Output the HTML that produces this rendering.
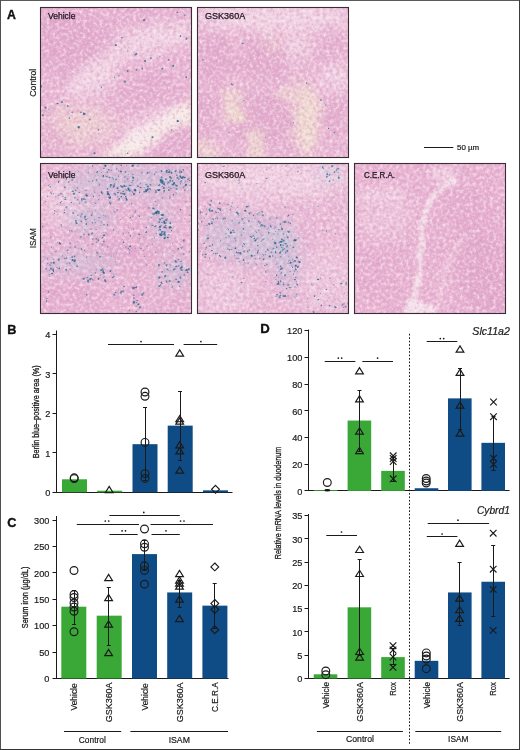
<!DOCTYPE html>
<html><head><meta charset="utf-8"><style>
html,body{margin:0;padding:0;background:#fff;}
svg{display:block;}
text{font-family:"Liberation Sans", sans-serif;stroke:#1a1a1a;stroke-width:0.2px;}
</style></head><body>
<svg width="520" height="750" viewBox="0 0 520 750" font-family="Liberation Sans">
<rect x="0.00" y="0.00" width="520.00" height="750.00" fill="#ffffff" />
<defs>
<clipPath id="cp0"><rect x="40" y="7" width="152" height="151"/></clipPath>
<filter id="t0" x="0" y="0" width="1" height="1" color-interpolation-filters="sRGB">
  <feTurbulence type="fractalNoise" baseFrequency="0.3" numOctaves="3" seed="5" result="n"/>
  <feColorMatrix in="n" type="matrix" values="0 0 0 0 0.84  0 0 0 0 0.60  0 0 0 0 0.74  -1.8 0 0 0 0.86" result="dk"/>
  <feColorMatrix in="n" type="matrix" values="0 0 0 0 1  0 0 0 0 0.94  0 0 0 0 0.96  1.8 0 0 0 -0.86" result="lt"/>
  <feMerge><feMergeNode in="dk"/><feMergeNode in="lt"/></feMerge>
  <feGaussianBlur stdDeviation="0.55"/>
</filter>
<filter id="m0" x="0" y="0" width="1" height="1" color-interpolation-filters="sRGB">
  <feTurbulence type="fractalNoise" baseFrequency="0.07" numOctaves="2" seed="31"/>
  <feColorMatrix type="matrix" values="0 0 0 0 0.86  0 0 0 0 0.64  0 0 0 0 0.80  3 0 0 0 -1.35"/>
</filter>
<clipPath id="cp1"><rect x="197" y="7" width="152" height="151"/></clipPath>
<filter id="t1" x="0" y="0" width="1" height="1" color-interpolation-filters="sRGB">
  <feTurbulence type="fractalNoise" baseFrequency="0.3" numOctaves="3" seed="22" result="n"/>
  <feColorMatrix in="n" type="matrix" values="0 0 0 0 0.84  0 0 0 0 0.60  0 0 0 0 0.74  -1.8 0 0 0 0.86" result="dk"/>
  <feColorMatrix in="n" type="matrix" values="0 0 0 0 1  0 0 0 0 0.94  0 0 0 0 0.96  1.8 0 0 0 -0.86" result="lt"/>
  <feMerge><feMergeNode in="dk"/><feMergeNode in="lt"/></feMerge>
  <feGaussianBlur stdDeviation="0.55"/>
</filter>
<filter id="m1" x="0" y="0" width="1" height="1" color-interpolation-filters="sRGB">
  <feTurbulence type="fractalNoise" baseFrequency="0.07" numOctaves="2" seed="38"/>
  <feColorMatrix type="matrix" values="0 0 0 0 0.86  0 0 0 0 0.64  0 0 0 0 0.80  3 0 0 0 -1.35"/>
</filter>
<clipPath id="cp2"><rect x="40" y="163" width="152" height="151"/></clipPath>
<filter id="t2" x="0" y="0" width="1" height="1" color-interpolation-filters="sRGB">
  <feTurbulence type="fractalNoise" baseFrequency="0.3" numOctaves="3" seed="39" result="n"/>
  <feColorMatrix in="n" type="matrix" values="0 0 0 0 0.84  0 0 0 0 0.60  0 0 0 0 0.74  -1.8 0 0 0 0.86" result="dk"/>
  <feColorMatrix in="n" type="matrix" values="0 0 0 0 1  0 0 0 0 0.94  0 0 0 0 0.96  1.8 0 0 0 -0.86" result="lt"/>
  <feMerge><feMergeNode in="dk"/><feMergeNode in="lt"/></feMerge>
  <feGaussianBlur stdDeviation="0.55"/>
</filter>
<filter id="m2" x="0" y="0" width="1" height="1" color-interpolation-filters="sRGB">
  <feTurbulence type="fractalNoise" baseFrequency="0.07" numOctaves="2" seed="45"/>
  <feColorMatrix type="matrix" values="0 0 0 0 0.86  0 0 0 0 0.64  0 0 0 0 0.80  3 0 0 0 -1.35"/>
</filter>
<clipPath id="cp3"><rect x="197" y="163" width="152" height="151"/></clipPath>
<filter id="t3" x="0" y="0" width="1" height="1" color-interpolation-filters="sRGB">
  <feTurbulence type="fractalNoise" baseFrequency="0.3" numOctaves="3" seed="56" result="n"/>
  <feColorMatrix in="n" type="matrix" values="0 0 0 0 0.84  0 0 0 0 0.60  0 0 0 0 0.74  -1.8 0 0 0 0.86" result="dk"/>
  <feColorMatrix in="n" type="matrix" values="0 0 0 0 1  0 0 0 0 0.94  0 0 0 0 0.96  1.8 0 0 0 -0.86" result="lt"/>
  <feMerge><feMergeNode in="dk"/><feMergeNode in="lt"/></feMerge>
  <feGaussianBlur stdDeviation="0.55"/>
</filter>
<filter id="m3" x="0" y="0" width="1" height="1" color-interpolation-filters="sRGB">
  <feTurbulence type="fractalNoise" baseFrequency="0.07" numOctaves="2" seed="52"/>
  <feColorMatrix type="matrix" values="0 0 0 0 0.86  0 0 0 0 0.64  0 0 0 0 0.80  3 0 0 0 -1.35"/>
</filter>
<clipPath id="cp4"><rect x="354" y="163" width="152" height="151"/></clipPath>
<filter id="t4" x="0" y="0" width="1" height="1" color-interpolation-filters="sRGB">
  <feTurbulence type="fractalNoise" baseFrequency="0.3" numOctaves="3" seed="73" result="n"/>
  <feColorMatrix in="n" type="matrix" values="0 0 0 0 0.84  0 0 0 0 0.60  0 0 0 0 0.74  -1.8 0 0 0 0.86" result="dk"/>
  <feColorMatrix in="n" type="matrix" values="0 0 0 0 1  0 0 0 0 0.94  0 0 0 0 0.96  1.8 0 0 0 -0.86" result="lt"/>
  <feMerge><feMergeNode in="dk"/><feMergeNode in="lt"/></feMerge>
  <feGaussianBlur stdDeviation="0.55"/>
</filter>
<filter id="m4" x="0" y="0" width="1" height="1" color-interpolation-filters="sRGB">
  <feTurbulence type="fractalNoise" baseFrequency="0.07" numOctaves="2" seed="59"/>
  <feColorMatrix type="matrix" values="0 0 0 0 0.86  0 0 0 0 0.64  0 0 0 0 0.80  3 0 0 0 -1.35"/>
</filter>
<filter id="b1" x="-50%" y="-50%" width="200%" height="200%"><feGaussianBlur stdDeviation="1"/></filter>
<filter id="b2" x="-50%" y="-50%" width="200%" height="200%"><feGaussianBlur stdDeviation="2"/></filter>
<filter id="b3" x="-50%" y="-50%" width="200%" height="200%"><feGaussianBlur stdDeviation="3"/></filter>
<filter id="b4" x="-50%" y="-50%" width="200%" height="200%"><feGaussianBlur stdDeviation="4"/></filter>
<filter id="b5" x="-50%" y="-50%" width="200%" height="200%"><feGaussianBlur stdDeviation="5"/></filter>
<filter id="b6" x="-50%" y="-50%" width="200%" height="200%"><feGaussianBlur stdDeviation="6"/></filter>
<filter id="b8" x="-50%" y="-50%" width="200%" height="200%"><feGaussianBlur stdDeviation="8"/></filter>
<filter id="org0" x="-10%" y="-10%" width="120%" height="120%"><feTurbulence type="fractalNoise" baseFrequency="0.08" numOctaves="2" seed="50" result="t"/><feDisplacementMap in="SourceGraphic" in2="t" scale="16" xChannelSelector="R" yChannelSelector="G"/><feGaussianBlur stdDeviation="2.5"/></filter>
<filter id="org1" x="-10%" y="-10%" width="120%" height="120%"><feTurbulence type="fractalNoise" baseFrequency="0.08" numOctaves="2" seed="51" result="t"/><feDisplacementMap in="SourceGraphic" in2="t" scale="22" xChannelSelector="R" yChannelSelector="G"/><feGaussianBlur stdDeviation="2.5"/></filter>
<filter id="org2" x="-10%" y="-10%" width="120%" height="120%"><feTurbulence type="fractalNoise" baseFrequency="0.08" numOctaves="2" seed="52" result="t"/><feDisplacementMap in="SourceGraphic" in2="t" scale="16" xChannelSelector="R" yChannelSelector="G"/><feGaussianBlur stdDeviation="2.5"/></filter>
<filter id="org3" x="-10%" y="-10%" width="120%" height="120%"><feTurbulence type="fractalNoise" baseFrequency="0.08" numOctaves="2" seed="53" result="t"/><feDisplacementMap in="SourceGraphic" in2="t" scale="16" xChannelSelector="R" yChannelSelector="G"/><feGaussianBlur stdDeviation="2.5"/></filter>
<filter id="org4" x="-10%" y="-10%" width="120%" height="120%"><feTurbulence type="fractalNoise" baseFrequency="0.08" numOctaves="2" seed="54" result="t"/><feDisplacementMap in="SourceGraphic" in2="t" scale="5" xChannelSelector="R" yChannelSelector="G"/><feGaussianBlur stdDeviation="0.8"/></filter>
<filter id="bd" x="-100%" y="-100%" width="300%" height="300%"><feGaussianBlur stdDeviation="0.45"/></filter>
</defs>
<g clip-path="url(#cp0)">
<rect x="40" y="7" width="152" height="151" fill="#e9b8d5"/>
<rect x="40" y="7" width="152" height="151" filter="url(#m0)" opacity="0.35"/>
<g filter="url(#org0)">
<ellipse cx="70" cy="42" rx="40" ry="32" transform="rotate(20 70 42)" fill="#dc9fc6" opacity="0.45" filter="url(#b8)"/>
<ellipse cx="145" cy="19" rx="45" ry="12" transform="rotate(-10 145 19)" fill="#dc9fc6" opacity="0.25" filter="url(#b8)"/>
<ellipse cx="152" cy="39" rx="45" ry="14" transform="rotate(-15 152 39)" fill="#f6e6ee" opacity="0.6" filter="url(#b6)"/>
<ellipse cx="95" cy="75" rx="32" ry="15" transform="rotate(-35 95 75)" fill="#f6e6ee" opacity="0.65" filter="url(#b6)"/>
<ellipse cx="150" cy="92" rx="28" ry="18" transform="rotate(0 150 92)" fill="#dc9fc6" opacity="0.3" filter="url(#b8)"/>
<ellipse cx="80" cy="125" rx="35" ry="20" transform="rotate(0 80 125)" fill="#f0e0d0" opacity="0.55" filter="url(#b8)"/>
<ellipse cx="50" cy="139" rx="15" ry="20" transform="rotate(0 50 139)" fill="#dc9fc6" opacity="0.25" filter="url(#b6)"/>
<polygon points="98.0,158.0 140.0,129.0 192.0,97.0 192.0,123.0 150.0,143.0 132.0,158.0" fill="#f6ece4" opacity="1.0" filter="url(#b2)"/>
<ellipse cx="150" cy="127" rx="35" ry="12" transform="rotate(-32 150 127)" fill="#f6e6ee" opacity="0.6" filter="url(#b5)"/>
<ellipse cx="172" cy="147" rx="28" ry="14" transform="rotate(-30 172 147)" fill="#dc9fc6" opacity="0.3" filter="url(#b6)"/>
</g>
<rect x="40" y="7" width="152" height="151" filter="url(#t0)"/>
<g filter="url(#bd)"><ellipse cx="143.8" cy="20.2" rx="0.96" ry="1.00" fill="#4a82a8" opacity="0.85"/><ellipse cx="144.6" cy="19.7" rx="0.83" ry="0.80" fill="#2b557c" opacity="0.64"/><ellipse cx="177.4" cy="12.3" rx="0.91" ry="0.71" fill="#3a6890" opacity="0.89"/><ellipse cx="184.7" cy="15.2" rx="0.87" ry="0.96" fill="#5a8fb0" opacity="0.73"/><ellipse cx="127.7" cy="50.9" rx="0.72" ry="0.67" fill="#4a82a8" opacity="0.66"/><ellipse cx="136.5" cy="53.8" rx="0.78" ry="1.07" fill="#3a6890" opacity="0.81"/><ellipse cx="135.6" cy="54.6" rx="1.02" ry="0.98" fill="#2f6288" opacity="0.65"/><ellipse cx="145.3" cy="61.1" rx="0.68" ry="0.94" fill="#2f6288" opacity="0.81"/><ellipse cx="144.8" cy="61.1" rx="0.95" ry="1.00" fill="#3a7098" opacity="0.63"/><ellipse cx="151.1" cy="58.2" rx="0.73" ry="0.99" fill="#5a8fb0" opacity="0.78"/><ellipse cx="150.7" cy="58.1" rx="1.04" ry="0.69" fill="#2f6288" opacity="0.66"/><ellipse cx="159.9" cy="56.7" rx="0.70" ry="0.73" fill="#5a8fb0" opacity="0.67"/><ellipse cx="168.7" cy="59.6" rx="0.78" ry="0.65" fill="#3a6890" opacity="0.71"/><ellipse cx="168.5" cy="60.2" rx="0.71" ry="0.64" fill="#3a6890" opacity="0.68"/><ellipse cx="173.0" cy="65.5" rx="0.97" ry="0.85" fill="#3a7098" opacity="0.55"/><ellipse cx="173.0" cy="66.0" rx="1.06" ry="1.05" fill="#5a8fb0" opacity="0.62"/><ellipse cx="173.5" cy="65.8" rx="0.88" ry="0.67" fill="#2f6288" opacity="0.86"/><ellipse cx="162.8" cy="68.4" rx="0.73" ry="0.70" fill="#4a82a8" opacity="0.60"/><ellipse cx="162.1" cy="68.8" rx="0.70" ry="0.93" fill="#2f6288" opacity="0.84"/><ellipse cx="142.3" cy="68.4" rx="0.75" ry="0.97" fill="#3a7098" opacity="0.83"/><ellipse cx="136.5" cy="69.9" rx="0.82" ry="0.74" fill="#2f6288" opacity="0.56"/><ellipse cx="136.2" cy="69.7" rx="0.71" ry="0.94" fill="#5a8fb0" opacity="0.86"/><ellipse cx="127.7" cy="71.3" rx="0.86" ry="0.82" fill="#3a7098" opacity="0.57"/><ellipse cx="127.6" cy="70.8" rx="0.91" ry="0.72" fill="#2f6288" opacity="0.74"/><ellipse cx="118.9" cy="75.7" rx="0.78" ry="0.76" fill="#5a8fb0" opacity="0.73"/><ellipse cx="114.6" cy="77.2" rx="0.75" ry="0.82" fill="#4a82a8" opacity="0.83"/><ellipse cx="124.8" cy="81.6" rx="0.89" ry="0.91" fill="#3a7098" opacity="0.60"/><ellipse cx="125.5" cy="81.8" rx="0.75" ry="0.83" fill="#4a82a8" opacity="0.69"/><ellipse cx="124.7" cy="81.1" rx="0.96" ry="0.85" fill="#4a82a8" opacity="0.71"/><ellipse cx="186.2" cy="77.2" rx="0.79" ry="1.04" fill="#3a6890" opacity="0.89"/><ellipse cx="180.4" cy="36.2" rx="0.64" ry="0.90" fill="#2f6288" opacity="0.85"/><ellipse cx="186.2" cy="39.2" rx="0.71" ry="0.79" fill="#4a82a8" opacity="0.80"/><ellipse cx="186.8" cy="38.4" rx="0.77" ry="0.98" fill="#3a7098" opacity="0.70"/><ellipse cx="101.4" cy="87.4" rx="0.67" ry="1.00" fill="#2f6288" opacity="0.67"/><ellipse cx="110.2" cy="94.7" rx="0.64" ry="0.68" fill="#5a8fb0" opacity="0.56"/><ellipse cx="45.8" cy="107.9" rx="0.81" ry="1.02" fill="#2f6288" opacity="0.58"/><ellipse cx="45.2" cy="107.3" rx="0.89" ry="0.79" fill="#3a6890" opacity="0.65"/><ellipse cx="48.8" cy="109.3" rx="0.67" ry="0.72" fill="#5a8fb0" opacity="0.78"/><ellipse cx="57.5" cy="103.5" rx="1.07" ry="0.64" fill="#5a8fb0" opacity="0.60"/><ellipse cx="57.6" cy="103.6" rx="0.98" ry="0.70" fill="#2b557c" opacity="0.70"/><ellipse cx="61.9" cy="102.0" rx="0.93" ry="1.02" fill="#4a82a8" opacity="0.79"/><ellipse cx="62.0" cy="102.2" rx="0.77" ry="0.83" fill="#4a82a8" opacity="0.66"/><ellipse cx="67.8" cy="106.4" rx="0.69" ry="0.88" fill="#3a7098" opacity="0.75"/><ellipse cx="67.8" cy="105.7" rx="0.91" ry="0.64" fill="#3a7098" opacity="0.66"/><ellipse cx="72.2" cy="112.3" rx="0.87" ry="0.84" fill="#2b557c" opacity="0.57"/><ellipse cx="80.9" cy="112.3" rx="1.04" ry="0.78" fill="#2f6288" opacity="0.68"/><ellipse cx="83.9" cy="113.7" rx="0.74" ry="1.08" fill="#2b557c" opacity="0.87"/><ellipse cx="84.6" cy="113.8" rx="1.05" ry="0.92" fill="#2f6288" opacity="0.79"/><ellipse cx="83.8" cy="114.2" rx="0.92" ry="0.66" fill="#3a7098" opacity="0.75"/><ellipse cx="69.2" cy="118.1" rx="0.67" ry="0.89" fill="#2f6288" opacity="0.89"/><ellipse cx="42.9" cy="115.2" rx="0.85" ry="0.96" fill="#2b557c" opacity="0.78"/><ellipse cx="79.5" cy="126.9" rx="0.74" ry="0.83" fill="#5a8fb0" opacity="0.59"/><ellipse cx="78.6" cy="127.6" rx="1.04" ry="0.80" fill="#2b557c" opacity="0.72"/><ellipse cx="78.7" cy="126.8" rx="0.78" ry="0.83" fill="#2b557c" opacity="0.75"/><ellipse cx="98.5" cy="129.8" rx="0.73" ry="0.91" fill="#2b557c" opacity="0.64"/><ellipse cx="89.7" cy="119.6" rx="0.91" ry="0.86" fill="#3a6890" opacity="0.65"/><ellipse cx="152.6" cy="137.1" rx="1.03" ry="0.94" fill="#2f6288" opacity="0.83"/><ellipse cx="152.2" cy="137.5" rx="0.80" ry="1.05" fill="#4a82a8" opacity="0.63"/><ellipse cx="171.6" cy="129.8" rx="0.74" ry="0.88" fill="#3a7098" opacity="0.60"/><ellipse cx="177.4" cy="121.0" rx="0.99" ry="0.98" fill="#4a82a8" opacity="0.62"/><ellipse cx="178.0" cy="121.3" rx="0.86" ry="0.64" fill="#2b557c" opacity="0.69"/><ellipse cx="177.8" cy="120.9" rx="0.92" ry="0.96" fill="#2b557c" opacity="0.75"/><ellipse cx="94.1" cy="153.2" rx="0.86" ry="0.87" fill="#3a6890" opacity="0.72"/><ellipse cx="94.7" cy="153.2" rx="0.92" ry="1.03" fill="#3a7098" opacity="0.80"/><ellipse cx="127.7" cy="153.2" rx="0.75" ry="0.77" fill="#2b557c" opacity="0.81"/><ellipse cx="41.5" cy="85.9" rx="0.67" ry="0.81" fill="#3a6890" opacity="0.59"/><ellipse cx="41.3" cy="86.8" rx="0.63" ry="0.84" fill="#3a6890" opacity="0.56"/><ellipse cx="121.9" cy="37.7" rx="1.01" ry="0.75" fill="#2f6288" opacity="0.69"/><ellipse cx="116.0" cy="45.0" rx="0.78" ry="0.90" fill="#2b557c" opacity="0.56"/><ellipse cx="115.6" cy="45.2" rx="0.84" ry="0.79" fill="#2b557c" opacity="0.72"/></g>
</g>
<g clip-path="url(#cp1)">
<rect x="197" y="7" width="152" height="151" fill="#eabbd6"/>
<rect x="197" y="7" width="152" height="151" filter="url(#m1)" opacity="0.35"/>
<g filter="url(#org1)">
<ellipse cx="273" cy="17" rx="80" ry="14" transform="rotate(0 273 17)" fill="#f6e6ee" opacity="0.6" filter="url(#b6)"/>
<ellipse cx="217" cy="57" rx="17" ry="26" transform="rotate(0 217 57)" fill="#dc9fc6" opacity="0.45" filter="url(#b5)"/>
<ellipse cx="263" cy="59" rx="22" ry="22" transform="rotate(0 263 59)" fill="#dc9fc6" opacity="0.45" filter="url(#b5)"/>
<ellipse cx="336" cy="51" rx="13" ry="14" transform="rotate(0 336 51)" fill="#dc9fc6" opacity="0.35" filter="url(#b5)"/>
<ellipse cx="297" cy="47" rx="14" ry="12" transform="rotate(0 297 47)" fill="#f6e6ee" opacity="0.5" filter="url(#b5)"/>
<ellipse cx="272" cy="43" rx="8" ry="10" transform="rotate(0 272 43)" fill="#f0e0d0" opacity="0.5" filter="url(#b4)"/>
<ellipse cx="206" cy="111" rx="9" ry="28" transform="rotate(0 206 111)" fill="#dc9fc6" opacity="0.4" filter="url(#b4)"/>
<ellipse cx="263" cy="121" rx="30" ry="30" transform="rotate(0 263 121)" fill="#dc9fc6" opacity="0.45" filter="url(#b5)"/>
<ellipse cx="334" cy="115" rx="14" ry="24" transform="rotate(0 334 115)" fill="#dc9fc6" opacity="0.35" filter="url(#b4)"/>
<ellipse cx="233" cy="107" rx="8" ry="18" transform="rotate(-15 233 107)" fill="#f0e0d0" opacity="0.9" filter="url(#b3)"/>
<ellipse cx="307" cy="119" rx="12" ry="34" transform="rotate(0 307 119)" fill="#f0e0d0" opacity="0.9" filter="url(#b4)"/>
<ellipse cx="255" cy="145" rx="9" ry="14" transform="rotate(0 255 145)" fill="#f0e0d0" opacity="0.8" filter="url(#b3)"/>
<ellipse cx="205" cy="149" rx="10" ry="10" transform="rotate(0 205 149)" fill="#f0e0d0" opacity="0.8" filter="url(#b3)"/>
<ellipse cx="289" cy="93" rx="10" ry="8" transform="rotate(0 289 93)" fill="#f0e0d0" opacity="0.6" filter="url(#b3)"/>
<ellipse cx="335" cy="77" rx="14" ry="12" transform="rotate(0 335 77)" fill="#f6e6ee" opacity="0.6" filter="url(#b4)"/>
</g>
<rect x="197" y="7" width="152" height="151" filter="url(#t1)"/>
<g filter="url(#bd)"><ellipse cx="242.3" cy="43.5" rx="0.76" ry="0.62" fill="#3a6890" opacity="0.84"/><ellipse cx="242.9" cy="43.2" rx="0.68" ry="0.66" fill="#3a6890" opacity="0.55"/><ellipse cx="242.8" cy="43.1" rx="0.83" ry="0.57" fill="#5a8fb0" opacity="0.67"/><ellipse cx="232.1" cy="84.5" rx="0.78" ry="0.70" fill="#2b557c" opacity="0.66"/><ellipse cx="231.4" cy="83.9" rx="0.51" ry="0.74" fill="#3a6890" opacity="0.88"/><ellipse cx="243.8" cy="100.6" rx="0.76" ry="0.53" fill="#3a7098" opacity="0.62"/><ellipse cx="278.9" cy="100.6" rx="0.49" ry="0.61" fill="#5a8fb0" opacity="0.64"/><ellipse cx="321.3" cy="100.6" rx="0.71" ry="0.82" fill="#5a8fb0" opacity="0.66"/><ellipse cx="320.9" cy="99.7" rx="0.53" ry="0.64" fill="#3a6890" opacity="0.66"/><ellipse cx="320.8" cy="100.0" rx="0.59" ry="0.51" fill="#2f6288" opacity="0.60"/><ellipse cx="325.7" cy="105.0" rx="0.74" ry="0.56" fill="#4a82a8" opacity="0.87"/><ellipse cx="306.6" cy="83.0" rx="0.52" ry="0.74" fill="#2f6288" opacity="0.83"/><ellipse cx="229.2" cy="132.7" rx="0.74" ry="0.51" fill="#2f6288" opacity="0.56"/><ellipse cx="265.7" cy="137.1" rx="0.62" ry="0.69" fill="#3a7098" opacity="0.61"/><ellipse cx="328.6" cy="128.3" rx="0.73" ry="0.67" fill="#2b557c" opacity="0.84"/><ellipse cx="334.4" cy="132.7" rx="0.75" ry="0.75" fill="#3a7098" opacity="0.58"/><ellipse cx="335.1" cy="132.1" rx="0.62" ry="0.83" fill="#4a82a8" opacity="0.62"/><ellipse cx="202.8" cy="59.6" rx="0.63" ry="0.61" fill="#4a82a8" opacity="0.72"/><ellipse cx="202.9" cy="59.7" rx="0.54" ry="0.50" fill="#2f6288" opacity="0.86"/><ellipse cx="293.5" cy="122.5" rx="0.54" ry="0.73" fill="#5a8fb0" opacity="0.81"/><ellipse cx="293.0" cy="122.8" rx="0.59" ry="0.49" fill="#5a8fb0" opacity="0.68"/></g>
</g>
<g clip-path="url(#cp2)">
<rect x="40" y="163" width="152" height="151" fill="#e9b8d5"/>
<rect x="40" y="163" width="152" height="151" filter="url(#m2)" opacity="0.35"/>
<g filter="url(#org2)">
<ellipse cx="60" cy="201" rx="22" ry="22" transform="rotate(0 60 201)" fill="#f6e6ee" opacity="0.4" filter="url(#b8)"/>
<ellipse cx="125" cy="251" rx="35" ry="18" transform="rotate(0 125 251)" fill="#dc9fc6" opacity="0.3" filter="url(#b8)"/>
<ellipse cx="70" cy="298" rx="35" ry="18" transform="rotate(0 70 298)" fill="#dc9fc6" opacity="0.3" filter="url(#b8)"/>
<ellipse cx="170" cy="303" rx="25" ry="14" transform="rotate(0 170 303)" fill="#dc9fc6" opacity="0.2" filter="url(#b8)"/>
</g>
<rect x="40" y="163" width="152" height="151" filter="url(#t2)"/>
<ellipse cx="130" cy="181" rx="70" ry="16" transform="rotate(0 130 181)" fill="#a8cadc" opacity="0.28" filter="url(#b8)"/>
<ellipse cx="162" cy="223" rx="10" ry="20" transform="rotate(0 162 223)" fill="#a8cadc" opacity="0.28" filter="url(#b8)"/>
<ellipse cx="80" cy="263" rx="40" ry="10" transform="rotate(0 80 263)" fill="#a8cadc" opacity="0.28" filter="url(#b8)"/>
<ellipse cx="174" cy="273" rx="18" ry="14" transform="rotate(0 174 273)" fill="#a8cadc" opacity="0.28" filter="url(#b8)"/>
<ellipse cx="90" cy="218" rx="25" ry="14" transform="rotate(0 90 218)" fill="#a8cadc" opacity="0.28" filter="url(#b8)"/>
<g filter="url(#bd)"><ellipse cx="180.5" cy="181.3" rx="0.83" ry="0.57" fill="#5a8fb0" opacity="0.81"/><ellipse cx="110.9" cy="184.8" rx="0.72" ry="0.60" fill="#3a6890" opacity="0.81"/><ellipse cx="111.7" cy="185.5" rx="0.65" ry="0.48" fill="#5a8fb0" opacity="0.75"/><ellipse cx="125.8" cy="193.1" rx="0.56" ry="0.69" fill="#5a8fb0" opacity="0.66"/><ellipse cx="134.6" cy="190.0" rx="0.79" ry="1.06" fill="#3a7098" opacity="0.72"/><ellipse cx="135.0" cy="189.8" rx="1.17" ry="0.92" fill="#3a6890" opacity="0.59"/><ellipse cx="135.3" cy="190.6" rx="0.96" ry="0.98" fill="#2f6288" opacity="0.78"/><ellipse cx="145.6" cy="189.7" rx="0.67" ry="0.78" fill="#2f6288" opacity="0.58"/><ellipse cx="149.9" cy="188.8" rx="0.75" ry="0.72" fill="#2b557c" opacity="0.88"/><ellipse cx="150.7" cy="189.7" rx="0.57" ry="0.48" fill="#2f6288" opacity="0.81"/><ellipse cx="120.7" cy="185.8" rx="0.83" ry="0.73" fill="#3a6890" opacity="0.63"/><ellipse cx="120.8" cy="185.7" rx="0.73" ry="0.84" fill="#5a8fb0" opacity="0.74"/><ellipse cx="180.6" cy="183.7" rx="0.46" ry="0.68" fill="#4a82a8" opacity="0.77"/><ellipse cx="177.3" cy="178.2" rx="0.93" ry="0.63" fill="#5a8fb0" opacity="0.85"/><ellipse cx="177.5" cy="177.6" rx="0.94" ry="0.88" fill="#3a6890" opacity="0.59"/><ellipse cx="128.5" cy="189.5" rx="0.83" ry="0.75" fill="#4a82a8" opacity="0.87"/><ellipse cx="129.3" cy="189.1" rx="0.68" ry="0.67" fill="#3a6890" opacity="0.66"/><ellipse cx="128.8" cy="189.7" rx="0.59" ry="0.96" fill="#2f6288" opacity="0.74"/><ellipse cx="121.9" cy="186.8" rx="0.99" ry="1.03" fill="#3a7098" opacity="0.82"/><ellipse cx="122.8" cy="186.7" rx="0.73" ry="0.75" fill="#2f6288" opacity="0.77"/><ellipse cx="129.5" cy="191.0" rx="0.84" ry="0.76" fill="#3a7098" opacity="0.70"/><ellipse cx="157.6" cy="189.8" rx="0.91" ry="0.79" fill="#2f6288" opacity="0.57"/><ellipse cx="133.8" cy="193.6" rx="1.07" ry="0.77" fill="#4a82a8" opacity="0.61"/><ellipse cx="133.9" cy="194.2" rx="0.95" ry="0.84" fill="#2b557c" opacity="0.68"/><ellipse cx="118.7" cy="190.3" rx="0.93" ry="0.67" fill="#4a82a8" opacity="0.61"/><ellipse cx="183.5" cy="187.1" rx="0.67" ry="0.71" fill="#2f6288" opacity="0.71"/><ellipse cx="139.6" cy="192.5" rx="0.59" ry="0.76" fill="#3a6890" opacity="0.88"/><ellipse cx="138.3" cy="186.3" rx="0.74" ry="0.52" fill="#2f6288" opacity="0.68"/><ellipse cx="137.7" cy="185.9" rx="0.47" ry="0.72" fill="#2b557c" opacity="0.86"/><ellipse cx="110.2" cy="186.6" rx="0.65" ry="0.78" fill="#4a82a8" opacity="0.72"/><ellipse cx="110.7" cy="186.9" rx="0.57" ry="0.58" fill="#3a7098" opacity="0.58"/><ellipse cx="135.2" cy="189.5" rx="0.75" ry="0.70" fill="#4a82a8" opacity="0.59"/><ellipse cx="135.4" cy="190.3" rx="1.00" ry="0.72" fill="#2f6288" opacity="0.84"/><ellipse cx="111.6" cy="185.0" rx="0.97" ry="0.71" fill="#4a82a8" opacity="0.60"/><ellipse cx="110.7" cy="184.7" rx="1.03" ry="0.74" fill="#2b557c" opacity="0.65"/><ellipse cx="111.0" cy="185.4" rx="0.92" ry="0.85" fill="#5a8fb0" opacity="0.89"/><ellipse cx="162.9" cy="183.3" rx="0.66" ry="0.77" fill="#3a6890" opacity="0.60"/><ellipse cx="162.7" cy="182.9" rx="0.72" ry="0.72" fill="#2f6288" opacity="0.67"/><ellipse cx="162.0" cy="183.2" rx="0.69" ry="0.65" fill="#3a6890" opacity="0.72"/><ellipse cx="170.3" cy="180.2" rx="0.68" ry="0.80" fill="#3a7098" opacity="0.68"/><ellipse cx="170.4" cy="180.9" rx="0.64" ry="0.71" fill="#2b557c" opacity="0.60"/><ellipse cx="169.9" cy="180.9" rx="0.76" ry="0.84" fill="#3a7098" opacity="0.65"/><ellipse cx="189.7" cy="180.5" rx="0.73" ry="0.58" fill="#2b557c" opacity="0.72"/><ellipse cx="113.8" cy="186.2" rx="0.94" ry="0.79" fill="#4a82a8" opacity="0.89"/><ellipse cx="114.3" cy="185.6" rx="0.68" ry="0.91" fill="#3a7098" opacity="0.82"/><ellipse cx="113.4" cy="186.9" rx="0.89" ry="0.67" fill="#2b557c" opacity="0.73"/><ellipse cx="185.4" cy="181.8" rx="0.74" ry="1.04" fill="#5a8fb0" opacity="0.57"/><ellipse cx="175.3" cy="185.1" rx="0.81" ry="0.76" fill="#2f6288" opacity="0.69"/><ellipse cx="147.7" cy="186.4" rx="0.90" ry="0.82" fill="#3a6890" opacity="0.72"/><ellipse cx="148.4" cy="187.1" rx="0.61" ry="0.86" fill="#3a7098" opacity="0.56"/><ellipse cx="146.3" cy="190.6" rx="0.72" ry="0.95" fill="#3a7098" opacity="0.76"/><ellipse cx="145.8" cy="191.4" rx="1.12" ry="0.91" fill="#2f6288" opacity="0.80"/><ellipse cx="125.7" cy="189.2" rx="0.71" ry="0.78" fill="#5a8fb0" opacity="0.72"/><ellipse cx="118.3" cy="192.5" rx="0.81" ry="0.67" fill="#3a7098" opacity="0.69"/><ellipse cx="117.6" cy="192.7" rx="0.59" ry="0.66" fill="#2f6288" opacity="0.68"/><ellipse cx="128.2" cy="188.5" rx="0.68" ry="0.88" fill="#2b557c" opacity="0.72"/><ellipse cx="128.3" cy="188.4" rx="0.78" ry="0.79" fill="#3a6890" opacity="0.82"/><ellipse cx="181.3" cy="180.9" rx="0.58" ry="0.67" fill="#5a8fb0" opacity="0.85"/><ellipse cx="181.8" cy="181.0" rx="0.57" ry="0.67" fill="#3a7098" opacity="0.67"/><ellipse cx="173.5" cy="184.2" rx="0.52" ry="0.74" fill="#3a7098" opacity="0.70"/><ellipse cx="173.7" cy="183.9" rx="0.71" ry="0.59" fill="#2f6288" opacity="0.90"/><ellipse cx="147.6" cy="189.5" rx="0.99" ry="0.84" fill="#2f6288" opacity="0.56"/><ellipse cx="147.9" cy="189.1" rx="1.05" ry="0.73" fill="#2f6288" opacity="0.86"/><ellipse cx="129.6" cy="190.2" rx="0.83" ry="0.75" fill="#3a7098" opacity="0.75"/><ellipse cx="130.1" cy="190.5" rx="0.85" ry="1.02" fill="#4a82a8" opacity="0.63"/><ellipse cx="129.2" cy="190.5" rx="0.68" ry="0.87" fill="#5a8fb0" opacity="0.75"/><ellipse cx="162.6" cy="186.3" rx="0.97" ry="0.62" fill="#3a7098" opacity="0.62"/><ellipse cx="173.0" cy="184.9" rx="0.79" ry="0.68" fill="#3a7098" opacity="0.82"/><ellipse cx="172.2" cy="184.5" rx="0.84" ry="0.88" fill="#4a82a8" opacity="0.90"/><ellipse cx="150.2" cy="184.5" rx="0.83" ry="0.75" fill="#5a8fb0" opacity="0.73"/><ellipse cx="150.7" cy="185.0" rx="0.95" ry="0.87" fill="#4a82a8" opacity="0.72"/><ellipse cx="146.1" cy="184.7" rx="0.60" ry="0.63" fill="#3a7098" opacity="0.89"/><ellipse cx="147.0" cy="184.8" rx="0.51" ry="0.54" fill="#4a82a8" opacity="0.74"/><ellipse cx="114.5" cy="184.0" rx="0.89" ry="0.86" fill="#5a8fb0" opacity="0.83"/><ellipse cx="114.1" cy="184.5" rx="0.70" ry="0.68" fill="#5a8fb0" opacity="0.57"/><ellipse cx="167.7" cy="183.8" rx="0.84" ry="0.82" fill="#4a82a8" opacity="0.71"/><ellipse cx="168.8" cy="190.1" rx="0.84" ry="0.83" fill="#2f6288" opacity="0.63"/><ellipse cx="168.9" cy="190.1" rx="0.82" ry="0.65" fill="#3a6890" opacity="0.88"/><ellipse cx="144.1" cy="191.8" rx="0.63" ry="0.83" fill="#2f6288" opacity="0.89"/><ellipse cx="177.2" cy="185.7" rx="0.89" ry="0.75" fill="#2f6288" opacity="0.82"/><ellipse cx="176.3" cy="185.6" rx="0.89" ry="1.07" fill="#4a82a8" opacity="0.87"/><ellipse cx="174.1" cy="183.1" rx="0.72" ry="1.15" fill="#3a6890" opacity="0.77"/><ellipse cx="173.9" cy="183.6" rx="0.77" ry="1.08" fill="#2f6288" opacity="0.77"/><ellipse cx="123.4" cy="191.3" rx="0.62" ry="0.53" fill="#2f6288" opacity="0.85"/><ellipse cx="122.8" cy="190.9" rx="0.60" ry="0.50" fill="#2b557c" opacity="0.58"/><ellipse cx="163.8" cy="183.9" rx="1.16" ry="1.15" fill="#3a7098" opacity="0.83"/><ellipse cx="164.3" cy="183.1" rx="1.06" ry="1.16" fill="#5a8fb0" opacity="0.55"/><ellipse cx="159.5" cy="189.8" rx="0.94" ry="0.88" fill="#2b557c" opacity="0.63"/><ellipse cx="158.8" cy="190.2" rx="0.97" ry="0.97" fill="#2b557c" opacity="0.86"/><ellipse cx="188.8" cy="178.7" rx="0.75" ry="0.68" fill="#3a6890" opacity="0.60"/><ellipse cx="188.0" cy="179.3" rx="0.73" ry="0.84" fill="#4a82a8" opacity="0.76"/><ellipse cx="182.6" cy="177.9" rx="0.70" ry="0.67" fill="#2f6288" opacity="0.66"/><ellipse cx="181.9" cy="178.3" rx="1.01" ry="0.71" fill="#3a6890" opacity="0.80"/><ellipse cx="183.0" cy="177.0" rx="1.06" ry="0.71" fill="#2b557c" opacity="0.78"/><ellipse cx="132.6" cy="192.2" rx="0.74" ry="0.47" fill="#3a7098" opacity="0.79"/><ellipse cx="184.7" cy="185.9" rx="0.53" ry="0.64" fill="#3a6890" opacity="0.61"/><ellipse cx="185.4" cy="185.6" rx="0.61" ry="0.58" fill="#4a82a8" opacity="0.62"/><ellipse cx="144.4" cy="187.7" rx="0.75" ry="0.74" fill="#5a8fb0" opacity="0.57"/><ellipse cx="176.2" cy="189.0" rx="0.71" ry="1.10" fill="#5a8fb0" opacity="0.73"/><ellipse cx="176.9" cy="188.8" rx="0.86" ry="1.14" fill="#4a82a8" opacity="0.66"/><ellipse cx="191.1" cy="185.8" rx="0.69" ry="0.64" fill="#4a82a8" opacity="0.79"/><ellipse cx="190.2" cy="185.2" rx="0.47" ry="0.69" fill="#5a8fb0" opacity="0.89"/><ellipse cx="191.4" cy="185.2" rx="0.48" ry="0.62" fill="#3a7098" opacity="0.69"/><ellipse cx="168.8" cy="187.1" rx="0.66" ry="0.55" fill="#2f6288" opacity="0.75"/><ellipse cx="161.2" cy="181.4" rx="0.90" ry="1.12" fill="#4a82a8" opacity="0.72"/><ellipse cx="160.6" cy="181.5" rx="0.91" ry="1.16" fill="#3a7098" opacity="0.75"/><ellipse cx="156.3" cy="192.2" rx="0.95" ry="0.79" fill="#4a82a8" opacity="0.78"/><ellipse cx="156.1" cy="192.2" rx="0.92" ry="0.73" fill="#4a82a8" opacity="0.60"/><ellipse cx="159.6" cy="184.7" rx="0.51" ry="0.77" fill="#3a7098" opacity="0.65"/><ellipse cx="158.7" cy="185.4" rx="0.50" ry="0.56" fill="#2f6288" opacity="0.75"/><ellipse cx="159.5" cy="185.2" rx="0.79" ry="0.68" fill="#3a6890" opacity="0.57"/><ellipse cx="162.4" cy="181.7" rx="0.97" ry="1.09" fill="#2b557c" opacity="0.72"/><ellipse cx="162.6" cy="181.3" rx="1.02" ry="0.95" fill="#3a6890" opacity="0.73"/><ellipse cx="161.9" cy="182.2" rx="0.89" ry="0.73" fill="#2b557c" opacity="0.61"/><ellipse cx="122.5" cy="193.8" rx="0.60" ry="0.53" fill="#4a82a8" opacity="0.83"/><ellipse cx="186.0" cy="184.8" rx="1.14" ry="1.15" fill="#2b557c" opacity="0.78"/><ellipse cx="123.3" cy="193.5" rx="0.40" ry="0.47" fill="#3a6890" opacity="0.58"/><ellipse cx="124.1" cy="193.8" rx="0.59" ry="0.66" fill="#5a8fb0" opacity="0.89"/><ellipse cx="163.9" cy="191.1" rx="0.67" ry="0.79" fill="#5a8fb0" opacity="0.62"/><ellipse cx="163.7" cy="191.9" rx="0.94" ry="0.76" fill="#3a7098" opacity="0.59"/><ellipse cx="164.2" cy="190.7" rx="0.59" ry="0.79" fill="#3a7098" opacity="0.64"/><ellipse cx="164.4" cy="190.7" rx="0.65" ry="0.67" fill="#2b557c" opacity="0.73"/><ellipse cx="146.5" cy="190.5" rx="0.78" ry="1.01" fill="#2f6288" opacity="0.68"/><ellipse cx="147.4" cy="190.0" rx="0.77" ry="0.89" fill="#2f6288" opacity="0.61"/><ellipse cx="139.8" cy="190.9" rx="0.43" ry="0.64" fill="#2b557c" opacity="0.59"/><ellipse cx="117.6" cy="188.7" rx="1.04" ry="0.63" fill="#3a7098" opacity="0.72"/><ellipse cx="117.5" cy="188.0" rx="0.83" ry="1.02" fill="#3a6890" opacity="0.77"/><ellipse cx="123.8" cy="185.1" rx="0.48" ry="0.57" fill="#4a82a8" opacity="0.83"/><ellipse cx="124.0" cy="185.7" rx="0.52" ry="0.50" fill="#2f6288" opacity="0.58"/><ellipse cx="163.8" cy="188.2" rx="0.89" ry="0.78" fill="#2b557c" opacity="0.70"/><ellipse cx="164.1" cy="187.7" rx="0.74" ry="0.70" fill="#4a82a8" opacity="0.79"/><ellipse cx="163.8" cy="188.0" rx="0.82" ry="0.92" fill="#5a8fb0" opacity="0.82"/><ellipse cx="125.8" cy="186.2" rx="0.61" ry="0.46" fill="#4a82a8" opacity="0.80"/><ellipse cx="126.1" cy="186.6" rx="0.66" ry="0.54" fill="#5a8fb0" opacity="0.87"/><ellipse cx="125.2" cy="186.6" rx="0.45" ry="0.45" fill="#2b557c" opacity="0.65"/><ellipse cx="155.9" cy="190.7" rx="0.70" ry="0.75" fill="#2b557c" opacity="0.67"/><ellipse cx="127.2" cy="190.4" rx="0.75" ry="0.69" fill="#5a8fb0" opacity="0.74"/><ellipse cx="126.7" cy="189.9" rx="0.58" ry="0.65" fill="#5a8fb0" opacity="0.88"/><ellipse cx="125.0" cy="185.7" rx="0.53" ry="0.55" fill="#3a7098" opacity="0.56"/><ellipse cx="124.2" cy="186.1" rx="0.74" ry="0.83" fill="#3a6890" opacity="0.66"/><ellipse cx="124.4" cy="186.0" rx="0.75" ry="0.84" fill="#2b557c" opacity="0.60"/><ellipse cx="109.6" cy="194.9" rx="0.70" ry="0.88" fill="#2f6288" opacity="0.66"/><ellipse cx="108.1" cy="194.5" rx="0.89" ry="0.75" fill="#5a8fb0" opacity="0.75"/><ellipse cx="126.1" cy="198.2" rx="0.79" ry="0.93" fill="#5a8fb0" opacity="0.66"/><ellipse cx="119.3" cy="198.8" rx="0.62" ry="0.72" fill="#2b557c" opacity="0.78"/><ellipse cx="118.8" cy="199.8" rx="1.01" ry="1.04" fill="#5a8fb0" opacity="0.68"/><ellipse cx="122.6" cy="193.3" rx="0.82" ry="0.65" fill="#4a82a8" opacity="0.59"/><ellipse cx="123.3" cy="193.7" rx="0.67" ry="0.67" fill="#3a7098" opacity="0.57"/><ellipse cx="123.0" cy="193.9" rx="0.82" ry="0.85" fill="#3a7098" opacity="0.55"/><ellipse cx="121.6" cy="196.3" rx="0.42" ry="0.61" fill="#2f6288" opacity="0.71"/><ellipse cx="121.5" cy="196.5" rx="0.58" ry="0.69" fill="#2f6288" opacity="0.74"/><ellipse cx="120.9" cy="193.9" rx="0.67" ry="0.70" fill="#2f6288" opacity="0.55"/><ellipse cx="121.0" cy="193.2" rx="0.77" ry="0.83" fill="#2f6288" opacity="0.75"/><ellipse cx="124.7" cy="193.7" rx="0.70" ry="0.69" fill="#5a8fb0" opacity="0.79"/><ellipse cx="124.6" cy="193.4" rx="0.51" ry="0.69" fill="#3a7098" opacity="0.57"/><ellipse cx="115.2" cy="194.2" rx="0.85" ry="0.80" fill="#4a82a8" opacity="0.59"/><ellipse cx="115.4" cy="194.4" rx="0.78" ry="1.06" fill="#4a82a8" opacity="0.77"/><ellipse cx="114.4" cy="193.6" rx="0.71" ry="0.51" fill="#2f6288" opacity="0.72"/><ellipse cx="126.1" cy="198.0" rx="0.53" ry="0.61" fill="#3a6890" opacity="0.75"/><ellipse cx="125.7" cy="197.2" rx="0.38" ry="0.44" fill="#5a8fb0" opacity="0.89"/><ellipse cx="108.7" cy="197.2" rx="0.49" ry="0.65" fill="#4a82a8" opacity="0.90"/><ellipse cx="109.5" cy="197.3" rx="0.53" ry="0.67" fill="#3a6890" opacity="0.66"/><ellipse cx="109.9" cy="197.8" rx="1.14" ry="0.71" fill="#2b557c" opacity="0.69"/><ellipse cx="109.9" cy="198.1" rx="1.09" ry="0.80" fill="#3a7098" opacity="0.68"/><ellipse cx="110.1" cy="197.6" rx="0.88" ry="1.00" fill="#3a6890" opacity="0.89"/><ellipse cx="117.8" cy="196.8" rx="0.80" ry="0.86" fill="#5a8fb0" opacity="0.71"/><ellipse cx="126.3" cy="199.0" rx="0.76" ry="0.73" fill="#2b557c" opacity="0.74"/><ellipse cx="124.4" cy="194.6" rx="0.63" ry="0.55" fill="#4a82a8" opacity="0.77"/><ellipse cx="124.8" cy="194.5" rx="0.54" ry="0.74" fill="#3a6890" opacity="0.86"/><ellipse cx="110.3" cy="197.3" rx="0.72" ry="0.91" fill="#2f6288" opacity="0.56"/><ellipse cx="166.3" cy="227.6" rx="0.77" ry="0.64" fill="#3a7098" opacity="0.56"/><ellipse cx="165.9" cy="227.9" rx="0.50" ry="0.61" fill="#3a6890" opacity="0.81"/><ellipse cx="159.2" cy="213.3" rx="0.84" ry="0.64" fill="#3a6890" opacity="0.66"/><ellipse cx="158.3" cy="213.4" rx="0.91" ry="0.85" fill="#4a82a8" opacity="0.67"/><ellipse cx="164.5" cy="238.0" rx="0.53" ry="0.66" fill="#3a7098" opacity="0.88"/><ellipse cx="164.0" cy="238.4" rx="0.57" ry="0.66" fill="#2f6288" opacity="0.65"/><ellipse cx="164.5" cy="238.7" rx="0.57" ry="0.83" fill="#3a7098" opacity="0.68"/><ellipse cx="159.6" cy="234.2" rx="0.87" ry="0.68" fill="#3a7098" opacity="0.71"/><ellipse cx="163.2" cy="234.4" rx="0.80" ry="0.77" fill="#3a7098" opacity="0.82"/><ellipse cx="161.5" cy="234.8" rx="0.96" ry="0.92" fill="#3a7098" opacity="0.76"/><ellipse cx="161.7" cy="234.4" rx="0.87" ry="1.04" fill="#2f6288" opacity="0.58"/><ellipse cx="161.2" cy="234.0" rx="1.15" ry="0.99" fill="#4a82a8" opacity="0.89"/><ellipse cx="157.5" cy="211.1" rx="0.91" ry="0.79" fill="#2b557c" opacity="0.79"/><ellipse cx="160.3" cy="229.9" rx="0.89" ry="0.59" fill="#4a82a8" opacity="0.86"/><ellipse cx="156.0" cy="215.1" rx="0.58" ry="0.60" fill="#5a8fb0" opacity="0.82"/><ellipse cx="160.4" cy="234.6" rx="0.63" ry="0.69" fill="#5a8fb0" opacity="0.77"/><ellipse cx="169.0" cy="234.8" rx="0.65" ry="0.87" fill="#3a6890" opacity="0.67"/><ellipse cx="156.2" cy="212.7" rx="1.01" ry="0.84" fill="#2b557c" opacity="0.58"/><ellipse cx="156.4" cy="212.5" rx="0.97" ry="0.79" fill="#3a7098" opacity="0.80"/><ellipse cx="156.4" cy="211.9" rx="0.90" ry="1.00" fill="#3a6890" opacity="0.75"/><ellipse cx="153.5" cy="214.1" rx="1.38" ry="1.26" fill="#5a8fb0" opacity="0.88"/><ellipse cx="161.4" cy="225.3" rx="0.85" ry="0.57" fill="#4a82a8" opacity="0.85"/><ellipse cx="158.0" cy="212.1" rx="0.81" ry="1.04" fill="#3a6890" opacity="0.63"/><ellipse cx="158.5" cy="212.0" rx="1.05" ry="0.71" fill="#2f6288" opacity="0.78"/><ellipse cx="162.1" cy="218.2" rx="0.77" ry="0.54" fill="#2b557c" opacity="0.68"/><ellipse cx="162.0" cy="217.7" rx="0.70" ry="0.55" fill="#3a6890" opacity="0.56"/><ellipse cx="161.9" cy="218.4" rx="0.69" ry="0.76" fill="#4a82a8" opacity="0.75"/><ellipse cx="164.5" cy="237.7" rx="1.15" ry="0.73" fill="#5a8fb0" opacity="0.65"/><ellipse cx="165.1" cy="237.2" rx="0.86" ry="1.04" fill="#5a8fb0" opacity="0.88"/><ellipse cx="164.8" cy="238.2" rx="0.80" ry="1.04" fill="#3a6890" opacity="0.83"/><ellipse cx="153.7" cy="208.7" rx="0.97" ry="0.78" fill="#5a8fb0" opacity="0.90"/><ellipse cx="154.2" cy="208.7" rx="0.68" ry="0.92" fill="#5a8fb0" opacity="0.63"/><ellipse cx="153.0" cy="208.2" rx="0.67" ry="0.87" fill="#2f6288" opacity="0.81"/><ellipse cx="164.0" cy="221.9" rx="0.98" ry="0.97" fill="#5a8fb0" opacity="0.86"/><ellipse cx="164.1" cy="222.2" rx="0.86" ry="0.68" fill="#5a8fb0" opacity="0.55"/><ellipse cx="164.3" cy="221.2" rx="0.79" ry="0.66" fill="#2b557c" opacity="0.80"/><ellipse cx="170.2" cy="222.9" rx="0.83" ry="0.94" fill="#3a6890" opacity="0.64"/><ellipse cx="170.4" cy="223.3" rx="0.75" ry="1.03" fill="#4a82a8" opacity="0.84"/><ellipse cx="164.6" cy="232.4" rx="0.79" ry="0.81" fill="#3a7098" opacity="0.85"/><ellipse cx="164.4" cy="231.9" rx="0.98" ry="0.75" fill="#5a8fb0" opacity="0.81"/><ellipse cx="166.1" cy="223.0" rx="0.72" ry="0.78" fill="#4a82a8" opacity="0.79"/><ellipse cx="164.3" cy="222.1" rx="0.84" ry="0.66" fill="#3a6890" opacity="0.67"/><ellipse cx="160.1" cy="226.8" rx="1.13" ry="1.02" fill="#2f6288" opacity="0.83"/><ellipse cx="159.6" cy="227.6" rx="0.93" ry="0.78" fill="#4a82a8" opacity="0.90"/><ellipse cx="169.8" cy="227.7" rx="0.86" ry="0.85" fill="#3a6890" opacity="0.79"/><ellipse cx="161.1" cy="234.9" rx="1.20" ry="1.31" fill="#4a82a8" opacity="0.65"/><ellipse cx="160.5" cy="235.0" rx="1.21" ry="0.86" fill="#2b557c" opacity="0.75"/><ellipse cx="164.9" cy="223.3" rx="0.95" ry="0.73" fill="#3a7098" opacity="0.88"/><ellipse cx="164.3" cy="223.2" rx="0.66" ry="0.84" fill="#3a6890" opacity="0.66"/><ellipse cx="164.7" cy="222.6" rx="0.92" ry="0.72" fill="#2f6288" opacity="0.68"/><ellipse cx="162.3" cy="222.6" rx="0.56" ry="0.68" fill="#5a8fb0" opacity="0.77"/><ellipse cx="161.7" cy="222.5" rx="0.53" ry="0.67" fill="#4a82a8" opacity="0.86"/><ellipse cx="158.4" cy="211.9" rx="1.17" ry="0.79" fill="#4a82a8" opacity="0.67"/><ellipse cx="158.7" cy="211.7" rx="0.86" ry="1.04" fill="#3a7098" opacity="0.80"/><ellipse cx="161.7" cy="231.8" rx="0.85" ry="0.81" fill="#2f6288" opacity="0.57"/><ellipse cx="160.0" cy="219.3" rx="1.10" ry="0.69" fill="#2f6288" opacity="0.77"/><ellipse cx="160.1" cy="220.1" rx="0.79" ry="0.93" fill="#3a7098" opacity="0.73"/><ellipse cx="162.1" cy="215.0" rx="0.91" ry="0.92" fill="#4a82a8" opacity="0.74"/><ellipse cx="161.7" cy="214.9" rx="1.21" ry="0.85" fill="#2f6288" opacity="0.67"/><ellipse cx="162.9" cy="215.1" rx="1.24" ry="1.05" fill="#3a7098" opacity="0.84"/><ellipse cx="170.2" cy="227.3" rx="1.34" ry="1.22" fill="#2f6288" opacity="0.75"/><ellipse cx="167.8" cy="237.4" rx="1.02" ry="0.75" fill="#2b557c" opacity="0.89"/><ellipse cx="165.0" cy="235.1" rx="0.93" ry="0.99" fill="#2f6288" opacity="0.83"/><ellipse cx="167.1" cy="218.8" rx="0.58" ry="0.53" fill="#2b557c" opacity="0.87"/><ellipse cx="159.4" cy="221.9" rx="0.70" ry="0.65" fill="#2f6288" opacity="0.86"/><ellipse cx="158.9" cy="222.2" rx="0.73" ry="0.50" fill="#3a7098" opacity="0.81"/><ellipse cx="162.0" cy="232.2" rx="0.90" ry="0.75" fill="#4a82a8" opacity="0.83"/><ellipse cx="162.9" cy="231.5" rx="0.77" ry="0.79" fill="#3a6890" opacity="0.76"/><ellipse cx="165.8" cy="225.5" rx="0.81" ry="0.72" fill="#3a7098" opacity="0.79"/><ellipse cx="164.7" cy="227.3" rx="1.32" ry="0.97" fill="#3a7098" opacity="0.84"/><ellipse cx="154.9" cy="213.3" rx="1.09" ry="1.16" fill="#2f6288" opacity="0.60"/><ellipse cx="159.9" cy="229.4" rx="0.56" ry="0.64" fill="#2f6288" opacity="0.69"/><ellipse cx="160.5" cy="229.4" rx="0.72" ry="0.51" fill="#2f6288" opacity="0.60"/><ellipse cx="164.8" cy="233.0" rx="0.73" ry="0.89" fill="#3a7098" opacity="0.64"/><ellipse cx="164.1" cy="233.6" rx="0.85" ry="0.95" fill="#3a6890" opacity="0.86"/><ellipse cx="156.8" cy="213.5" rx="0.78" ry="0.92" fill="#3a7098" opacity="0.73"/><ellipse cx="156.6" cy="212.9" rx="0.68" ry="0.77" fill="#3a7098" opacity="0.71"/><ellipse cx="156.0" cy="212.6" rx="0.95" ry="1.05" fill="#2b557c" opacity="0.65"/><ellipse cx="166.3" cy="220.0" rx="1.21" ry="1.34" fill="#3a7098" opacity="0.73"/><ellipse cx="162.4" cy="180.6" rx="0.62" ry="0.72" fill="#3a6890" opacity="0.60"/><ellipse cx="175.6" cy="171.2" rx="0.90" ry="0.65" fill="#2b557c" opacity="0.74"/><ellipse cx="175.2" cy="171.6" rx="0.63" ry="0.87" fill="#4a82a8" opacity="0.90"/><ellipse cx="176.0" cy="170.3" rx="0.81" ry="0.69" fill="#4a82a8" opacity="0.68"/><ellipse cx="180.3" cy="176.9" rx="0.75" ry="0.74" fill="#2f6288" opacity="0.90"/><ellipse cx="180.4" cy="176.7" rx="0.64" ry="0.58" fill="#2f6288" opacity="0.64"/><ellipse cx="181.5" cy="177.2" rx="0.73" ry="0.56" fill="#3a6890" opacity="0.79"/><ellipse cx="178.8" cy="179.6" rx="0.67" ry="0.46" fill="#2f6288" opacity="0.66"/><ellipse cx="179.1" cy="178.8" rx="0.59" ry="0.56" fill="#2b557c" opacity="0.76"/><ellipse cx="178.6" cy="178.8" rx="0.40" ry="0.59" fill="#4a82a8" opacity="0.60"/><ellipse cx="168.9" cy="169.4" rx="0.62" ry="0.69" fill="#4a82a8" opacity="0.84"/><ellipse cx="183.3" cy="169.8" rx="0.63" ry="0.76" fill="#2f6288" opacity="0.82"/><ellipse cx="183.6" cy="170.5" rx="0.55" ry="0.74" fill="#4a82a8" opacity="0.57"/><ellipse cx="174.5" cy="182.9" rx="0.68" ry="1.00" fill="#2f6288" opacity="0.57"/><ellipse cx="169.1" cy="171.9" rx="0.59" ry="0.81" fill="#2f6288" opacity="0.66"/><ellipse cx="168.6" cy="172.2" rx="0.93" ry="0.65" fill="#3a6890" opacity="0.86"/><ellipse cx="169.2" cy="172.0" rx="0.68" ry="0.68" fill="#2f6288" opacity="0.88"/><ellipse cx="169.9" cy="171.0" rx="0.41" ry="0.57" fill="#3a7098" opacity="0.75"/><ellipse cx="169.9" cy="170.8" rx="0.53" ry="0.44" fill="#2b557c" opacity="0.83"/><ellipse cx="179.5" cy="172.5" rx="0.49" ry="0.56" fill="#4a82a8" opacity="0.73"/><ellipse cx="179.6" cy="171.6" rx="0.50" ry="0.55" fill="#2f6288" opacity="0.67"/><ellipse cx="180.0" cy="173.3" rx="0.57" ry="0.67" fill="#2f6288" opacity="0.61"/><ellipse cx="161.9" cy="176.9" rx="0.52" ry="0.53" fill="#5a8fb0" opacity="0.73"/><ellipse cx="161.0" cy="177.3" rx="0.53" ry="0.56" fill="#3a7098" opacity="0.64"/><ellipse cx="166.7" cy="170.7" rx="0.83" ry="1.01" fill="#3a6890" opacity="0.69"/><ellipse cx="166.1" cy="171.2" rx="0.84" ry="0.82" fill="#5a8fb0" opacity="0.63"/><ellipse cx="167.0" cy="170.7" rx="0.86" ry="0.66" fill="#3a6890" opacity="0.80"/><ellipse cx="160.4" cy="180.6" rx="0.60" ry="0.62" fill="#3a6890" opacity="0.73"/><ellipse cx="169.8" cy="177.0" rx="0.95" ry="1.09" fill="#2b557c" opacity="0.57"/><ellipse cx="170.5" cy="177.2" rx="0.80" ry="1.10" fill="#3a7098" opacity="0.56"/><ellipse cx="172.5" cy="181.0" rx="1.00" ry="0.94" fill="#3a7098" opacity="0.72"/><ellipse cx="161.8" cy="177.5" rx="0.74" ry="0.91" fill="#3a7098" opacity="0.78"/><ellipse cx="181.6" cy="172.2" rx="0.73" ry="0.86" fill="#3a6890" opacity="0.85"/><ellipse cx="180.9" cy="171.6" rx="0.73" ry="0.81" fill="#3a7098" opacity="0.61"/><ellipse cx="171.3" cy="173.0" rx="0.81" ry="0.65" fill="#3a7098" opacity="0.87"/><ellipse cx="171.3" cy="172.3" rx="0.85" ry="0.90" fill="#3a6890" opacity="0.77"/><ellipse cx="171.9" cy="173.3" rx="0.77" ry="0.77" fill="#4a82a8" opacity="0.59"/><ellipse cx="168.4" cy="182.2" rx="0.72" ry="0.79" fill="#2b557c" opacity="0.56"/><ellipse cx="169.2" cy="182.7" rx="0.48" ry="0.54" fill="#4a82a8" opacity="0.87"/><ellipse cx="167.9" cy="181.9" rx="0.53" ry="0.76" fill="#4a82a8" opacity="0.85"/><ellipse cx="165.9" cy="179.1" rx="0.62" ry="0.58" fill="#2b557c" opacity="0.60"/><ellipse cx="165.7" cy="179.1" rx="0.60" ry="0.49" fill="#3a6890" opacity="0.60"/><ellipse cx="166.2" cy="179.2" rx="0.60" ry="0.66" fill="#2f6288" opacity="0.75"/><ellipse cx="161.1" cy="179.7" rx="0.93" ry="0.97" fill="#3a6890" opacity="0.71"/><ellipse cx="160.4" cy="180.1" rx="0.96" ry="0.99" fill="#3a6890" opacity="0.59"/><ellipse cx="162.1" cy="179.8" rx="0.59" ry="0.59" fill="#3a7098" opacity="0.81"/><ellipse cx="161.7" cy="171.2" rx="0.69" ry="1.00" fill="#2b557c" opacity="0.90"/><ellipse cx="166.9" cy="172.2" rx="0.78" ry="0.94" fill="#2b557c" opacity="0.65"/><ellipse cx="166.6" cy="172.0" rx="0.87" ry="0.87" fill="#5a8fb0" opacity="0.64"/><ellipse cx="166.4" cy="172.0" rx="0.93" ry="0.71" fill="#5a8fb0" opacity="0.68"/><ellipse cx="180.2" cy="175.6" rx="0.82" ry="0.92" fill="#4a82a8" opacity="0.80"/><ellipse cx="161.2" cy="170.7" rx="0.73" ry="0.72" fill="#4a82a8" opacity="0.55"/><ellipse cx="170.9" cy="178.7" rx="0.81" ry="0.65" fill="#5a8fb0" opacity="0.87"/><ellipse cx="171.2" cy="177.8" rx="0.84" ry="0.70" fill="#3a6890" opacity="0.63"/><ellipse cx="176.7" cy="175.2" rx="0.71" ry="0.64" fill="#2f6288" opacity="0.69"/><ellipse cx="181.0" cy="182.2" rx="0.55" ry="0.48" fill="#2b557c" opacity="0.82"/><ellipse cx="180.4" cy="181.9" rx="0.51" ry="0.67" fill="#5a8fb0" opacity="0.73"/><ellipse cx="112.9" cy="164.5" rx="0.70" ry="0.70" fill="#4a82a8" opacity="0.64"/><ellipse cx="121.3" cy="165.4" rx="0.65" ry="0.83" fill="#2b557c" opacity="0.76"/><ellipse cx="116.7" cy="169.0" rx="0.76" ry="0.78" fill="#3a6890" opacity="0.61"/><ellipse cx="126.3" cy="165.8" rx="0.45" ry="0.52" fill="#3a6890" opacity="0.59"/><ellipse cx="138.5" cy="164.3" rx="0.38" ry="0.45" fill="#2b557c" opacity="0.57"/><ellipse cx="138.9" cy="164.7" rx="0.41" ry="0.48" fill="#3a6890" opacity="0.81"/><ellipse cx="98.1" cy="175.1" rx="0.49" ry="0.71" fill="#4a82a8" opacity="0.85"/><ellipse cx="132.1" cy="165.7" rx="0.83" ry="0.55" fill="#3a6890" opacity="0.73"/><ellipse cx="132.0" cy="166.2" rx="0.68" ry="0.73" fill="#3a7098" opacity="0.85"/><ellipse cx="103.9" cy="168.3" rx="0.52" ry="0.63" fill="#4a82a8" opacity="0.69"/><ellipse cx="104.2" cy="168.1" rx="0.53" ry="0.59" fill="#3a7098" opacity="0.84"/><ellipse cx="103.3" cy="168.4" rx="0.52" ry="0.50" fill="#4a82a8" opacity="0.70"/><ellipse cx="105.7" cy="166.1" rx="0.80" ry="0.94" fill="#3a6890" opacity="0.90"/><ellipse cx="105.4" cy="165.6" rx="0.85" ry="0.79" fill="#2b557c" opacity="0.69"/><ellipse cx="104.8" cy="165.6" rx="0.95" ry="0.83" fill="#3a6890" opacity="0.57"/><ellipse cx="108.7" cy="169.8" rx="0.75" ry="0.76" fill="#2b557c" opacity="0.74"/><ellipse cx="109.6" cy="177.5" rx="0.92" ry="0.54" fill="#2b557c" opacity="0.63"/><ellipse cx="109.5" cy="177.6" rx="0.54" ry="0.60" fill="#3a7098" opacity="0.60"/><ellipse cx="132.5" cy="165.4" rx="0.72" ry="0.76" fill="#3a7098" opacity="0.58"/><ellipse cx="133.1" cy="165.8" rx="0.91" ry="0.80" fill="#2b557c" opacity="0.76"/><ellipse cx="118.5" cy="176.1" rx="0.55" ry="0.63" fill="#2b557c" opacity="0.72"/><ellipse cx="96.6" cy="180.0" rx="0.69" ry="0.80" fill="#2b557c" opacity="0.70"/><ellipse cx="120.5" cy="171.1" rx="0.87" ry="0.68" fill="#3a7098" opacity="0.82"/><ellipse cx="121.2" cy="171.5" rx="0.66" ry="0.64" fill="#3a6890" opacity="0.75"/><ellipse cx="113.2" cy="179.2" rx="0.54" ry="0.59" fill="#3a7098" opacity="0.82"/><ellipse cx="113.1" cy="178.5" rx="0.43" ry="0.59" fill="#4a82a8" opacity="0.72"/><ellipse cx="118.8" cy="170.9" rx="0.38" ry="0.53" fill="#3a6890" opacity="0.79"/><ellipse cx="137.9" cy="166.3" rx="0.66" ry="0.73" fill="#3a7098" opacity="0.62"/><ellipse cx="115.9" cy="179.7" rx="0.92" ry="0.65" fill="#4a82a8" opacity="0.80"/><ellipse cx="116.4" cy="179.2" rx="0.80" ry="0.81" fill="#4a82a8" opacity="0.57"/><ellipse cx="132.7" cy="177.0" rx="0.82" ry="0.87" fill="#3a7098" opacity="0.66"/><ellipse cx="133.3" cy="177.8" rx="0.88" ry="0.89" fill="#2b557c" opacity="0.82"/><ellipse cx="133.4" cy="165.7" rx="0.65" ry="0.45" fill="#3a6890" opacity="0.84"/><ellipse cx="133.0" cy="164.8" rx="0.55" ry="0.46" fill="#2f6288" opacity="0.76"/><ellipse cx="125.3" cy="172.1" rx="0.72" ry="0.74" fill="#3a6890" opacity="0.83"/><ellipse cx="125.8" cy="171.9" rx="0.75" ry="0.76" fill="#5a8fb0" opacity="0.71"/><ellipse cx="112.8" cy="177.5" rx="0.61" ry="0.72" fill="#4a82a8" opacity="0.59"/><ellipse cx="112.2" cy="177.7" rx="0.71" ry="0.61" fill="#5a8fb0" opacity="0.71"/><ellipse cx="111.3" cy="170.3" rx="0.73" ry="0.53" fill="#2f6288" opacity="0.57"/><ellipse cx="127.4" cy="178.9" rx="0.97" ry="0.97" fill="#4a82a8" opacity="0.57"/><ellipse cx="81.7" cy="199.1" rx="0.78" ry="0.74" fill="#2b557c" opacity="0.78"/><ellipse cx="82.2" cy="199.9" rx="0.98" ry="0.62" fill="#4a82a8" opacity="0.76"/><ellipse cx="81.8" cy="198.9" rx="0.88" ry="0.68" fill="#4a82a8" opacity="0.86"/><ellipse cx="86.8" cy="196.0" rx="0.93" ry="0.70" fill="#4a82a8" opacity="0.65"/><ellipse cx="87.4" cy="195.8" rx="0.95" ry="0.87" fill="#4a82a8" opacity="0.88"/><ellipse cx="86.2" cy="195.2" rx="0.98" ry="0.86" fill="#3a6890" opacity="0.79"/><ellipse cx="101.4" cy="192.2" rx="0.84" ry="0.89" fill="#2b557c" opacity="0.82"/><ellipse cx="108.8" cy="196.3" rx="0.56" ry="0.55" fill="#4a82a8" opacity="0.69"/><ellipse cx="64.9" cy="199.3" rx="0.58" ry="0.58" fill="#3a6890" opacity="0.83"/><ellipse cx="65.7" cy="199.3" rx="0.67" ry="0.54" fill="#2b557c" opacity="0.80"/><ellipse cx="71.4" cy="202.6" rx="0.73" ry="0.52" fill="#2f6288" opacity="0.89"/><ellipse cx="94.2" cy="191.8" rx="0.42" ry="0.67" fill="#3a6890" opacity="0.71"/><ellipse cx="94.9" cy="192.6" rx="0.52" ry="0.64" fill="#2f6288" opacity="0.82"/><ellipse cx="108.1" cy="193.5" rx="0.67" ry="0.72" fill="#3a7098" opacity="0.77"/><ellipse cx="107.8" cy="192.8" rx="0.96" ry="0.99" fill="#2f6288" opacity="0.57"/><ellipse cx="107.7" cy="189.1" rx="0.68" ry="0.64" fill="#2b557c" opacity="0.59"/><ellipse cx="107.4" cy="188.5" rx="0.58" ry="0.80" fill="#3a6890" opacity="0.72"/><ellipse cx="74.9" cy="197.8" rx="0.76" ry="0.93" fill="#5a8fb0" opacity="0.89"/><ellipse cx="73.9" cy="193.7" rx="1.00" ry="0.88" fill="#3a6890" opacity="0.78"/><ellipse cx="74.3" cy="193.7" rx="0.67" ry="0.88" fill="#3a7098" opacity="0.64"/><ellipse cx="65.2" cy="197.5" rx="0.72" ry="0.76" fill="#2f6288" opacity="0.71"/><ellipse cx="102.3" cy="193.3" rx="0.98" ry="0.85" fill="#3a7098" opacity="0.68"/><ellipse cx="93.6" cy="196.5" rx="0.63" ry="0.81" fill="#2b557c" opacity="0.82"/><ellipse cx="95.0" cy="202.9" rx="0.40" ry="0.50" fill="#4a82a8" opacity="0.79"/><ellipse cx="95.6" cy="203.5" rx="0.50" ry="0.52" fill="#2b557c" opacity="0.68"/><ellipse cx="94.1" cy="202.3" rx="0.53" ry="0.56" fill="#3a7098" opacity="0.56"/><ellipse cx="86.9" cy="194.1" rx="0.60" ry="0.52" fill="#2f6288" opacity="0.87"/><ellipse cx="83.9" cy="199.0" rx="0.80" ry="0.88" fill="#3a7098" opacity="0.85"/><ellipse cx="109.9" cy="202.8" rx="0.69" ry="0.74" fill="#3a6890" opacity="0.75"/><ellipse cx="109.7" cy="202.4" rx="0.65" ry="0.81" fill="#4a82a8" opacity="0.62"/><ellipse cx="75.2" cy="190.3" rx="0.63" ry="0.68" fill="#3a7098" opacity="0.59"/><ellipse cx="75.9" cy="190.5" rx="0.50" ry="0.69" fill="#2b557c" opacity="0.78"/><ellipse cx="107.4" cy="191.9" rx="0.48" ry="0.51" fill="#2b557c" opacity="0.74"/><ellipse cx="107.1" cy="191.4" rx="0.63" ry="0.51" fill="#3a6890" opacity="0.88"/><ellipse cx="108.2" cy="191.5" rx="0.48" ry="0.63" fill="#4a82a8" opacity="0.61"/><ellipse cx="94.1" cy="191.0" rx="0.40" ry="0.51" fill="#3a6890" opacity="0.74"/><ellipse cx="85.1" cy="199.1" rx="0.47" ry="0.60" fill="#2f6288" opacity="0.64"/><ellipse cx="85.7" cy="199.5" rx="0.46" ry="0.59" fill="#3a7098" opacity="0.70"/><ellipse cx="107.6" cy="194.0" rx="0.76" ry="0.65" fill="#2f6288" opacity="0.73"/><ellipse cx="108.4" cy="193.6" rx="0.86" ry="0.65" fill="#2f6288" opacity="0.64"/><ellipse cx="108.4" cy="194.3" rx="0.92" ry="0.88" fill="#3a7098" opacity="0.82"/><ellipse cx="81.2" cy="200.3" rx="0.60" ry="0.44" fill="#4a82a8" opacity="0.75"/><ellipse cx="81.8" cy="201.1" rx="0.53" ry="0.67" fill="#4a82a8" opacity="0.61"/><ellipse cx="85.9" cy="190.5" rx="0.66" ry="0.59" fill="#2f6288" opacity="0.74"/><ellipse cx="76.3" cy="222.8" rx="0.95" ry="0.65" fill="#2b557c" opacity="0.66"/><ellipse cx="76.7" cy="223.3" rx="0.93" ry="0.90" fill="#2f6288" opacity="0.76"/><ellipse cx="98.1" cy="239.9" rx="0.74" ry="0.57" fill="#2b557c" opacity="0.86"/><ellipse cx="98.3" cy="240.8" rx="0.49" ry="0.54" fill="#2b557c" opacity="0.82"/><ellipse cx="102.9" cy="244.1" rx="0.77" ry="0.66" fill="#5a8fb0" opacity="0.69"/><ellipse cx="81.5" cy="221.3" rx="0.66" ry="0.62" fill="#2b557c" opacity="0.69"/><ellipse cx="80.8" cy="221.0" rx="0.54" ry="0.50" fill="#5a8fb0" opacity="0.76"/><ellipse cx="91.8" cy="233.8" rx="0.68" ry="0.55" fill="#2f6288" opacity="0.89"/><ellipse cx="91.6" cy="233.7" rx="0.54" ry="0.68" fill="#5a8fb0" opacity="0.76"/><ellipse cx="92.2" cy="232.9" rx="0.74" ry="0.64" fill="#3a7098" opacity="0.76"/><ellipse cx="81.8" cy="236.7" rx="0.54" ry="0.74" fill="#5a8fb0" opacity="0.75"/><ellipse cx="84.2" cy="234.7" rx="0.58" ry="0.52" fill="#3a6890" opacity="0.66"/><ellipse cx="83.5" cy="234.4" rx="0.54" ry="0.76" fill="#5a8fb0" opacity="0.58"/><ellipse cx="85.0" cy="233.9" rx="0.55" ry="0.48" fill="#2b557c" opacity="0.56"/><ellipse cx="95.3" cy="222.8" rx="0.59" ry="0.46" fill="#2f6288" opacity="0.75"/><ellipse cx="88.7" cy="234.9" rx="0.88" ry="0.65" fill="#2b557c" opacity="0.64"/><ellipse cx="88.8" cy="234.1" rx="0.86" ry="0.60" fill="#3a6890" opacity="0.82"/><ellipse cx="92.6" cy="222.7" rx="0.59" ry="0.76" fill="#3a7098" opacity="0.86"/><ellipse cx="104.1" cy="224.1" rx="0.57" ry="0.39" fill="#2b557c" opacity="0.66"/><ellipse cx="104.0" cy="224.8" rx="0.56" ry="0.58" fill="#2f6288" opacity="0.85"/><ellipse cx="85.5" cy="216.2" rx="0.95" ry="0.66" fill="#2b557c" opacity="0.77"/><ellipse cx="104.4" cy="235.3" rx="0.95" ry="0.93" fill="#2f6288" opacity="0.63"/><ellipse cx="103.7" cy="235.6" rx="0.96" ry="0.95" fill="#3a6890" opacity="0.71"/><ellipse cx="96.0" cy="229.3" rx="0.58" ry="0.55" fill="#2f6288" opacity="0.83"/><ellipse cx="81.7" cy="213.4" rx="0.58" ry="0.75" fill="#3a7098" opacity="0.58"/><ellipse cx="92.8" cy="239.2" rx="0.67" ry="0.95" fill="#3a7098" opacity="0.60"/><ellipse cx="105.7" cy="216.0" rx="0.75" ry="0.54" fill="#4a82a8" opacity="0.72"/><ellipse cx="105.1" cy="215.9" rx="0.58" ry="0.59" fill="#3a7098" opacity="0.75"/><ellipse cx="77.9" cy="215.2" rx="0.82" ry="0.79" fill="#3a7098" opacity="0.68"/><ellipse cx="80.6" cy="237.1" rx="0.94" ry="0.77" fill="#4a82a8" opacity="0.80"/><ellipse cx="96.3" cy="239.0" rx="0.72" ry="0.58" fill="#2f6288" opacity="0.67"/><ellipse cx="96.2" cy="238.8" rx="0.89" ry="0.71" fill="#4a82a8" opacity="0.57"/><ellipse cx="87.6" cy="218.4" rx="0.69" ry="0.44" fill="#4a82a8" opacity="0.76"/><ellipse cx="102.0" cy="244.9" rx="0.69" ry="0.59" fill="#5a8fb0" opacity="0.88"/><ellipse cx="59.2" cy="268.7" rx="0.78" ry="0.84" fill="#3a7098" opacity="0.76"/><ellipse cx="59.3" cy="267.9" rx="0.70" ry="0.68" fill="#2f6288" opacity="0.61"/><ellipse cx="72.4" cy="260.2" rx="0.90" ry="0.87" fill="#5a8fb0" opacity="0.88"/><ellipse cx="72.7" cy="259.9" rx="0.94" ry="0.78" fill="#2b557c" opacity="0.74"/><ellipse cx="46.1" cy="268.8" rx="1.01" ry="0.92" fill="#4a82a8" opacity="0.78"/><ellipse cx="53.2" cy="269.2" rx="0.78" ry="0.97" fill="#2f6288" opacity="0.72"/><ellipse cx="72.2" cy="257.1" rx="0.97" ry="0.87" fill="#2f6288" opacity="0.72"/><ellipse cx="54.0" cy="259.4" rx="0.44" ry="0.39" fill="#4a82a8" opacity="0.61"/><ellipse cx="53.1" cy="259.8" rx="0.62" ry="0.41" fill="#3a6890" opacity="0.77"/><ellipse cx="52.3" cy="273.7" rx="0.70" ry="0.55" fill="#3a7098" opacity="0.70"/><ellipse cx="52.3" cy="273.4" rx="0.51" ry="0.48" fill="#3a7098" opacity="0.73"/><ellipse cx="52.1" cy="273.1" rx="0.49" ry="0.75" fill="#5a8fb0" opacity="0.69"/><ellipse cx="47.7" cy="263.5" rx="0.81" ry="0.82" fill="#4a82a8" opacity="0.64"/><ellipse cx="47.3" cy="258.8" rx="0.47" ry="0.60" fill="#2b557c" opacity="0.85"/><ellipse cx="44.0" cy="256.8" rx="0.44" ry="0.55" fill="#2f6288" opacity="0.72"/><ellipse cx="70.0" cy="269.1" rx="0.64" ry="0.71" fill="#3a7098" opacity="0.76"/><ellipse cx="53.0" cy="270.4" rx="0.98" ry="0.66" fill="#4a82a8" opacity="0.78"/><ellipse cx="53.5" cy="270.9" rx="0.62" ry="0.79" fill="#4a82a8" opacity="0.79"/><ellipse cx="75.1" cy="260.8" rx="0.83" ry="0.80" fill="#2f6288" opacity="0.71"/><ellipse cx="74.2" cy="261.1" rx="0.89" ry="0.93" fill="#4a82a8" opacity="0.56"/><ellipse cx="74.5" cy="261.4" rx="0.82" ry="0.88" fill="#4a82a8" opacity="0.79"/><ellipse cx="64.9" cy="258.4" rx="0.75" ry="0.74" fill="#3a6890" opacity="0.71"/><ellipse cx="51.1" cy="262.9" rx="0.68" ry="0.82" fill="#3a7098" opacity="0.72"/><ellipse cx="51.3" cy="262.4" rx="0.62" ry="0.68" fill="#5a8fb0" opacity="0.75"/><ellipse cx="57.5" cy="268.0" rx="0.59" ry="0.48" fill="#2f6288" opacity="0.83"/><ellipse cx="56.7" cy="267.4" rx="0.38" ry="0.62" fill="#4a82a8" opacity="0.86"/><ellipse cx="54.0" cy="262.9" rx="0.80" ry="0.94" fill="#3a6890" opacity="0.73"/><ellipse cx="53.5" cy="262.4" rx="0.76" ry="0.91" fill="#3a6890" opacity="0.88"/><ellipse cx="69.8" cy="263.0" rx="0.74" ry="0.80" fill="#5a8fb0" opacity="0.70"/><ellipse cx="69.2" cy="263.2" rx="0.69" ry="0.70" fill="#5a8fb0" opacity="0.72"/><ellipse cx="66.3" cy="270.2" rx="0.58" ry="0.69" fill="#3a7098" opacity="0.82"/><ellipse cx="66.0" cy="269.7" rx="0.80" ry="0.66" fill="#2b557c" opacity="0.78"/><ellipse cx="74.3" cy="260.3" rx="0.83" ry="0.80" fill="#4a82a8" opacity="0.75"/><ellipse cx="74.4" cy="260.8" rx="0.64" ry="0.83" fill="#3a7098" opacity="0.77"/><ellipse cx="75.0" cy="260.0" rx="0.67" ry="0.77" fill="#3a7098" opacity="0.89"/><ellipse cx="49.4" cy="270.4" rx="0.43" ry="0.56" fill="#2b557c" opacity="0.56"/><ellipse cx="50.8" cy="265.6" rx="0.70" ry="0.48" fill="#5a8fb0" opacity="0.67"/><ellipse cx="49.9" cy="264.9" rx="0.68" ry="0.63" fill="#3a6890" opacity="0.63"/><ellipse cx="51.9" cy="273.4" rx="0.67" ry="0.75" fill="#3a7098" opacity="0.89"/><ellipse cx="58.9" cy="259.8" rx="0.84" ry="0.99" fill="#3a7098" opacity="0.81"/><ellipse cx="58.6" cy="259.6" rx="0.95" ry="1.02" fill="#4a82a8" opacity="0.82"/><ellipse cx="74.4" cy="256.4" rx="0.64" ry="0.75" fill="#2b557c" opacity="0.67"/><ellipse cx="75.2" cy="256.0" rx="0.76" ry="0.57" fill="#4a82a8" opacity="0.60"/><ellipse cx="50.7" cy="268.4" rx="0.96" ry="0.85" fill="#4a82a8" opacity="0.85"/><ellipse cx="51.4" cy="269.2" rx="0.88" ry="0.65" fill="#3a7098" opacity="0.89"/><ellipse cx="53.4" cy="271.2" rx="0.68" ry="0.93" fill="#2b557c" opacity="0.60"/><ellipse cx="77.3" cy="266.3" rx="0.85" ry="0.82" fill="#5a8fb0" opacity="0.66"/><ellipse cx="77.2" cy="266.3" rx="0.89" ry="0.87" fill="#3a7098" opacity="0.55"/><ellipse cx="91.5" cy="278.1" rx="0.57" ry="0.64" fill="#3a7098" opacity="0.61"/><ellipse cx="90.7" cy="278.8" rx="0.63" ry="0.60" fill="#4a82a8" opacity="0.84"/><ellipse cx="91.2" cy="278.6" rx="0.65" ry="0.70" fill="#4a82a8" opacity="0.89"/><ellipse cx="83.9" cy="278.4" rx="0.61" ry="0.93" fill="#2b557c" opacity="0.59"/><ellipse cx="84.1" cy="279.1" rx="0.72" ry="0.82" fill="#5a8fb0" opacity="0.88"/><ellipse cx="83.3" cy="278.8" rx="0.96" ry="0.84" fill="#3a7098" opacity="0.67"/><ellipse cx="90.7" cy="275.4" rx="0.43" ry="0.60" fill="#3a7098" opacity="0.57"/><ellipse cx="91.4" cy="275.4" rx="0.54" ry="0.64" fill="#3a7098" opacity="0.79"/><ellipse cx="110.2" cy="271.3" rx="0.80" ry="0.64" fill="#2b557c" opacity="0.82"/><ellipse cx="110.9" cy="270.5" rx="0.77" ry="0.54" fill="#3a7098" opacity="0.77"/><ellipse cx="105.1" cy="280.6" rx="1.10" ry="1.00" fill="#4a82a8" opacity="0.82"/><ellipse cx="105.0" cy="280.1" rx="0.72" ry="0.99" fill="#4a82a8" opacity="0.86"/><ellipse cx="105.6" cy="281.4" rx="1.10" ry="0.89" fill="#3a6890" opacity="0.58"/><ellipse cx="103.5" cy="272.5" rx="0.66" ry="0.69" fill="#3a6890" opacity="0.84"/><ellipse cx="104.0" cy="272.9" rx="1.00" ry="0.91" fill="#2b557c" opacity="0.77"/><ellipse cx="102.9" cy="272.1" rx="0.97" ry="0.88" fill="#3a6890" opacity="0.63"/><ellipse cx="88.0" cy="281.0" rx="0.95" ry="0.94" fill="#2f6288" opacity="0.85"/><ellipse cx="88.3" cy="281.8" rx="0.97" ry="1.08" fill="#5a8fb0" opacity="0.74"/><ellipse cx="92.2" cy="279.2" rx="0.43" ry="0.70" fill="#5a8fb0" opacity="0.87"/><ellipse cx="92.8" cy="279.9" rx="0.63" ry="0.71" fill="#2f6288" opacity="0.60"/><ellipse cx="100.8" cy="270.0" rx="0.70" ry="1.00" fill="#5a8fb0" opacity="0.84"/><ellipse cx="101.5" cy="270.2" rx="0.68" ry="0.83" fill="#3a6890" opacity="0.87"/><ellipse cx="95.4" cy="272.9" rx="0.70" ry="0.56" fill="#3a6890" opacity="0.83"/><ellipse cx="102.9" cy="270.9" rx="0.72" ry="0.64" fill="#2b557c" opacity="0.76"/><ellipse cx="103.3" cy="270.9" rx="0.60" ry="0.69" fill="#2b557c" opacity="0.80"/><ellipse cx="100.2" cy="275.2" rx="0.79" ry="0.89" fill="#5a8fb0" opacity="0.57"/><ellipse cx="90.5" cy="278.9" rx="0.96" ry="0.79" fill="#4a82a8" opacity="0.63"/><ellipse cx="90.2" cy="279.5" rx="0.87" ry="1.02" fill="#2f6288" opacity="0.67"/><ellipse cx="98.5" cy="278.8" rx="0.91" ry="1.13" fill="#2b557c" opacity="0.75"/><ellipse cx="112.5" cy="277.4" rx="0.59" ry="0.55" fill="#3a6890" opacity="0.85"/><ellipse cx="104.1" cy="277.0" rx="0.47" ry="0.69" fill="#2b557c" opacity="0.63"/><ellipse cx="103.4" cy="277.7" rx="0.66" ry="0.56" fill="#3a7098" opacity="0.65"/><ellipse cx="87.3" cy="277.5" rx="0.75" ry="0.69" fill="#4a82a8" opacity="0.85"/><ellipse cx="113.7" cy="276.6" rx="0.90" ry="1.00" fill="#4a82a8" opacity="0.81"/><ellipse cx="175.8" cy="261.7" rx="0.81" ry="0.79" fill="#3a6890" opacity="0.86"/><ellipse cx="175.5" cy="260.9" rx="1.04" ry="0.75" fill="#2f6288" opacity="0.81"/><ellipse cx="188.9" cy="269.0" rx="1.01" ry="0.86" fill="#3a6890" opacity="0.61"/><ellipse cx="188.2" cy="269.8" rx="1.02" ry="0.84" fill="#5a8fb0" opacity="0.72"/><ellipse cx="188.9" cy="268.9" rx="0.90" ry="1.06" fill="#4a82a8" opacity="0.68"/><ellipse cx="178.6" cy="266.1" rx="1.15" ry="0.99" fill="#5a8fb0" opacity="0.61"/><ellipse cx="169.7" cy="281.0" rx="0.98" ry="1.04" fill="#3a7098" opacity="0.73"/><ellipse cx="187.7" cy="270.0" rx="0.79" ry="1.10" fill="#5a8fb0" opacity="0.61"/><ellipse cx="186.8" cy="269.7" rx="0.96" ry="1.04" fill="#3a7098" opacity="0.76"/><ellipse cx="164.5" cy="262.9" rx="0.94" ry="0.76" fill="#3a7098" opacity="0.80"/><ellipse cx="173.7" cy="270.0" rx="0.74" ry="0.59" fill="#2f6288" opacity="0.71"/><ellipse cx="173.4" cy="269.2" rx="0.62" ry="0.70" fill="#2f6288" opacity="0.71"/><ellipse cx="158.9" cy="264.8" rx="0.91" ry="1.12" fill="#3a6890" opacity="0.75"/><ellipse cx="159.0" cy="265.6" rx="1.08" ry="1.14" fill="#5a8fb0" opacity="0.68"/><ellipse cx="176.1" cy="279.2" rx="0.87" ry="0.89" fill="#2b557c" opacity="0.57"/><ellipse cx="178.9" cy="281.9" rx="0.74" ry="0.87" fill="#2f6288" opacity="0.90"/><ellipse cx="178.2" cy="281.9" rx="0.87" ry="0.89" fill="#2b557c" opacity="0.68"/><ellipse cx="167.0" cy="264.5" rx="0.93" ry="0.64" fill="#4a82a8" opacity="0.59"/><ellipse cx="180.5" cy="278.0" rx="0.91" ry="0.87" fill="#4a82a8" opacity="0.77"/><ellipse cx="180.1" cy="277.1" rx="0.92" ry="0.89" fill="#5a8fb0" opacity="0.79"/><ellipse cx="180.8" cy="277.7" rx="0.74" ry="0.91" fill="#5a8fb0" opacity="0.89"/><ellipse cx="177.0" cy="262.2" rx="0.61" ry="0.43" fill="#3a7098" opacity="0.72"/><ellipse cx="161.3" cy="282.4" rx="0.78" ry="0.66" fill="#3a6890" opacity="0.77"/><ellipse cx="162.0" cy="272.0" rx="0.72" ry="0.56" fill="#3a6890" opacity="0.71"/><ellipse cx="162.2" cy="271.8" rx="0.83" ry="0.71" fill="#2f6288" opacity="0.55"/><ellipse cx="180.2" cy="277.0" rx="0.44" ry="0.46" fill="#2f6288" opacity="0.76"/><ellipse cx="181.3" cy="261.2" rx="0.50" ry="0.72" fill="#5a8fb0" opacity="0.61"/><ellipse cx="180.4" cy="261.5" rx="0.54" ry="0.58" fill="#4a82a8" opacity="0.89"/><ellipse cx="181.7" cy="261.1" rx="0.57" ry="0.63" fill="#4a82a8" opacity="0.63"/><ellipse cx="175.2" cy="268.7" rx="0.76" ry="0.52" fill="#3a7098" opacity="0.72"/><ellipse cx="174.6" cy="269.2" rx="0.62" ry="0.78" fill="#3a6890" opacity="0.79"/><ellipse cx="179.8" cy="268.2" rx="0.66" ry="0.57" fill="#2f6288" opacity="0.67"/><ellipse cx="180.5" cy="268.3" rx="0.45" ry="0.53" fill="#2b557c" opacity="0.71"/><ellipse cx="180.7" cy="267.5" rx="0.65" ry="0.47" fill="#4a82a8" opacity="0.75"/><ellipse cx="186.5" cy="270.5" rx="0.71" ry="0.69" fill="#4a82a8" opacity="0.61"/><ellipse cx="186.1" cy="270.3" rx="0.77" ry="0.71" fill="#2f6288" opacity="0.85"/><ellipse cx="164.8" cy="276.6" rx="0.87" ry="1.12" fill="#3a7098" opacity="0.74"/><ellipse cx="165.5" cy="275.8" rx="0.85" ry="1.04" fill="#3a6890" opacity="0.76"/><ellipse cx="162.0" cy="283.5" rx="0.68" ry="0.61" fill="#2b557c" opacity="0.87"/><ellipse cx="159.4" cy="277.3" rx="0.74" ry="0.74" fill="#3a7098" opacity="0.64"/><ellipse cx="159.7" cy="277.5" rx="0.83" ry="0.98" fill="#2f6288" opacity="0.71"/><ellipse cx="158.9" cy="277.8" rx="0.93" ry="0.95" fill="#4a82a8" opacity="0.86"/><ellipse cx="181.4" cy="269.9" rx="0.94" ry="0.95" fill="#3a7098" opacity="0.81"/><ellipse cx="182.2" cy="269.9" rx="1.20" ry="0.75" fill="#5a8fb0" opacity="0.62"/><ellipse cx="166.7" cy="281.9" rx="0.56" ry="0.61" fill="#2b557c" opacity="0.82"/><ellipse cx="166.5" cy="281.1" rx="0.63" ry="0.68" fill="#2f6288" opacity="0.84"/><ellipse cx="175.8" cy="266.5" rx="0.94" ry="0.85" fill="#5a8fb0" opacity="0.89"/><ellipse cx="187.3" cy="272.6" rx="0.72" ry="0.52" fill="#2b557c" opacity="0.77"/><ellipse cx="188.2" cy="272.3" rx="0.51" ry="0.64" fill="#3a6890" opacity="0.57"/><ellipse cx="187.6" cy="271.9" rx="0.56" ry="0.54" fill="#2f6288" opacity="0.87"/><ellipse cx="170.9" cy="270.7" rx="0.63" ry="0.53" fill="#3a6890" opacity="0.60"/><ellipse cx="184.4" cy="274.8" rx="0.76" ry="0.60" fill="#3a7098" opacity="0.84"/><ellipse cx="182.2" cy="267.0" rx="0.92" ry="0.86" fill="#5a8fb0" opacity="0.60"/><ellipse cx="181.4" cy="267.8" rx="1.02" ry="1.01" fill="#2b557c" opacity="0.75"/><ellipse cx="181.7" cy="266.2" rx="0.93" ry="0.73" fill="#4a82a8" opacity="0.73"/><ellipse cx="159.2" cy="285.8" rx="1.09" ry="0.84" fill="#3a6890" opacity="0.60"/><ellipse cx="159.2" cy="286.3" rx="0.90" ry="0.79" fill="#4a82a8" opacity="0.74"/><ellipse cx="166.6" cy="265.7" rx="0.68" ry="0.70" fill="#2f6288" opacity="0.74"/><ellipse cx="165.8" cy="264.8" rx="0.51" ry="0.69" fill="#3a7098" opacity="0.62"/><ellipse cx="167.2" cy="269.2" rx="0.72" ry="0.66" fill="#2f6288" opacity="0.86"/><ellipse cx="172.2" cy="286.4" rx="0.43" ry="0.56" fill="#3a6890" opacity="0.58"/><ellipse cx="172.1" cy="287.3" rx="0.57" ry="0.54" fill="#3a6890" opacity="0.62"/><ellipse cx="172.8" cy="286.0" rx="0.52" ry="0.64" fill="#5a8fb0" opacity="0.58"/><ellipse cx="176.7" cy="266.3" rx="0.78" ry="0.70" fill="#3a6890" opacity="0.77"/><ellipse cx="137.4" cy="300.6" rx="1.16" ry="0.74" fill="#2f6288" opacity="0.69"/><ellipse cx="142.2" cy="295.1" rx="0.91" ry="0.93" fill="#3a6890" opacity="0.55"/><ellipse cx="142.7" cy="294.3" rx="0.97" ry="0.95" fill="#4a82a8" opacity="0.78"/><ellipse cx="142.1" cy="294.4" rx="0.83" ry="1.10" fill="#4a82a8" opacity="0.62"/><ellipse cx="134.4" cy="287.4" rx="0.67" ry="0.45" fill="#2f6288" opacity="0.87"/><ellipse cx="135.1" cy="287.5" rx="0.49" ry="0.73" fill="#2b557c" opacity="0.86"/><ellipse cx="136.1" cy="287.8" rx="0.70" ry="0.68" fill="#3a7098" opacity="0.88"/><ellipse cx="133.9" cy="297.8" rx="0.68" ry="0.87" fill="#3a6890" opacity="0.84"/><ellipse cx="138.8" cy="304.0" rx="1.04" ry="0.71" fill="#5a8fb0" opacity="0.79"/><ellipse cx="138.2" cy="304.3" rx="0.87" ry="0.90" fill="#2b557c" opacity="0.72"/><ellipse cx="133.7" cy="288.5" rx="0.90" ry="0.80" fill="#2b557c" opacity="0.88"/><ellipse cx="133.2" cy="287.8" rx="1.00" ry="1.09" fill="#3a6890" opacity="0.86"/><ellipse cx="133.1" cy="288.0" rx="0.78" ry="1.03" fill="#5a8fb0" opacity="0.77"/><ellipse cx="133.8" cy="295.2" rx="0.69" ry="0.82" fill="#2f6288" opacity="0.77"/><ellipse cx="133.9" cy="302.5" rx="1.21" ry="0.94" fill="#2b557c" opacity="0.79"/><ellipse cx="133.9" cy="301.7" rx="1.04" ry="0.80" fill="#2f6288" opacity="0.68"/><ellipse cx="134.0" cy="303.0" rx="0.99" ry="0.77" fill="#5a8fb0" opacity="0.70"/><ellipse cx="140.2" cy="307.0" rx="0.93" ry="0.74" fill="#2b557c" opacity="0.77"/><ellipse cx="139.8" cy="307.8" rx="0.80" ry="1.04" fill="#4a82a8" opacity="0.88"/><ellipse cx="136.0" cy="306.1" rx="0.52" ry="0.63" fill="#3a7098" opacity="0.67"/><ellipse cx="136.7" cy="306.2" rx="0.60" ry="0.65" fill="#5a8fb0" opacity="0.62"/><ellipse cx="136.6" cy="302.6" rx="0.68" ry="0.66" fill="#3a7098" opacity="0.86"/><ellipse cx="143.8" cy="292.9" rx="0.52" ry="0.70" fill="#3a7098" opacity="0.83"/><ellipse cx="143.4" cy="292.7" rx="0.57" ry="0.55" fill="#5a8fb0" opacity="0.77"/><ellipse cx="136.4" cy="287.1" rx="0.59" ry="0.78" fill="#2f6288" opacity="0.86"/><ellipse cx="120.8" cy="292.9" rx="1.01" ry="0.70" fill="#5a8fb0" opacity="0.85"/><ellipse cx="120.9" cy="292.3" rx="0.76" ry="0.99" fill="#4a82a8" opacity="0.81"/><ellipse cx="114.3" cy="295.1" rx="1.07" ry="1.07" fill="#5a8fb0" opacity="0.65"/><ellipse cx="114.3" cy="294.3" rx="1.13" ry="0.79" fill="#4a82a8" opacity="0.67"/><ellipse cx="121.6" cy="291.4" rx="0.99" ry="0.91" fill="#3a7098" opacity="0.61"/><ellipse cx="124.1" cy="286.5" rx="0.86" ry="0.68" fill="#3a6890" opacity="0.85"/><ellipse cx="123.6" cy="291.8" rx="0.87" ry="0.72" fill="#4a82a8" opacity="0.65"/><ellipse cx="122.9" cy="291.0" rx="0.71" ry="0.70" fill="#2f6288" opacity="0.72"/><ellipse cx="115.6" cy="292.3" rx="0.91" ry="0.66" fill="#2b557c" opacity="0.79"/><ellipse cx="121.2" cy="294.1" rx="0.58" ry="0.86" fill="#4a82a8" opacity="0.56"/><ellipse cx="100.2" cy="256.4" rx="0.71" ry="0.52" fill="#3a6890" opacity="0.80"/><ellipse cx="100.6" cy="256.7" rx="0.72" ry="0.78" fill="#5a8fb0" opacity="0.89"/><ellipse cx="99.7" cy="256.7" rx="0.52" ry="0.55" fill="#3a6890" opacity="0.63"/><ellipse cx="147.2" cy="173.4" rx="0.59" ry="0.70" fill="#3a6890" opacity="0.78"/><ellipse cx="147.9" cy="172.6" rx="0.84" ry="0.58" fill="#2f6288" opacity="0.83"/><ellipse cx="124.9" cy="182.0" rx="0.57" ry="0.66" fill="#5a8fb0" opacity="0.86"/><ellipse cx="46.9" cy="242.2" rx="0.64" ry="0.77" fill="#4a82a8" opacity="0.72"/><ellipse cx="190.0" cy="215.0" rx="0.69" ry="0.73" fill="#3a6890" opacity="0.86"/><ellipse cx="137.3" cy="180.2" rx="0.33" ry="0.37" fill="#2f6288" opacity="0.76"/><ellipse cx="53.7" cy="194.0" rx="0.42" ry="0.52" fill="#2f6288" opacity="0.68"/><ellipse cx="53.0" cy="194.0" rx="0.48" ry="0.39" fill="#4a82a8" opacity="0.61"/><ellipse cx="50.6" cy="237.7" rx="0.47" ry="0.64" fill="#3a6890" opacity="0.63"/><ellipse cx="64.4" cy="210.0" rx="0.39" ry="0.63" fill="#3a6890" opacity="0.83"/><ellipse cx="48.2" cy="185.6" rx="0.38" ry="0.48" fill="#4a82a8" opacity="0.69"/><ellipse cx="48.4" cy="185.4" rx="0.56" ry="0.55" fill="#5a8fb0" opacity="0.70"/><ellipse cx="91.9" cy="213.9" rx="0.42" ry="0.40" fill="#2f6288" opacity="0.70"/><ellipse cx="92.3" cy="213.1" rx="0.47" ry="0.56" fill="#2f6288" opacity="0.81"/><ellipse cx="84.8" cy="217.6" rx="0.73" ry="0.64" fill="#3a6890" opacity="0.71"/><ellipse cx="84.9" cy="217.5" rx="0.59" ry="0.63" fill="#5a8fb0" opacity="0.79"/><ellipse cx="84.7" cy="216.7" rx="0.84" ry="0.61" fill="#3a7098" opacity="0.56"/><ellipse cx="131.8" cy="182.5" rx="0.36" ry="0.59" fill="#4a82a8" opacity="0.78"/><ellipse cx="125.0" cy="177.0" rx="0.68" ry="0.75" fill="#2f6288" opacity="0.84"/><ellipse cx="139.7" cy="241.1" rx="0.30" ry="0.34" fill="#2f6288" opacity="0.80"/><ellipse cx="182.4" cy="247.0" rx="0.63" ry="0.44" fill="#2b557c" opacity="0.62"/><ellipse cx="182.9" cy="246.8" rx="0.40" ry="0.46" fill="#3a6890" opacity="0.79"/><ellipse cx="129.6" cy="252.9" rx="0.49" ry="0.73" fill="#2f6288" opacity="0.61"/><ellipse cx="146.2" cy="227.5" rx="0.77" ry="0.55" fill="#3a7098" opacity="0.80"/><ellipse cx="146.3" cy="226.8" rx="0.55" ry="0.54" fill="#5a8fb0" opacity="0.63"/><ellipse cx="146.3" cy="227.6" rx="0.60" ry="0.61" fill="#5a8fb0" opacity="0.70"/><ellipse cx="79.1" cy="248.5" rx="0.30" ry="0.36" fill="#3a6890" opacity="0.85"/><ellipse cx="176.9" cy="242.0" rx="0.34" ry="0.49" fill="#3a7098" opacity="0.59"/><ellipse cx="113.7" cy="185.5" rx="0.48" ry="0.32" fill="#2f6288" opacity="0.71"/><ellipse cx="96.8" cy="252.5" rx="0.62" ry="0.72" fill="#2f6288" opacity="0.66"/><ellipse cx="97.7" cy="253.2" rx="0.68" ry="0.68" fill="#3a7098" opacity="0.68"/><ellipse cx="76.2" cy="247.0" rx="0.35" ry="0.49" fill="#3a6890" opacity="0.75"/><ellipse cx="133.0" cy="216.6" rx="0.45" ry="0.53" fill="#2f6288" opacity="0.64"/><ellipse cx="133.1" cy="215.8" rx="0.65" ry="0.53" fill="#4a82a8" opacity="0.79"/><ellipse cx="79.2" cy="192.5" rx="0.62" ry="0.53" fill="#2f6288" opacity="0.73"/><ellipse cx="78.9" cy="192.6" rx="0.40" ry="0.38" fill="#4a82a8" opacity="0.69"/><ellipse cx="79.3" cy="192.4" rx="0.38" ry="0.43" fill="#3a7098" opacity="0.73"/><ellipse cx="78.0" cy="241.3" rx="0.43" ry="0.35" fill="#2b557c" opacity="0.56"/><ellipse cx="77.9" cy="240.5" rx="0.36" ry="0.34" fill="#3a6890" opacity="0.65"/><ellipse cx="77.5" cy="241.8" rx="0.46" ry="0.39" fill="#4a82a8" opacity="0.74"/><ellipse cx="45.4" cy="201.7" rx="0.58" ry="0.49" fill="#2f6288" opacity="0.79"/><ellipse cx="139.3" cy="192.6" rx="0.43" ry="0.53" fill="#5a8fb0" opacity="0.67"/><ellipse cx="66.6" cy="258.0" rx="0.58" ry="0.68" fill="#2b557c" opacity="0.75"/><ellipse cx="66.8" cy="257.1" rx="0.51" ry="0.53" fill="#4a82a8" opacity="0.63"/><ellipse cx="86.8" cy="256.8" rx="0.61" ry="0.52" fill="#3a7098" opacity="0.72"/><ellipse cx="86.5" cy="257.5" rx="0.45" ry="0.44" fill="#3a7098" opacity="0.59"/><ellipse cx="126.0" cy="232.4" rx="0.34" ry="0.34" fill="#5a8fb0" opacity="0.87"/><ellipse cx="125.5" cy="233.3" rx="0.39" ry="0.34" fill="#3a6890" opacity="0.68"/><ellipse cx="98.8" cy="217.2" rx="0.46" ry="0.52" fill="#5a8fb0" opacity="0.78"/><ellipse cx="99.1" cy="217.5" rx="0.51" ry="0.64" fill="#3a7098" opacity="0.74"/><ellipse cx="103.9" cy="241.5" rx="0.63" ry="0.78" fill="#2b557c" opacity="0.84"/><ellipse cx="57.1" cy="204.0" rx="0.38" ry="0.40" fill="#3a6890" opacity="0.86"/><ellipse cx="56.4" cy="204.2" rx="0.46" ry="0.32" fill="#5a8fb0" opacity="0.87"/><ellipse cx="57.1" cy="204.3" rx="0.37" ry="0.38" fill="#5a8fb0" opacity="0.78"/><ellipse cx="140.5" cy="248.4" rx="0.47" ry="0.69" fill="#5a8fb0" opacity="0.56"/><ellipse cx="140.9" cy="248.2" rx="0.55" ry="0.47" fill="#2f6288" opacity="0.63"/><ellipse cx="141.3" cy="248.7" rx="0.59" ry="0.65" fill="#5a8fb0" opacity="0.67"/><ellipse cx="51.6" cy="253.4" rx="0.36" ry="0.46" fill="#2f6288" opacity="0.81"/><ellipse cx="55.7" cy="196.2" rx="0.85" ry="0.53" fill="#5a8fb0" opacity="0.65"/><ellipse cx="99.2" cy="185.8" rx="0.46" ry="0.57" fill="#3a7098" opacity="0.74"/><ellipse cx="172.3" cy="175.8" rx="0.52" ry="0.45" fill="#3a6890" opacity="0.58"/><ellipse cx="95.5" cy="210.2" rx="0.33" ry="0.46" fill="#2f6288" opacity="0.73"/><ellipse cx="156.0" cy="172.1" rx="0.64" ry="0.71" fill="#2f6288" opacity="0.86"/><ellipse cx="129.6" cy="246.4" rx="0.50" ry="0.51" fill="#3a7098" opacity="0.73"/><ellipse cx="130.1" cy="246.4" rx="0.85" ry="0.74" fill="#3a7098" opacity="0.75"/><ellipse cx="130.4" cy="246.0" rx="0.62" ry="0.74" fill="#2b557c" opacity="0.59"/><ellipse cx="40.5" cy="204.0" rx="0.73" ry="0.60" fill="#4a82a8" opacity="0.77"/><ellipse cx="184.5" cy="177.5" rx="0.53" ry="0.57" fill="#3a6890" opacity="0.89"/><ellipse cx="184.8" cy="177.2" rx="0.60" ry="0.68" fill="#5a8fb0" opacity="0.63"/><ellipse cx="184.9" cy="177.7" rx="0.84" ry="0.61" fill="#2b557c" opacity="0.90"/><ellipse cx="85.8" cy="219.6" rx="0.88" ry="0.78" fill="#3a6890" opacity="0.83"/><ellipse cx="84.9" cy="218.9" rx="0.70" ry="0.65" fill="#5a8fb0" opacity="0.85"/><ellipse cx="151.4" cy="217.7" rx="0.45" ry="0.41" fill="#3a7098" opacity="0.82"/><ellipse cx="150.8" cy="217.1" rx="0.45" ry="0.43" fill="#3a6890" opacity="0.80"/><ellipse cx="151.1" cy="217.9" rx="0.43" ry="0.50" fill="#5a8fb0" opacity="0.73"/><ellipse cx="70.1" cy="243.4" rx="0.62" ry="0.77" fill="#3a6890" opacity="0.71"/><ellipse cx="69.6" cy="242.8" rx="0.69" ry="0.64" fill="#5a8fb0" opacity="0.59"/><ellipse cx="151.8" cy="180.1" rx="0.45" ry="0.51" fill="#3a6890" opacity="0.66"/><ellipse cx="97.4" cy="171.6" rx="0.61" ry="0.82" fill="#2b557c" opacity="0.68"/><ellipse cx="96.9" cy="172.5" rx="0.86" ry="0.85" fill="#5a8fb0" opacity="0.83"/><ellipse cx="183.9" cy="240.4" rx="0.74" ry="0.83" fill="#5a8fb0" opacity="0.85"/><ellipse cx="184.1" cy="239.6" rx="0.82" ry="0.71" fill="#5a8fb0" opacity="0.59"/><ellipse cx="183.6" cy="240.9" rx="0.88" ry="0.70" fill="#2f6288" opacity="0.56"/><ellipse cx="135.1" cy="212.4" rx="0.51" ry="0.66" fill="#4a82a8" opacity="0.69"/><ellipse cx="47.7" cy="196.3" rx="0.71" ry="0.55" fill="#3a6890" opacity="0.77"/><ellipse cx="76.4" cy="220.9" rx="0.69" ry="0.69" fill="#5a8fb0" opacity="0.79"/><ellipse cx="75.6" cy="220.9" rx="0.70" ry="0.74" fill="#3a6890" opacity="0.61"/><ellipse cx="76.0" cy="220.8" rx="0.56" ry="0.55" fill="#2f6288" opacity="0.66"/><ellipse cx="153.4" cy="225.9" rx="0.35" ry="0.45" fill="#2f6288" opacity="0.63"/><ellipse cx="153.3" cy="225.0" rx="0.34" ry="0.41" fill="#5a8fb0" opacity="0.77"/><ellipse cx="153.2" cy="225.3" rx="0.52" ry="0.32" fill="#5a8fb0" opacity="0.90"/><ellipse cx="139.0" cy="215.7" rx="0.75" ry="0.72" fill="#5a8fb0" opacity="0.59"/><ellipse cx="139.3" cy="216.5" rx="0.57" ry="0.63" fill="#2b557c" opacity="0.68"/><ellipse cx="101.6" cy="221.8" rx="0.54" ry="0.39" fill="#4a82a8" opacity="0.85"/><ellipse cx="101.7" cy="222.6" rx="0.45" ry="0.32" fill="#5a8fb0" opacity="0.79"/><ellipse cx="122.8" cy="239.5" rx="0.44" ry="0.60" fill="#4a82a8" opacity="0.69"/><ellipse cx="172.5" cy="243.6" rx="0.45" ry="0.52" fill="#2b557c" opacity="0.63"/><ellipse cx="113.6" cy="229.6" rx="0.55" ry="0.58" fill="#4a82a8" opacity="0.90"/><ellipse cx="113.3" cy="230.1" rx="0.69" ry="0.52" fill="#5a8fb0" opacity="0.58"/><ellipse cx="120.7" cy="219.2" rx="0.51" ry="0.48" fill="#2b557c" opacity="0.68"/><ellipse cx="107.9" cy="193.7" rx="0.42" ry="0.51" fill="#2b557c" opacity="0.65"/><ellipse cx="92.0" cy="244.3" rx="0.65" ry="0.58" fill="#4a82a8" opacity="0.69"/><ellipse cx="92.9" cy="243.7" rx="0.49" ry="0.66" fill="#2b557c" opacity="0.73"/><ellipse cx="139.0" cy="233.2" rx="0.76" ry="0.51" fill="#4a82a8" opacity="0.69"/><ellipse cx="123.7" cy="242.6" rx="0.80" ry="0.55" fill="#3a6890" opacity="0.85"/><ellipse cx="123.5" cy="241.9" rx="0.84" ry="0.79" fill="#4a82a8" opacity="0.58"/><ellipse cx="184.1" cy="254.1" rx="0.81" ry="0.57" fill="#5a8fb0" opacity="0.83"/><ellipse cx="183.5" cy="253.9" rx="0.75" ry="0.54" fill="#2f6288" opacity="0.67"/><ellipse cx="137.8" cy="220.9" rx="0.43" ry="0.54" fill="#4a82a8" opacity="0.57"/><ellipse cx="95.8" cy="175.9" rx="0.33" ry="0.39" fill="#3a7098" opacity="0.87"/><ellipse cx="50.8" cy="236.5" rx="0.41" ry="0.53" fill="#5a8fb0" opacity="0.67"/><ellipse cx="51.3" cy="236.9" rx="0.47" ry="0.32" fill="#3a7098" opacity="0.65"/><ellipse cx="180.7" cy="176.7" rx="0.38" ry="0.46" fill="#3a7098" opacity="0.87"/><ellipse cx="179.9" cy="176.6" rx="0.34" ry="0.41" fill="#3a7098" opacity="0.89"/><ellipse cx="180.4" cy="176.9" rx="0.38" ry="0.33" fill="#3a7098" opacity="0.80"/><ellipse cx="65.2" cy="187.3" rx="0.75" ry="0.66" fill="#2f6288" opacity="0.59"/><ellipse cx="64.3" cy="187.3" rx="0.54" ry="0.77" fill="#3a7098" opacity="0.84"/><ellipse cx="64.6" cy="187.1" rx="0.79" ry="0.52" fill="#5a8fb0" opacity="0.79"/><ellipse cx="176.0" cy="192.6" rx="0.53" ry="0.36" fill="#3a6890" opacity="0.86"/><ellipse cx="176.6" cy="193.5" rx="0.43" ry="0.52" fill="#5a8fb0" opacity="0.70"/><ellipse cx="154.8" cy="174.7" rx="0.79" ry="0.53" fill="#4a82a8" opacity="0.89"/><ellipse cx="154.7" cy="173.8" rx="0.57" ry="0.52" fill="#2f6288" opacity="0.74"/><ellipse cx="191.6" cy="207.0" rx="0.42" ry="0.31" fill="#2b557c" opacity="0.71"/><ellipse cx="191.1" cy="206.1" rx="0.42" ry="0.46" fill="#4a82a8" opacity="0.77"/><ellipse cx="191.7" cy="206.1" rx="0.38" ry="0.50" fill="#2f6288" opacity="0.63"/><ellipse cx="146.5" cy="231.9" rx="0.68" ry="0.69" fill="#2b557c" opacity="0.87"/><ellipse cx="145.9" cy="232.2" rx="0.72" ry="0.55" fill="#2b557c" opacity="0.80"/><ellipse cx="89.2" cy="208.8" rx="0.38" ry="0.49" fill="#2b557c" opacity="0.59"/><ellipse cx="169.9" cy="198.0" rx="0.55" ry="0.74" fill="#2f6288" opacity="0.89"/><ellipse cx="141.5" cy="173.1" rx="0.61" ry="0.50" fill="#3a7098" opacity="0.68"/><ellipse cx="142.2" cy="172.5" rx="0.70" ry="0.58" fill="#4a82a8" opacity="0.78"/><ellipse cx="54.4" cy="213.2" rx="0.64" ry="0.54" fill="#2b557c" opacity="0.75"/><ellipse cx="174.1" cy="187.5" rx="0.50" ry="0.31" fill="#3a7098" opacity="0.80"/><ellipse cx="173.8" cy="188.1" rx="0.36" ry="0.40" fill="#2b557c" opacity="0.79"/><ellipse cx="64.6" cy="236.0" rx="0.39" ry="0.35" fill="#5a8fb0" opacity="0.88"/><ellipse cx="65.2" cy="236.6" rx="0.35" ry="0.36" fill="#3a6890" opacity="0.79"/><ellipse cx="75.1" cy="231.5" rx="0.46" ry="0.44" fill="#4a82a8" opacity="0.62"/><ellipse cx="99.3" cy="184.3" rx="0.55" ry="0.82" fill="#4a82a8" opacity="0.81"/><ellipse cx="121.3" cy="196.8" rx="0.66" ry="0.47" fill="#3a6890" opacity="0.72"/><ellipse cx="120.7" cy="197.0" rx="0.69" ry="0.44" fill="#4a82a8" opacity="0.72"/><ellipse cx="155.4" cy="252.0" rx="0.50" ry="0.54" fill="#3a6890" opacity="0.63"/><ellipse cx="155.7" cy="252.1" rx="0.60" ry="0.41" fill="#3a7098" opacity="0.81"/><ellipse cx="100.0" cy="217.9" rx="0.52" ry="0.64" fill="#4a82a8" opacity="0.83"/><ellipse cx="98.7" cy="199.8" rx="0.83" ry="0.77" fill="#5a8fb0" opacity="0.90"/><ellipse cx="189.2" cy="221.5" rx="0.39" ry="0.42" fill="#3a7098" opacity="0.64"/><ellipse cx="123.3" cy="233.9" rx="0.38" ry="0.48" fill="#4a82a8" opacity="0.58"/><ellipse cx="123.2" cy="234.5" rx="0.39" ry="0.35" fill="#2f6288" opacity="0.81"/><ellipse cx="149.1" cy="192.1" rx="0.62" ry="0.79" fill="#4a82a8" opacity="0.68"/><ellipse cx="107.8" cy="246.8" rx="0.54" ry="0.65" fill="#2f6288" opacity="0.87"/><ellipse cx="171.7" cy="230.8" rx="0.63" ry="0.45" fill="#5a8fb0" opacity="0.86"/><ellipse cx="171.5" cy="230.5" rx="0.59" ry="0.68" fill="#3a7098" opacity="0.88"/><ellipse cx="40.1" cy="247.2" rx="0.53" ry="0.59" fill="#5a8fb0" opacity="0.56"/><ellipse cx="124.9" cy="251.5" rx="0.59" ry="0.37" fill="#5a8fb0" opacity="0.74"/><ellipse cx="61.1" cy="224.8" rx="0.65" ry="0.52" fill="#2b557c" opacity="0.85"/><ellipse cx="61.4" cy="225.7" rx="0.52" ry="0.77" fill="#4a82a8" opacity="0.83"/><ellipse cx="170.8" cy="188.4" rx="0.84" ry="0.58" fill="#2f6288" opacity="0.62"/><ellipse cx="101.5" cy="172.4" rx="0.58" ry="0.42" fill="#3a7098" opacity="0.85"/><ellipse cx="113.9" cy="211.3" rx="0.62" ry="0.50" fill="#4a82a8" opacity="0.65"/><ellipse cx="114.2" cy="212.1" rx="0.67" ry="0.56" fill="#5a8fb0" opacity="0.73"/><ellipse cx="68.0" cy="250.1" rx="0.73" ry="0.55" fill="#3a6890" opacity="0.84"/><ellipse cx="67.1" cy="250.4" rx="0.63" ry="0.64" fill="#3a7098" opacity="0.76"/><ellipse cx="184.7" cy="190.5" rx="0.46" ry="0.44" fill="#5a8fb0" opacity="0.87"/><ellipse cx="185.0" cy="190.0" rx="0.53" ry="0.60" fill="#2b557c" opacity="0.73"/><ellipse cx="184.3" cy="190.0" rx="0.61" ry="0.46" fill="#2f6288" opacity="0.65"/><ellipse cx="133.0" cy="180.4" rx="0.71" ry="0.68" fill="#2f6288" opacity="0.55"/><ellipse cx="132.6" cy="180.9" rx="0.85" ry="0.66" fill="#4a82a8" opacity="0.70"/><ellipse cx="51.6" cy="193.5" rx="0.42" ry="0.52" fill="#2f6288" opacity="0.67"/><ellipse cx="50.8" cy="192.7" rx="0.37" ry="0.53" fill="#2f6288" opacity="0.88"/><ellipse cx="51.8" cy="192.8" rx="0.38" ry="0.37" fill="#4a82a8" opacity="0.77"/><ellipse cx="61.5" cy="201.4" rx="0.81" ry="0.54" fill="#3a6890" opacity="0.55"/><ellipse cx="103.0" cy="176.0" rx="0.86" ry="0.58" fill="#2f6288" opacity="0.84"/><ellipse cx="103.5" cy="176.7" rx="0.75" ry="0.84" fill="#3a6890" opacity="0.69"/><ellipse cx="103.4" cy="175.5" rx="0.54" ry="0.51" fill="#2b557c" opacity="0.85"/><ellipse cx="133.4" cy="228.8" rx="0.45" ry="0.54" fill="#3a7098" opacity="0.66"/><ellipse cx="133.7" cy="229.0" rx="0.58" ry="0.41" fill="#4a82a8" opacity="0.61"/><ellipse cx="133.8" cy="229.5" rx="0.41" ry="0.59" fill="#4a82a8" opacity="0.65"/><ellipse cx="128.5" cy="226.9" rx="0.41" ry="0.47" fill="#3a6890" opacity="0.84"/><ellipse cx="82.4" cy="214.1" rx="0.38" ry="0.56" fill="#3a6890" opacity="0.81"/><ellipse cx="81.9" cy="214.5" rx="0.49" ry="0.40" fill="#2f6288" opacity="0.78"/><ellipse cx="96.5" cy="255.7" rx="0.42" ry="0.39" fill="#3a7098" opacity="0.56"/><ellipse cx="131.6" cy="203.8" rx="0.50" ry="0.58" fill="#3a7098" opacity="0.86"/><ellipse cx="131.8" cy="203.7" rx="0.52" ry="0.76" fill="#5a8fb0" opacity="0.76"/><ellipse cx="81.6" cy="248.9" rx="0.69" ry="0.73" fill="#2f6288" opacity="0.73"/><ellipse cx="81.0" cy="249.0" rx="0.56" ry="0.58" fill="#4a82a8" opacity="0.73"/><ellipse cx="121.0" cy="171.8" rx="0.83" ry="0.55" fill="#2f6288" opacity="0.86"/><ellipse cx="100.2" cy="225.6" rx="0.47" ry="0.60" fill="#5a8fb0" opacity="0.69"/><ellipse cx="155.5" cy="201.8" rx="0.51" ry="0.53" fill="#2f6288" opacity="0.65"/><ellipse cx="155.3" cy="201.2" rx="0.61" ry="0.50" fill="#4a82a8" opacity="0.63"/><ellipse cx="128.3" cy="174.3" rx="0.33" ry="0.42" fill="#2f6288" opacity="0.83"/><ellipse cx="128.4" cy="174.3" rx="0.41" ry="0.38" fill="#3a7098" opacity="0.74"/><ellipse cx="107.2" cy="172.6" rx="0.54" ry="0.50" fill="#4a82a8" opacity="0.77"/><ellipse cx="107.1" cy="171.9" rx="0.54" ry="0.57" fill="#2b557c" opacity="0.80"/><ellipse cx="86.2" cy="224.3" rx="0.57" ry="0.51" fill="#4a82a8" opacity="0.64"/><ellipse cx="86.3" cy="223.9" rx="0.73" ry="0.73" fill="#2f6288" opacity="0.90"/><ellipse cx="86.3" cy="223.5" rx="0.50" ry="0.64" fill="#4a82a8" opacity="0.63"/><ellipse cx="57.6" cy="242.7" rx="0.47" ry="0.35" fill="#3a7098" opacity="0.70"/><ellipse cx="58.0" cy="242.6" rx="0.47" ry="0.32" fill="#2b557c" opacity="0.70"/><ellipse cx="131.9" cy="191.0" rx="0.68" ry="0.57" fill="#2b557c" opacity="0.69"/><ellipse cx="183.2" cy="177.3" rx="0.64" ry="0.49" fill="#2b557c" opacity="0.72"/><ellipse cx="183.9" cy="176.9" rx="0.41" ry="0.39" fill="#3a6890" opacity="0.68"/><ellipse cx="131.4" cy="195.1" rx="0.50" ry="0.55" fill="#4a82a8" opacity="0.81"/><ellipse cx="77.0" cy="187.8" rx="0.53" ry="0.59" fill="#2f6288" opacity="0.56"/><ellipse cx="77.1" cy="188.5" rx="0.38" ry="0.45" fill="#5a8fb0" opacity="0.86"/><ellipse cx="77.6" cy="188.1" rx="0.51" ry="0.39" fill="#2f6288" opacity="0.82"/><ellipse cx="152.1" cy="225.5" rx="0.66" ry="0.53" fill="#3a6890" opacity="0.68"/><ellipse cx="152.3" cy="225.2" rx="0.71" ry="0.67" fill="#5a8fb0" opacity="0.62"/><ellipse cx="61.2" cy="194.1" rx="0.42" ry="0.40" fill="#4a82a8" opacity="0.84"/><ellipse cx="61.9" cy="193.9" rx="0.50" ry="0.48" fill="#2b557c" opacity="0.85"/><ellipse cx="60.3" cy="193.8" rx="0.57" ry="0.55" fill="#2b557c" opacity="0.89"/><ellipse cx="169.9" cy="196.6" rx="0.56" ry="0.37" fill="#2b557c" opacity="0.77"/><ellipse cx="170.4" cy="196.7" rx="0.47" ry="0.43" fill="#5a8fb0" opacity="0.73"/><ellipse cx="103.9" cy="232.2" rx="0.54" ry="0.77" fill="#5a8fb0" opacity="0.90"/><ellipse cx="110.4" cy="204.0" rx="0.73" ry="0.54" fill="#2b557c" opacity="0.88"/><ellipse cx="111.0" cy="203.1" rx="0.63" ry="0.60" fill="#3a6890" opacity="0.66"/><ellipse cx="111.0" cy="255.8" rx="0.62" ry="0.41" fill="#4a82a8" opacity="0.85"/><ellipse cx="111.6" cy="256.7" rx="0.50" ry="0.43" fill="#4a82a8" opacity="0.89"/><ellipse cx="129.2" cy="249.7" rx="0.59" ry="0.51" fill="#3a6890" opacity="0.89"/><ellipse cx="129.9" cy="250.4" rx="0.54" ry="0.49" fill="#4a82a8" opacity="0.68"/><ellipse cx="162.3" cy="197.8" rx="0.59" ry="0.50" fill="#2b557c" opacity="0.81"/><ellipse cx="130.1" cy="185.4" rx="0.73" ry="0.72" fill="#2b557c" opacity="0.83"/><ellipse cx="130.9" cy="185.5" rx="0.82" ry="0.62" fill="#3a6890" opacity="0.73"/><ellipse cx="129.3" cy="185.2" rx="0.79" ry="0.59" fill="#4a82a8" opacity="0.72"/><ellipse cx="50.4" cy="187.0" rx="0.83" ry="0.60" fill="#5a8fb0" opacity="0.78"/><ellipse cx="50.1" cy="186.7" rx="0.75" ry="0.53" fill="#3a7098" opacity="0.68"/><ellipse cx="152.1" cy="238.7" rx="0.44" ry="0.64" fill="#2b557c" opacity="0.55"/><ellipse cx="170.3" cy="182.0" rx="0.52" ry="0.57" fill="#5a8fb0" opacity="0.56"/><ellipse cx="77.8" cy="199.5" rx="0.60" ry="0.58" fill="#3a6890" opacity="0.65"/><ellipse cx="76.9" cy="200.1" rx="0.56" ry="0.64" fill="#3a6890" opacity="0.60"/><ellipse cx="72.6" cy="190.8" rx="0.81" ry="0.63" fill="#4a82a8" opacity="0.59"/><ellipse cx="72.2" cy="191.3" rx="0.79" ry="0.53" fill="#2f6288" opacity="0.77"/><ellipse cx="73.4" cy="191.6" rx="0.68" ry="0.66" fill="#3a7098" opacity="0.72"/><ellipse cx="160.2" cy="234.2" rx="0.61" ry="0.58" fill="#3a6890" opacity="0.69"/><ellipse cx="180.2" cy="170.3" rx="0.31" ry="0.36" fill="#5a8fb0" opacity="0.64"/><ellipse cx="180.8" cy="169.7" rx="0.33" ry="0.41" fill="#5a8fb0" opacity="0.74"/><ellipse cx="179.4" cy="170.1" rx="0.46" ry="0.35" fill="#2f6288" opacity="0.87"/><ellipse cx="106.3" cy="176.4" rx="0.47" ry="0.65" fill="#2f6288" opacity="0.60"/><ellipse cx="107.1" cy="176.8" rx="0.71" ry="0.70" fill="#4a82a8" opacity="0.84"/><ellipse cx="105.6" cy="175.9" rx="0.57" ry="0.62" fill="#5a8fb0" opacity="0.67"/><ellipse cx="164.3" cy="184.5" rx="0.59" ry="0.81" fill="#2b557c" opacity="0.56"/><ellipse cx="164.0" cy="183.6" rx="0.64" ry="0.62" fill="#5a8fb0" opacity="0.86"/><ellipse cx="165.1" cy="185.2" rx="0.83" ry="0.60" fill="#5a8fb0" opacity="0.65"/><ellipse cx="69.8" cy="174.2" rx="0.55" ry="0.62" fill="#3a6890" opacity="0.55"/><ellipse cx="69.2" cy="174.6" rx="0.45" ry="0.61" fill="#4a82a8" opacity="0.73"/><ellipse cx="140.4" cy="244.1" rx="0.55" ry="0.51" fill="#3a6890" opacity="0.56"/><ellipse cx="130.6" cy="223.9" rx="0.44" ry="0.46" fill="#2b557c" opacity="0.66"/><ellipse cx="79.2" cy="203.6" rx="0.54" ry="0.59" fill="#2b557c" opacity="0.57"/><ellipse cx="79.8" cy="202.8" rx="0.50" ry="0.57" fill="#2f6288" opacity="0.69"/><ellipse cx="130.4" cy="235.9" rx="0.62" ry="0.83" fill="#2f6288" opacity="0.81"/><ellipse cx="140.2" cy="187.2" rx="0.55" ry="0.55" fill="#3a6890" opacity="0.70"/><ellipse cx="140.6" cy="187.5" rx="0.82" ry="0.51" fill="#2b557c" opacity="0.70"/><ellipse cx="100.0" cy="195.1" rx="0.42" ry="0.41" fill="#5a8fb0" opacity="0.85"/><ellipse cx="99.4" cy="195.7" rx="0.45" ry="0.55" fill="#2b557c" opacity="0.66"/><ellipse cx="102.6" cy="237.6" rx="0.61" ry="0.51" fill="#2b557c" opacity="0.83"/><ellipse cx="101.8" cy="238.3" rx="0.58" ry="0.44" fill="#2f6288" opacity="0.77"/><ellipse cx="102.9" cy="215.0" rx="0.35" ry="0.49" fill="#3a6890" opacity="0.87"/><ellipse cx="103.6" cy="215.1" rx="0.45" ry="0.50" fill="#4a82a8" opacity="0.79"/><ellipse cx="130.2" cy="217.7" rx="0.55" ry="0.44" fill="#4a82a8" opacity="0.86"/><ellipse cx="130.5" cy="217.6" rx="0.46" ry="0.55" fill="#3a6890" opacity="0.85"/><ellipse cx="75.2" cy="246.8" rx="0.81" ry="0.55" fill="#3a7098" opacity="0.86"/><ellipse cx="75.0" cy="247.3" rx="0.75" ry="0.82" fill="#4a82a8" opacity="0.74"/><ellipse cx="85.5" cy="202.0" rx="0.68" ry="0.58" fill="#4a82a8" opacity="0.73"/><ellipse cx="85.9" cy="202.2" rx="0.63" ry="0.80" fill="#4a82a8" opacity="0.85"/><ellipse cx="59.8" cy="243.6" rx="0.88" ry="0.82" fill="#4a82a8" opacity="0.79"/><ellipse cx="59.5" cy="243.0" rx="0.77" ry="0.89" fill="#2f6288" opacity="0.82"/><ellipse cx="60.4" cy="243.9" rx="0.70" ry="0.85" fill="#2b557c" opacity="0.55"/><ellipse cx="140.4" cy="182.9" rx="0.46" ry="0.52" fill="#2b557c" opacity="0.84"/><ellipse cx="138.8" cy="234.4" rx="0.81" ry="0.62" fill="#4a82a8" opacity="0.74"/><ellipse cx="139.6" cy="234.7" rx="0.85" ry="0.76" fill="#3a7098" opacity="0.62"/><ellipse cx="92.6" cy="180.9" rx="0.81" ry="0.86" fill="#5a8fb0" opacity="0.76"/><ellipse cx="178.3" cy="248.5" rx="0.85" ry="0.74" fill="#2f6288" opacity="0.73"/><ellipse cx="178.3" cy="249.2" rx="0.82" ry="0.52" fill="#4a82a8" opacity="0.76"/><ellipse cx="126.0" cy="247.0" rx="0.33" ry="0.39" fill="#3a6890" opacity="0.82"/><ellipse cx="125.3" cy="246.8" rx="0.38" ry="0.38" fill="#2f6288" opacity="0.82"/><ellipse cx="126.1" cy="247.1" rx="0.38" ry="0.46" fill="#3a7098" opacity="0.60"/><ellipse cx="155.9" cy="225.8" rx="0.73" ry="0.69" fill="#2f6288" opacity="0.55"/><ellipse cx="155.1" cy="226.4" rx="0.73" ry="0.67" fill="#2b557c" opacity="0.89"/><ellipse cx="156.3" cy="233.5" rx="0.61" ry="0.67" fill="#3a7098" opacity="0.65"/><ellipse cx="72.9" cy="213.2" rx="0.67" ry="0.77" fill="#5a8fb0" opacity="0.60"/><ellipse cx="73.2" cy="213.0" rx="0.75" ry="0.80" fill="#2f6288" opacity="0.64"/><ellipse cx="147.0" cy="245.9" rx="0.55" ry="0.60" fill="#4a82a8" opacity="0.87"/><ellipse cx="63.1" cy="196.3" rx="0.55" ry="0.52" fill="#3a7098" opacity="0.84"/><ellipse cx="62.7" cy="196.4" rx="0.36" ry="0.40" fill="#2b557c" opacity="0.61"/><ellipse cx="43.0" cy="225.9" rx="0.60" ry="0.48" fill="#3a7098" opacity="0.69"/><ellipse cx="42.3" cy="226.3" rx="0.55" ry="0.52" fill="#2b557c" opacity="0.82"/><ellipse cx="117.6" cy="209.8" rx="0.63" ry="0.46" fill="#3a6890" opacity="0.75"/><ellipse cx="117.0" cy="210.1" rx="0.48" ry="0.57" fill="#2f6288" opacity="0.71"/><ellipse cx="92.8" cy="241.7" rx="0.37" ry="0.39" fill="#5a8fb0" opacity="0.75"/><ellipse cx="73.2" cy="213.8" rx="0.43" ry="0.33" fill="#2b557c" opacity="0.80"/><ellipse cx="123.7" cy="233.3" rx="0.43" ry="0.42" fill="#2f6288" opacity="0.64"/><ellipse cx="123.2" cy="232.6" rx="0.43" ry="0.45" fill="#4a82a8" opacity="0.86"/><ellipse cx="160.8" cy="284.7" rx="0.55" ry="0.69" fill="#2f6288" opacity="0.88"/><ellipse cx="160.3" cy="285.5" rx="0.65" ry="0.47" fill="#3a7098" opacity="0.87"/><ellipse cx="143.4" cy="250.4" rx="0.55" ry="0.41" fill="#3a6890" opacity="0.68"/><ellipse cx="85.0" cy="278.1" rx="0.41" ry="0.36" fill="#2f6288" opacity="0.67"/><ellipse cx="85.3" cy="278.1" rx="0.42" ry="0.40" fill="#3a6890" opacity="0.68"/><ellipse cx="151.6" cy="210.5" rx="0.38" ry="0.36" fill="#4a82a8" opacity="0.68"/><ellipse cx="71.6" cy="230.8" rx="0.59" ry="0.52" fill="#3a6890" opacity="0.78"/><ellipse cx="72.1" cy="231.0" rx="0.61" ry="0.46" fill="#2f6288" opacity="0.80"/><ellipse cx="91.6" cy="215.7" rx="0.68" ry="0.65" fill="#2f6288" opacity="0.59"/><ellipse cx="91.2" cy="214.8" rx="0.66" ry="0.66" fill="#2b557c" opacity="0.69"/><ellipse cx="92.4" cy="215.1" rx="0.63" ry="0.67" fill="#5a8fb0" opacity="0.63"/><ellipse cx="94.7" cy="219.7" rx="0.63" ry="0.62" fill="#5a8fb0" opacity="0.68"/><ellipse cx="44.3" cy="240.8" rx="0.42" ry="0.35" fill="#3a6890" opacity="0.56"/><ellipse cx="43.5" cy="240.0" rx="0.35" ry="0.34" fill="#2b557c" opacity="0.56"/><ellipse cx="182.0" cy="177.2" rx="0.72" ry="0.61" fill="#2b557c" opacity="0.58"/><ellipse cx="146.9" cy="265.4" rx="0.67" ry="0.46" fill="#5a8fb0" opacity="0.74"/><ellipse cx="146.8" cy="265.1" rx="0.58" ry="0.57" fill="#3a7098" opacity="0.71"/><ellipse cx="185.8" cy="201.7" rx="0.51" ry="0.60" fill="#3a7098" opacity="0.69"/><ellipse cx="132.8" cy="174.4" rx="0.81" ry="0.68" fill="#4a82a8" opacity="0.67"/><ellipse cx="61.8" cy="256.6" rx="0.49" ry="0.43" fill="#5a8fb0" opacity="0.58"/><ellipse cx="62.4" cy="255.7" rx="0.52" ry="0.57" fill="#3a6890" opacity="0.85"/><ellipse cx="68.4" cy="181.7" rx="0.46" ry="0.59" fill="#2b557c" opacity="0.63"/><ellipse cx="68.2" cy="182.4" rx="0.56" ry="0.42" fill="#2f6288" opacity="0.66"/><ellipse cx="69.1" cy="181.8" rx="0.46" ry="0.53" fill="#2f6288" opacity="0.78"/><ellipse cx="162.8" cy="253.7" rx="0.34" ry="0.41" fill="#2f6288" opacity="0.60"/><ellipse cx="163.3" cy="252.8" rx="0.35" ry="0.32" fill="#3a7098" opacity="0.72"/><ellipse cx="139.9" cy="238.6" rx="0.70" ry="0.56" fill="#4a82a8" opacity="0.61"/><ellipse cx="173.2" cy="255.8" rx="0.61" ry="0.60" fill="#4a82a8" opacity="0.57"/><ellipse cx="102.8" cy="313.9" rx="0.55" ry="0.79" fill="#3a6890" opacity="0.55"/><ellipse cx="103.0" cy="313.8" rx="0.82" ry="0.70" fill="#2b557c" opacity="0.88"/><ellipse cx="122.9" cy="200.2" rx="0.42" ry="0.32" fill="#5a8fb0" opacity="0.89"/><ellipse cx="123.7" cy="200.1" rx="0.39" ry="0.30" fill="#3a7098" opacity="0.86"/><ellipse cx="87.4" cy="295.1" rx="0.58" ry="0.39" fill="#2f6288" opacity="0.81"/><ellipse cx="86.6" cy="294.8" rx="0.40" ry="0.50" fill="#2f6288" opacity="0.77"/><ellipse cx="86.8" cy="294.3" rx="0.58" ry="0.43" fill="#2b557c" opacity="0.84"/><ellipse cx="154.5" cy="238.0" rx="0.42" ry="0.51" fill="#3a7098" opacity="0.67"/><ellipse cx="154.6" cy="237.9" rx="0.38" ry="0.62" fill="#4a82a8" opacity="0.71"/><ellipse cx="135.7" cy="211.1" rx="0.49" ry="0.51" fill="#4a82a8" opacity="0.73"/><ellipse cx="135.2" cy="210.9" rx="0.54" ry="0.41" fill="#3a6890" opacity="0.87"/><ellipse cx="73.3" cy="173.6" rx="0.36" ry="0.32" fill="#3a6890" opacity="0.73"/><ellipse cx="74.1" cy="173.4" rx="0.44" ry="0.33" fill="#4a82a8" opacity="0.85"/><ellipse cx="143.8" cy="236.9" rx="0.64" ry="0.54" fill="#3a7098" opacity="0.71"/><ellipse cx="169.8" cy="264.7" rx="0.35" ry="0.35" fill="#2b557c" opacity="0.67"/><ellipse cx="170.1" cy="264.9" rx="0.36" ry="0.28" fill="#3a6890" opacity="0.88"/><ellipse cx="170.6" cy="265.4" rx="0.34" ry="0.34" fill="#2f6288" opacity="0.70"/><ellipse cx="102.2" cy="268.9" rx="0.70" ry="0.46" fill="#3a7098" opacity="0.80"/><ellipse cx="103.0" cy="268.7" rx="0.67" ry="0.66" fill="#5a8fb0" opacity="0.71"/><ellipse cx="102.7" cy="269.4" rx="0.62" ry="0.58" fill="#3a6890" opacity="0.69"/><ellipse cx="85.0" cy="225.5" rx="0.39" ry="0.35" fill="#3a6890" opacity="0.76"/><ellipse cx="152.5" cy="244.3" rx="0.48" ry="0.61" fill="#3a6890" opacity="0.56"/><ellipse cx="152.0" cy="244.1" rx="0.59" ry="0.46" fill="#5a8fb0" opacity="0.80"/><ellipse cx="46.9" cy="177.9" rx="0.71" ry="0.64" fill="#5a8fb0" opacity="0.80"/><ellipse cx="161.3" cy="257.9" rx="0.44" ry="0.45" fill="#5a8fb0" opacity="0.61"/><ellipse cx="47.0" cy="298.6" rx="0.60" ry="0.51" fill="#3a7098" opacity="0.62"/><ellipse cx="46.9" cy="298.7" rx="0.64" ry="0.55" fill="#2f6288" opacity="0.61"/><ellipse cx="91.2" cy="228.7" rx="0.42" ry="0.43" fill="#3a7098" opacity="0.58"/><ellipse cx="90.4" cy="229.2" rx="0.46" ry="0.43" fill="#3a6890" opacity="0.86"/><ellipse cx="91.4" cy="228.7" rx="0.35" ry="0.55" fill="#5a8fb0" opacity="0.71"/><ellipse cx="51.3" cy="273.6" rx="0.59" ry="0.66" fill="#4a82a8" opacity="0.67"/><ellipse cx="88.9" cy="181.5" rx="0.57" ry="0.60" fill="#5a8fb0" opacity="0.85"/><ellipse cx="192.0" cy="202.7" rx="0.51" ry="0.49" fill="#5a8fb0" opacity="0.55"/><ellipse cx="192.0" cy="203.0" rx="0.67" ry="0.47" fill="#3a7098" opacity="0.65"/><ellipse cx="191.2" cy="201.8" rx="0.72" ry="0.44" fill="#3a7098" opacity="0.79"/><ellipse cx="75.7" cy="223.0" rx="0.41" ry="0.32" fill="#5a8fb0" opacity="0.76"/><ellipse cx="76.4" cy="222.2" rx="0.41" ry="0.39" fill="#5a8fb0" opacity="0.84"/><ellipse cx="75.6" cy="222.3" rx="0.43" ry="0.34" fill="#5a8fb0" opacity="0.60"/><ellipse cx="120.0" cy="163.8" rx="0.62" ry="0.60" fill="#4a82a8" opacity="0.77"/><ellipse cx="96.7" cy="269.7" rx="0.63" ry="0.51" fill="#5a8fb0" opacity="0.88"/><ellipse cx="95.9" cy="268.9" rx="0.43" ry="0.43" fill="#3a7098" opacity="0.57"/><ellipse cx="157.0" cy="206.0" rx="0.35" ry="0.44" fill="#3a6890" opacity="0.71"/><ellipse cx="156.9" cy="205.2" rx="0.47" ry="0.46" fill="#2b557c" opacity="0.74"/><ellipse cx="96.7" cy="242.0" rx="0.83" ry="0.79" fill="#3a7098" opacity="0.62"/><ellipse cx="168.9" cy="270.0" rx="0.60" ry="0.48" fill="#5a8fb0" opacity="0.83"/><ellipse cx="168.2" cy="270.3" rx="0.48" ry="0.55" fill="#4a82a8" opacity="0.89"/><ellipse cx="49.1" cy="274.1" rx="0.46" ry="0.59" fill="#2b557c" opacity="0.58"/><ellipse cx="49.7" cy="274.7" rx="0.61" ry="0.54" fill="#4a82a8" opacity="0.76"/><ellipse cx="72.9" cy="179.7" rx="0.54" ry="0.68" fill="#4a82a8" opacity="0.77"/><ellipse cx="72.1" cy="180.2" rx="0.75" ry="0.67" fill="#3a6890" opacity="0.72"/><ellipse cx="85.1" cy="202.7" rx="0.55" ry="0.46" fill="#5a8fb0" opacity="0.85"/><ellipse cx="90.1" cy="163.1" rx="0.60" ry="0.64" fill="#3a6890" opacity="0.89"/><ellipse cx="171.2" cy="284.7" rx="0.34" ry="0.45" fill="#5a8fb0" opacity="0.68"/><ellipse cx="171.4" cy="284.1" rx="0.49" ry="0.35" fill="#5a8fb0" opacity="0.86"/><ellipse cx="54.7" cy="210.7" rx="0.67" ry="0.70" fill="#3a6890" opacity="0.79"/><ellipse cx="125.1" cy="202.9" rx="0.63" ry="0.52" fill="#3a6890" opacity="0.66"/><ellipse cx="189.8" cy="251.6" rx="0.33" ry="0.41" fill="#3a7098" opacity="0.87"/><ellipse cx="189.8" cy="252.2" rx="0.41" ry="0.35" fill="#2b557c" opacity="0.58"/><ellipse cx="189.8" cy="251.1" rx="0.46" ry="0.45" fill="#2f6288" opacity="0.58"/><ellipse cx="77.8" cy="182.0" rx="0.43" ry="0.47" fill="#3a7098" opacity="0.57"/><ellipse cx="128.1" cy="248.4" rx="0.73" ry="0.57" fill="#5a8fb0" opacity="0.62"/><ellipse cx="128.4" cy="248.4" rx="0.55" ry="0.54" fill="#2f6288" opacity="0.66"/><ellipse cx="158.8" cy="230.6" rx="0.52" ry="0.35" fill="#2b557c" opacity="0.64"/><ellipse cx="158.8" cy="230.0" rx="0.44" ry="0.37" fill="#3a7098" opacity="0.72"/><ellipse cx="129.1" cy="310.8" rx="0.42" ry="0.43" fill="#3a6890" opacity="0.68"/><ellipse cx="129.3" cy="310.3" rx="0.58" ry="0.59" fill="#3a6890" opacity="0.80"/><ellipse cx="58.9" cy="195.0" rx="0.80" ry="0.59" fill="#5a8fb0" opacity="0.75"/><ellipse cx="58.3" cy="195.5" rx="0.60" ry="0.73" fill="#5a8fb0" opacity="0.68"/><ellipse cx="132.8" cy="182.3" rx="0.47" ry="0.47" fill="#3a7098" opacity="0.58"/><ellipse cx="132.5" cy="182.6" rx="0.42" ry="0.38" fill="#2f6288" opacity="0.56"/><ellipse cx="149.6" cy="177.2" rx="0.47" ry="0.49" fill="#2f6288" opacity="0.57"/><ellipse cx="87.9" cy="280.5" rx="0.48" ry="0.72" fill="#5a8fb0" opacity="0.66"/><ellipse cx="88.5" cy="280.0" rx="0.66" ry="0.47" fill="#3a6890" opacity="0.85"/><ellipse cx="136.2" cy="311.6" rx="0.74" ry="0.64" fill="#3a6890" opacity="0.82"/><ellipse cx="126.9" cy="199.9" rx="0.71" ry="0.81" fill="#2b557c" opacity="0.86"/><ellipse cx="126.1" cy="200.5" rx="0.57" ry="0.70" fill="#5a8fb0" opacity="0.67"/><ellipse cx="60.3" cy="202.7" rx="0.54" ry="0.56" fill="#2b557c" opacity="0.74"/><ellipse cx="60.4" cy="202.5" rx="0.68" ry="0.46" fill="#2b557c" opacity="0.75"/><ellipse cx="113.7" cy="274.1" rx="0.45" ry="0.43" fill="#3a7098" opacity="0.76"/><ellipse cx="113.5" cy="273.9" rx="0.47" ry="0.38" fill="#3a7098" opacity="0.58"/><ellipse cx="113.0" cy="273.6" rx="0.41" ry="0.42" fill="#2f6288" opacity="0.55"/><ellipse cx="88.3" cy="172.7" rx="0.70" ry="0.75" fill="#5a8fb0" opacity="0.72"/><ellipse cx="44.5" cy="258.5" rx="0.37" ry="0.43" fill="#3a6890" opacity="0.60"/><ellipse cx="179.8" cy="286.4" rx="0.45" ry="0.63" fill="#2f6288" opacity="0.81"/><ellipse cx="180.4" cy="209.7" rx="0.71" ry="0.68" fill="#3a7098" opacity="0.86"/><ellipse cx="125.8" cy="196.5" rx="0.82" ry="0.53" fill="#2f6288" opacity="0.87"/><ellipse cx="173.5" cy="194.7" rx="0.51" ry="0.58" fill="#3a6890" opacity="0.66"/><ellipse cx="173.2" cy="195.1" rx="0.60" ry="0.64" fill="#2f6288" opacity="0.61"/><ellipse cx="68.3" cy="302.1" rx="0.36" ry="0.48" fill="#5a8fb0" opacity="0.73"/><ellipse cx="184.7" cy="218.9" rx="0.44" ry="0.60" fill="#2b557c" opacity="0.64"/><ellipse cx="179.0" cy="259.2" rx="0.60" ry="0.50" fill="#5a8fb0" opacity="0.87"/><ellipse cx="178.3" cy="259.7" rx="0.56" ry="0.63" fill="#4a82a8" opacity="0.74"/><ellipse cx="64.1" cy="212.8" rx="0.73" ry="0.51" fill="#5a8fb0" opacity="0.69"/><ellipse cx="64.6" cy="212.4" rx="0.69" ry="0.51" fill="#3a6890" opacity="0.84"/><ellipse cx="106.3" cy="233.3" rx="0.36" ry="0.31" fill="#2b557c" opacity="0.89"/><ellipse cx="105.7" cy="232.8" rx="0.51" ry="0.37" fill="#3a6890" opacity="0.86"/><ellipse cx="149.0" cy="207.4" rx="0.62" ry="0.45" fill="#5a8fb0" opacity="0.64"/><ellipse cx="149.6" cy="207.9" rx="0.63" ry="0.43" fill="#3a7098" opacity="0.87"/><ellipse cx="148.9" cy="208.2" rx="0.41" ry="0.64" fill="#3a6890" opacity="0.87"/><ellipse cx="78.4" cy="163.5" rx="0.35" ry="0.35" fill="#5a8fb0" opacity="0.68"/><ellipse cx="78.6" cy="164.3" rx="0.44" ry="0.32" fill="#5a8fb0" opacity="0.80"/><ellipse cx="92.4" cy="165.9" rx="0.79" ry="0.74" fill="#2b557c" opacity="0.68"/><ellipse cx="189.4" cy="229.9" rx="0.40" ry="0.34" fill="#3a7098" opacity="0.75"/><ellipse cx="115.8" cy="253.9" rx="0.50" ry="0.41" fill="#5a8fb0" opacity="0.72"/><ellipse cx="116.6" cy="253.4" rx="0.60" ry="0.52" fill="#3a7098" opacity="0.56"/><ellipse cx="173.2" cy="250.8" rx="0.37" ry="0.34" fill="#3a6890" opacity="0.89"/><ellipse cx="84.4" cy="229.7" rx="0.48" ry="0.36" fill="#2f6288" opacity="0.80"/><ellipse cx="85.1" cy="229.3" rx="0.46" ry="0.43" fill="#4a82a8" opacity="0.71"/><ellipse cx="85.2" cy="230.5" rx="0.49" ry="0.37" fill="#3a6890" opacity="0.73"/><ellipse cx="67.7" cy="253.1" rx="0.60" ry="0.60" fill="#3a7098" opacity="0.57"/><ellipse cx="87.1" cy="245.1" rx="0.51" ry="0.35" fill="#4a82a8" opacity="0.78"/><ellipse cx="66.2" cy="207.5" rx="0.45" ry="0.51" fill="#3a7098" opacity="0.69"/><ellipse cx="65.6" cy="207.6" rx="0.45" ry="0.41" fill="#3a6890" opacity="0.63"/><ellipse cx="66.6" cy="208.2" rx="0.54" ry="0.44" fill="#4a82a8" opacity="0.64"/><ellipse cx="128.6" cy="233.3" rx="0.35" ry="0.40" fill="#4a82a8" opacity="0.56"/><ellipse cx="128.7" cy="232.8" rx="0.34" ry="0.48" fill="#3a6890" opacity="0.75"/><ellipse cx="128.3" cy="233.1" rx="0.37" ry="0.44" fill="#4a82a8" opacity="0.64"/><ellipse cx="66.7" cy="263.7" rx="0.52" ry="0.55" fill="#3a6890" opacity="0.71"/><ellipse cx="67.3" cy="262.8" rx="0.56" ry="0.50" fill="#3a6890" opacity="0.61"/><ellipse cx="181.3" cy="248.7" rx="0.53" ry="0.76" fill="#4a82a8" opacity="0.81"/><ellipse cx="84.6" cy="250.2" rx="0.52" ry="0.51" fill="#2f6288" opacity="0.83"/><ellipse cx="79.0" cy="225.2" rx="0.32" ry="0.43" fill="#4a82a8" opacity="0.69"/><ellipse cx="121.6" cy="306.5" rx="0.46" ry="0.43" fill="#3a6890" opacity="0.70"/><ellipse cx="122.0" cy="306.9" rx="0.41" ry="0.45" fill="#3a7098" opacity="0.75"/><ellipse cx="107.6" cy="224.9" rx="0.72" ry="0.78" fill="#3a7098" opacity="0.75"/><ellipse cx="58.9" cy="181.2" rx="0.58" ry="0.69" fill="#3a7098" opacity="0.61"/><ellipse cx="58.7" cy="182.0" rx="0.50" ry="0.64" fill="#2b557c" opacity="0.87"/><ellipse cx="58.4" cy="181.9" rx="0.68" ry="0.48" fill="#3a7098" opacity="0.86"/><ellipse cx="144.8" cy="256.2" rx="0.68" ry="0.50" fill="#4a82a8" opacity="0.86"/><ellipse cx="78.5" cy="220.1" rx="0.32" ry="0.36" fill="#2f6288" opacity="0.65"/><ellipse cx="149.9" cy="171.9" rx="0.62" ry="0.41" fill="#2f6288" opacity="0.65"/><ellipse cx="149.1" cy="172.6" rx="0.58" ry="0.58" fill="#5a8fb0" opacity="0.82"/><ellipse cx="56.3" cy="251.5" rx="0.45" ry="0.59" fill="#4a82a8" opacity="0.77"/><ellipse cx="55.4" cy="251.8" rx="0.71" ry="0.44" fill="#4a82a8" opacity="0.87"/><ellipse cx="114.7" cy="212.9" rx="0.41" ry="0.50" fill="#5a8fb0" opacity="0.74"/><ellipse cx="48.5" cy="292.0" rx="0.59" ry="0.72" fill="#2b557c" opacity="0.73"/><ellipse cx="49.6" cy="276.3" rx="0.44" ry="0.42" fill="#2f6288" opacity="0.70"/><ellipse cx="66.6" cy="179.1" rx="0.51" ry="0.49" fill="#3a7098" opacity="0.89"/><ellipse cx="66.4" cy="178.9" rx="0.66" ry="0.56" fill="#3a6890" opacity="0.87"/><ellipse cx="46.4" cy="301.4" rx="0.58" ry="0.53" fill="#3a6890" opacity="0.76"/><ellipse cx="46.7" cy="300.6" rx="0.65" ry="0.59" fill="#4a82a8" opacity="0.79"/><ellipse cx="168.0" cy="234.9" rx="0.50" ry="0.50" fill="#5a8fb0" opacity="0.78"/><ellipse cx="80.8" cy="216.6" rx="0.48" ry="0.42" fill="#2b557c" opacity="0.55"/><ellipse cx="80.8" cy="215.8" rx="0.44" ry="0.64" fill="#2b557c" opacity="0.65"/><ellipse cx="80.5" cy="217.0" rx="0.48" ry="0.49" fill="#5a8fb0" opacity="0.68"/><ellipse cx="67.1" cy="207.0" rx="0.51" ry="0.54" fill="#3a6890" opacity="0.71"/><ellipse cx="66.8" cy="206.6" rx="0.54" ry="0.60" fill="#2f6288" opacity="0.70"/><ellipse cx="77.8" cy="172.1" rx="0.44" ry="0.45" fill="#3a7098" opacity="0.82"/><ellipse cx="78.4" cy="171.4" rx="0.44" ry="0.34" fill="#3a6890" opacity="0.77"/><ellipse cx="135.7" cy="248.2" rx="0.47" ry="0.43" fill="#4a82a8" opacity="0.64"/><ellipse cx="135.2" cy="248.8" rx="0.37" ry="0.39" fill="#5a8fb0" opacity="0.69"/><ellipse cx="69.3" cy="230.3" rx="0.59" ry="0.42" fill="#3a6890" opacity="0.57"/><ellipse cx="69.7" cy="231.1" rx="0.52" ry="0.52" fill="#2b557c" opacity="0.63"/><ellipse cx="118.4" cy="289.1" rx="0.47" ry="0.49" fill="#2b557c" opacity="0.65"/><ellipse cx="156.6" cy="313.7" rx="0.46" ry="0.63" fill="#3a7098" opacity="0.69"/><ellipse cx="156.4" cy="312.9" rx="0.44" ry="0.64" fill="#3a7098" opacity="0.76"/><ellipse cx="49.5" cy="184.3" rx="0.43" ry="0.33" fill="#4a82a8" opacity="0.88"/><ellipse cx="50.2" cy="183.9" rx="0.50" ry="0.52" fill="#5a8fb0" opacity="0.72"/><ellipse cx="115.8" cy="261.6" rx="0.71" ry="0.56" fill="#5a8fb0" opacity="0.62"/><ellipse cx="115.2" cy="261.7" rx="0.44" ry="0.58" fill="#5a8fb0" opacity="0.59"/><ellipse cx="181.3" cy="247.6" rx="0.42" ry="0.45" fill="#2b557c" opacity="0.85"/><ellipse cx="180.4" cy="247.5" rx="0.62" ry="0.54" fill="#5a8fb0" opacity="0.80"/><ellipse cx="58.0" cy="214.4" rx="0.46" ry="0.52" fill="#2b557c" opacity="0.65"/><ellipse cx="145.7" cy="190.7" rx="0.42" ry="0.47" fill="#4a82a8" opacity="0.84"/><ellipse cx="145.5" cy="191.1" rx="0.54" ry="0.42" fill="#3a7098" opacity="0.59"/><ellipse cx="145.8" cy="190.1" rx="0.55" ry="0.53" fill="#3a7098" opacity="0.56"/><ellipse cx="70.0" cy="247.5" rx="0.44" ry="0.44" fill="#2f6288" opacity="0.86"/><ellipse cx="70.8" cy="248.1" rx="0.34" ry="0.40" fill="#5a8fb0" opacity="0.80"/><ellipse cx="70.8" cy="246.9" rx="0.42" ry="0.37" fill="#3a6890" opacity="0.59"/><ellipse cx="51.5" cy="247.1" rx="0.61" ry="0.68" fill="#3a7098" opacity="0.83"/></g>
</g>
<g clip-path="url(#cp3)">
<rect x="197" y="163" width="152" height="151" fill="#eabcd7"/>
<rect x="197" y="163" width="152" height="151" filter="url(#m3)" opacity="0.35"/>
<g filter="url(#org3)">
<ellipse cx="273" cy="178" rx="80" ry="22" transform="rotate(0 273 178)" fill="#f6e6ee" opacity="0.5" filter="url(#b8)"/>
<ellipse cx="225" cy="291" rx="30" ry="25" transform="rotate(0 225 291)" fill="#f6e6ee" opacity="0.3" filter="url(#b8)"/>
<ellipse cx="325" cy="281" rx="26" ry="32" transform="rotate(0 325 281)" fill="#f6e6ee" opacity="0.3" filter="url(#b8)"/>
</g>
<rect x="197" y="163" width="152" height="151" filter="url(#t3)"/>
<ellipse cx="247" cy="238" rx="45" ry="25" transform="rotate(10 247 238)" fill="#a8cadc" opacity="0.28" filter="url(#b8)"/>
<ellipse cx="287" cy="258" rx="12" ry="35" transform="rotate(0 287 258)" fill="#a8cadc" opacity="0.28" filter="url(#b8)"/>
<ellipse cx="329" cy="173" rx="10" ry="10" transform="rotate(0 329 173)" fill="#a8cadc" opacity="0.28" filter="url(#b8)"/>
<g filter="url(#bd)"><ellipse cx="259.8" cy="233.1" rx="0.45" ry="0.37" fill="#2f6288" opacity="0.56"/><ellipse cx="197.2" cy="233.3" rx="0.52" ry="0.85" fill="#2f6288" opacity="0.72"/><ellipse cx="196.6" cy="233.5" rx="0.72" ry="0.81" fill="#2f6288" opacity="0.65"/><ellipse cx="197.0" cy="234.2" rx="0.76" ry="0.79" fill="#5a8fb0" opacity="0.57"/><ellipse cx="283.4" cy="240.9" rx="0.68" ry="0.60" fill="#2f6288" opacity="0.76"/><ellipse cx="282.7" cy="241.5" rx="0.90" ry="0.80" fill="#4a82a8" opacity="0.64"/><ellipse cx="257.9" cy="215.0" rx="0.44" ry="0.56" fill="#5a8fb0" opacity="0.73"/><ellipse cx="241.9" cy="235.5" rx="0.52" ry="0.56" fill="#3a7098" opacity="0.61"/><ellipse cx="241.2" cy="234.6" rx="0.41" ry="0.55" fill="#4a82a8" opacity="0.78"/><ellipse cx="241.0" cy="234.7" rx="0.38" ry="0.40" fill="#3a6890" opacity="0.71"/><ellipse cx="211.5" cy="223.4" rx="0.59" ry="0.71" fill="#2f6288" opacity="0.75"/><ellipse cx="212.1" cy="223.4" rx="0.62" ry="0.63" fill="#2f6288" opacity="0.84"/><ellipse cx="249.8" cy="250.0" rx="0.37" ry="0.42" fill="#4a82a8" opacity="0.57"/><ellipse cx="249.0" cy="249.7" rx="0.48" ry="0.60" fill="#5a8fb0" opacity="0.71"/><ellipse cx="249.4" cy="249.9" rx="0.60" ry="0.50" fill="#2f6288" opacity="0.69"/><ellipse cx="278.1" cy="267.3" rx="0.41" ry="0.53" fill="#2b557c" opacity="0.76"/><ellipse cx="225.8" cy="233.7" rx="0.68" ry="0.69" fill="#4a82a8" opacity="0.71"/><ellipse cx="275.9" cy="279.6" rx="0.54" ry="0.51" fill="#2f6288" opacity="0.56"/><ellipse cx="297.2" cy="271.5" rx="0.35" ry="0.45" fill="#2b557c" opacity="0.72"/><ellipse cx="243.6" cy="260.2" rx="0.71" ry="0.78" fill="#4a82a8" opacity="0.90"/><ellipse cx="243.3" cy="260.0" rx="0.69" ry="0.75" fill="#2b557c" opacity="0.83"/><ellipse cx="243.9" cy="259.6" rx="0.56" ry="0.85" fill="#5a8fb0" opacity="0.69"/><ellipse cx="225.5" cy="218.4" rx="0.54" ry="0.69" fill="#2b557c" opacity="0.57"/><ellipse cx="224.6" cy="218.0" rx="0.59" ry="0.49" fill="#3a7098" opacity="0.89"/><ellipse cx="290.7" cy="262.5" rx="0.84" ry="0.86" fill="#2b557c" opacity="0.83"/><ellipse cx="290.2" cy="263.0" rx="0.93" ry="0.80" fill="#2f6288" opacity="0.74"/><ellipse cx="289.0" cy="222.6" rx="0.54" ry="0.63" fill="#2f6288" opacity="0.87"/><ellipse cx="288.2" cy="221.9" rx="0.57" ry="0.53" fill="#5a8fb0" opacity="0.62"/><ellipse cx="211.8" cy="250.6" rx="0.71" ry="0.67" fill="#2f6288" opacity="0.81"/><ellipse cx="212.2" cy="250.6" rx="0.70" ry="0.64" fill="#2b557c" opacity="0.65"/><ellipse cx="244.7" cy="222.7" rx="0.50" ry="0.44" fill="#4a82a8" opacity="0.66"/><ellipse cx="243.8" cy="223.2" rx="0.52" ry="0.49" fill="#3a6890" opacity="0.70"/><ellipse cx="276.1" cy="264.2" rx="0.65" ry="0.52" fill="#3a6890" opacity="0.56"/><ellipse cx="242.3" cy="219.7" rx="0.81" ry="0.94" fill="#5a8fb0" opacity="0.68"/><ellipse cx="202.5" cy="255.0" rx="0.56" ry="0.62" fill="#2f6288" opacity="0.70"/><ellipse cx="202.8" cy="254.4" rx="0.54" ry="0.66" fill="#5a8fb0" opacity="0.82"/><ellipse cx="209.5" cy="258.1" rx="0.63" ry="0.55" fill="#3a6890" opacity="0.83"/><ellipse cx="295.2" cy="279.6" rx="0.66" ry="0.68" fill="#2b557c" opacity="0.66"/><ellipse cx="294.6" cy="279.6" rx="0.95" ry="0.60" fill="#3a6890" opacity="0.76"/><ellipse cx="215.5" cy="218.3" rx="0.54" ry="0.41" fill="#2b557c" opacity="0.82"/><ellipse cx="216.4" cy="218.1" rx="0.37" ry="0.40" fill="#4a82a8" opacity="0.66"/><ellipse cx="287.3" cy="250.2" rx="0.67" ry="0.60" fill="#5a8fb0" opacity="0.64"/><ellipse cx="287.6" cy="251.1" rx="0.66" ry="0.91" fill="#3a6890" opacity="0.65"/><ellipse cx="287.0" cy="251.0" rx="0.66" ry="0.89" fill="#3a7098" opacity="0.73"/><ellipse cx="257.4" cy="238.7" rx="0.59" ry="0.49" fill="#2f6288" opacity="0.78"/><ellipse cx="258.2" cy="237.9" rx="0.37" ry="0.58" fill="#4a82a8" opacity="0.67"/><ellipse cx="206.2" cy="247.8" rx="0.48" ry="0.63" fill="#2b557c" opacity="0.65"/><ellipse cx="206.6" cy="247.2" rx="0.51" ry="0.59" fill="#5a8fb0" opacity="0.73"/><ellipse cx="206.3" cy="247.3" rx="0.66" ry="0.62" fill="#5a8fb0" opacity="0.79"/><ellipse cx="250.9" cy="236.6" rx="0.56" ry="0.66" fill="#2b557c" opacity="0.76"/><ellipse cx="250.3" cy="236.3" rx="0.61" ry="0.63" fill="#3a7098" opacity="0.90"/><ellipse cx="206.5" cy="214.0" rx="0.66" ry="0.53" fill="#2b557c" opacity="0.58"/><ellipse cx="206.2" cy="214.5" rx="0.75" ry="0.55" fill="#4a82a8" opacity="0.57"/><ellipse cx="209.8" cy="204.9" rx="0.78" ry="0.59" fill="#5a8fb0" opacity="0.75"/><ellipse cx="209.1" cy="204.2" rx="0.85" ry="0.66" fill="#5a8fb0" opacity="0.56"/><ellipse cx="210.5" cy="204.9" rx="0.84" ry="0.89" fill="#3a7098" opacity="0.68"/><ellipse cx="278.9" cy="229.6" rx="0.93" ry="0.70" fill="#2b557c" opacity="0.57"/><ellipse cx="234.9" cy="238.1" rx="0.53" ry="0.33" fill="#2b557c" opacity="0.88"/><ellipse cx="235.8" cy="237.9" rx="0.55" ry="0.54" fill="#5a8fb0" opacity="0.75"/><ellipse cx="234.4" cy="238.3" rx="0.41" ry="0.50" fill="#3a6890" opacity="0.61"/><ellipse cx="244.0" cy="232.8" rx="0.57" ry="0.62" fill="#3a6890" opacity="0.70"/><ellipse cx="251.6" cy="255.8" rx="0.95" ry="0.90" fill="#4a82a8" opacity="0.70"/><ellipse cx="251.8" cy="255.8" rx="0.99" ry="0.86" fill="#2b557c" opacity="0.56"/><ellipse cx="251.5" cy="255.4" rx="0.82" ry="0.99" fill="#3a7098" opacity="0.80"/><ellipse cx="227.8" cy="248.9" rx="0.70" ry="0.64" fill="#3a7098" opacity="0.62"/><ellipse cx="213.2" cy="219.4" rx="0.53" ry="0.57" fill="#4a82a8" opacity="0.81"/><ellipse cx="213.0" cy="218.8" rx="0.65" ry="0.57" fill="#3a7098" opacity="0.67"/><ellipse cx="231.6" cy="232.5" rx="0.74" ry="0.93" fill="#3a6890" opacity="0.57"/><ellipse cx="230.7" cy="232.4" rx="0.66" ry="0.85" fill="#2b557c" opacity="0.82"/><ellipse cx="230.7" cy="232.9" rx="0.88" ry="0.61" fill="#2b557c" opacity="0.82"/><ellipse cx="229.4" cy="249.7" rx="0.86" ry="0.74" fill="#3a6890" opacity="0.80"/><ellipse cx="269.6" cy="256.4" rx="0.90" ry="0.88" fill="#2b557c" opacity="0.63"/><ellipse cx="269.3" cy="256.2" rx="0.58" ry="0.59" fill="#2f6288" opacity="0.58"/><ellipse cx="270.2" cy="256.4" rx="0.73" ry="0.94" fill="#3a6890" opacity="0.74"/><ellipse cx="216.8" cy="217.0" rx="0.49" ry="0.54" fill="#3a7098" opacity="0.62"/><ellipse cx="280.6" cy="280.7" rx="0.64" ry="0.65" fill="#4a82a8" opacity="0.78"/><ellipse cx="288.0" cy="263.3" rx="0.85" ry="0.59" fill="#3a7098" opacity="0.56"/><ellipse cx="256.5" cy="232.4" rx="0.58" ry="0.72" fill="#5a8fb0" opacity="0.82"/><ellipse cx="261.7" cy="225.1" rx="0.73" ry="0.79" fill="#2b557c" opacity="0.79"/><ellipse cx="261.4" cy="224.7" rx="0.94" ry="0.76" fill="#5a8fb0" opacity="0.63"/><ellipse cx="262.2" cy="225.8" rx="0.58" ry="0.80" fill="#5a8fb0" opacity="0.62"/><ellipse cx="230.4" cy="209.7" rx="0.59" ry="0.84" fill="#2f6288" opacity="0.58"/><ellipse cx="260.9" cy="225.9" rx="0.37" ry="0.56" fill="#4a82a8" opacity="0.64"/><ellipse cx="260.3" cy="226.2" rx="0.50" ry="0.45" fill="#3a7098" opacity="0.60"/><ellipse cx="260.8" cy="226.0" rx="0.41" ry="0.56" fill="#5a8fb0" opacity="0.81"/><ellipse cx="240.9" cy="253.7" rx="0.56" ry="0.85" fill="#2b557c" opacity="0.60"/><ellipse cx="240.2" cy="252.9" rx="0.58" ry="0.85" fill="#3a7098" opacity="0.86"/><ellipse cx="217.6" cy="218.2" rx="0.55" ry="0.80" fill="#2b557c" opacity="0.78"/><ellipse cx="206.7" cy="209.3" rx="0.51" ry="0.39" fill="#4a82a8" opacity="0.78"/><ellipse cx="206.4" cy="208.7" rx="0.38" ry="0.41" fill="#2f6288" opacity="0.84"/><ellipse cx="209.8" cy="209.2" rx="0.76" ry="0.61" fill="#5a8fb0" opacity="0.89"/><ellipse cx="210.1" cy="208.3" rx="0.48" ry="0.78" fill="#3a7098" opacity="0.80"/><ellipse cx="250.4" cy="226.3" rx="0.51" ry="0.53" fill="#3a7098" opacity="0.60"/><ellipse cx="235.8" cy="240.2" rx="0.64" ry="0.77" fill="#3a7098" opacity="0.63"/><ellipse cx="208.0" cy="235.3" rx="0.61" ry="0.63" fill="#2f6288" opacity="0.80"/><ellipse cx="245.4" cy="210.4" rx="0.82" ry="0.57" fill="#2f6288" opacity="0.86"/><ellipse cx="244.5" cy="210.5" rx="0.69" ry="0.86" fill="#3a6890" opacity="0.75"/><ellipse cx="242.3" cy="218.8" rx="0.41" ry="0.67" fill="#5a8fb0" opacity="0.63"/><ellipse cx="243.1" cy="218.5" rx="0.45" ry="0.50" fill="#2b557c" opacity="0.57"/><ellipse cx="241.5" cy="218.5" rx="0.45" ry="0.62" fill="#2b557c" opacity="0.62"/><ellipse cx="218.2" cy="212.5" rx="0.57" ry="0.52" fill="#2f6288" opacity="0.63"/><ellipse cx="218.2" cy="212.4" rx="0.56" ry="0.36" fill="#5a8fb0" opacity="0.86"/><ellipse cx="205.1" cy="256.9" rx="0.54" ry="0.60" fill="#2b557c" opacity="0.56"/><ellipse cx="205.3" cy="257.2" rx="0.63" ry="0.54" fill="#2f6288" opacity="0.56"/><ellipse cx="212.3" cy="211.0" rx="0.95" ry="0.84" fill="#4a82a8" opacity="0.75"/><ellipse cx="211.8" cy="210.8" rx="0.86" ry="0.96" fill="#2f6288" opacity="0.65"/><ellipse cx="212.3" cy="210.7" rx="0.65" ry="0.83" fill="#3a6890" opacity="0.65"/><ellipse cx="205.8" cy="249.1" rx="0.63" ry="0.69" fill="#2f6288" opacity="0.59"/><ellipse cx="226.5" cy="237.7" rx="0.55" ry="0.51" fill="#5a8fb0" opacity="0.69"/><ellipse cx="217.7" cy="253.5" rx="0.58" ry="0.48" fill="#4a82a8" opacity="0.72"/><ellipse cx="296.2" cy="265.9" rx="0.77" ry="0.66" fill="#3a7098" opacity="0.66"/><ellipse cx="295.5" cy="265.9" rx="0.77" ry="0.81" fill="#2f6288" opacity="0.61"/><ellipse cx="295.9" cy="265.4" rx="0.90" ry="0.92" fill="#3a6890" opacity="0.86"/><ellipse cx="232.5" cy="220.8" rx="0.49" ry="0.52" fill="#2f6288" opacity="0.69"/><ellipse cx="231.8" cy="221.1" rx="0.49" ry="0.62" fill="#4a82a8" opacity="0.86"/><ellipse cx="248.8" cy="206.3" rx="0.37" ry="0.51" fill="#2b557c" opacity="0.88"/><ellipse cx="249.1" cy="205.5" rx="0.37" ry="0.39" fill="#3a6890" opacity="0.70"/><ellipse cx="293.3" cy="274.2" rx="0.53" ry="0.57" fill="#5a8fb0" opacity="0.68"/><ellipse cx="293.7" cy="273.9" rx="0.40" ry="0.58" fill="#2b557c" opacity="0.69"/><ellipse cx="238.9" cy="258.2" rx="0.50" ry="0.49" fill="#3a6890" opacity="0.87"/><ellipse cx="238.5" cy="258.0" rx="0.66" ry="0.51" fill="#5a8fb0" opacity="0.78"/><ellipse cx="285.5" cy="221.3" rx="0.59" ry="0.65" fill="#4a82a8" opacity="0.85"/><ellipse cx="284.6" cy="221.4" rx="0.96" ry="0.74" fill="#2f6288" opacity="0.57"/><ellipse cx="260.1" cy="222.0" rx="0.41" ry="0.58" fill="#3a7098" opacity="0.79"/><ellipse cx="259.3" cy="222.1" rx="0.50" ry="0.47" fill="#4a82a8" opacity="0.61"/><ellipse cx="259.4" cy="221.4" rx="0.35" ry="0.38" fill="#3a6890" opacity="0.66"/><ellipse cx="239.1" cy="261.8" rx="0.50" ry="0.41" fill="#3a7098" opacity="0.62"/><ellipse cx="239.0" cy="261.6" rx="0.36" ry="0.39" fill="#3a7098" opacity="0.83"/><ellipse cx="228.8" cy="245.4" rx="0.52" ry="0.43" fill="#3a7098" opacity="0.74"/><ellipse cx="229.3" cy="245.1" rx="0.57" ry="0.39" fill="#3a6890" opacity="0.74"/><ellipse cx="294.9" cy="286.9" rx="0.62" ry="0.80" fill="#5a8fb0" opacity="0.68"/><ellipse cx="279.0" cy="284.0" rx="0.43" ry="0.69" fill="#4a82a8" opacity="0.82"/><ellipse cx="278.8" cy="283.8" rx="0.58" ry="0.64" fill="#2f6288" opacity="0.59"/><ellipse cx="278.6" cy="283.5" rx="0.65" ry="0.47" fill="#5a8fb0" opacity="0.63"/><ellipse cx="225.2" cy="257.8" rx="0.91" ry="0.90" fill="#2f6288" opacity="0.77"/><ellipse cx="225.5" cy="257.2" rx="0.80" ry="0.61" fill="#3a6890" opacity="0.83"/><ellipse cx="225.3" cy="258.2" rx="0.75" ry="0.59" fill="#4a82a8" opacity="0.85"/><ellipse cx="265.2" cy="252.4" rx="0.42" ry="0.39" fill="#3a6890" opacity="0.87"/><ellipse cx="265.9" cy="251.6" rx="0.51" ry="0.51" fill="#3a7098" opacity="0.87"/><ellipse cx="246.7" cy="256.9" rx="0.46" ry="0.48" fill="#5a8fb0" opacity="0.65"/><ellipse cx="280.2" cy="242.2" rx="0.40" ry="0.45" fill="#2f6288" opacity="0.71"/><ellipse cx="269.2" cy="232.5" rx="0.61" ry="0.47" fill="#4a82a8" opacity="0.80"/><ellipse cx="268.8" cy="233.3" rx="0.54" ry="0.59" fill="#3a7098" opacity="0.79"/><ellipse cx="268.5" cy="232.3" rx="0.55" ry="0.62" fill="#4a82a8" opacity="0.78"/><ellipse cx="292.8" cy="259.8" rx="0.79" ry="0.71" fill="#3a7098" opacity="0.59"/><ellipse cx="288.9" cy="232.1" rx="0.85" ry="0.84" fill="#4a82a8" opacity="0.67"/><ellipse cx="290.1" cy="245.0" rx="0.56" ry="0.57" fill="#4a82a8" opacity="0.62"/><ellipse cx="297.9" cy="279.0" rx="0.49" ry="0.40" fill="#4a82a8" opacity="0.62"/><ellipse cx="209.3" cy="245.9" rx="0.64" ry="0.50" fill="#5a8fb0" opacity="0.56"/><ellipse cx="209.9" cy="246.5" rx="0.65" ry="0.52" fill="#3a6890" opacity="0.79"/><ellipse cx="210.0" cy="245.5" rx="0.74" ry="0.54" fill="#5a8fb0" opacity="0.68"/><ellipse cx="239.1" cy="222.9" rx="0.60" ry="0.65" fill="#2f6288" opacity="0.82"/><ellipse cx="239.0" cy="222.7" rx="0.64" ry="0.50" fill="#4a82a8" opacity="0.87"/><ellipse cx="228.3" cy="204.6" rx="0.72" ry="0.45" fill="#2b557c" opacity="0.67"/><ellipse cx="227.5" cy="204.8" rx="0.53" ry="0.72" fill="#5a8fb0" opacity="0.70"/><ellipse cx="289.9" cy="271.2" rx="0.55" ry="0.55" fill="#5a8fb0" opacity="0.74"/><ellipse cx="290.2" cy="271.8" rx="0.41" ry="0.54" fill="#2f6288" opacity="0.57"/><ellipse cx="290.0" cy="271.5" rx="0.42" ry="0.41" fill="#3a6890" opacity="0.65"/><ellipse cx="227.8" cy="228.5" rx="0.42" ry="0.39" fill="#3a6890" opacity="0.70"/><ellipse cx="228.3" cy="229.1" rx="0.39" ry="0.44" fill="#3a7098" opacity="0.79"/><ellipse cx="228.5" cy="229.4" rx="0.48" ry="0.50" fill="#2f6288" opacity="0.81"/><ellipse cx="284.9" cy="239.9" rx="0.54" ry="0.45" fill="#5a8fb0" opacity="0.68"/><ellipse cx="284.1" cy="240.6" rx="0.55" ry="0.57" fill="#2f6288" opacity="0.82"/><ellipse cx="212.1" cy="243.8" rx="0.46" ry="0.59" fill="#3a7098" opacity="0.60"/><ellipse cx="212.5" cy="244.6" rx="0.60" ry="0.56" fill="#3a7098" opacity="0.65"/><ellipse cx="262.8" cy="215.2" rx="0.65" ry="0.82" fill="#2b557c" opacity="0.67"/><ellipse cx="263.0" cy="214.8" rx="0.70" ry="0.51" fill="#3a7098" opacity="0.61"/><ellipse cx="263.6" cy="215.7" rx="0.52" ry="0.78" fill="#4a82a8" opacity="0.65"/><ellipse cx="280.7" cy="224.0" rx="0.54" ry="0.49" fill="#2b557c" opacity="0.89"/><ellipse cx="280.2" cy="223.9" rx="0.46" ry="0.62" fill="#5a8fb0" opacity="0.75"/><ellipse cx="280.3" cy="224.1" rx="0.56" ry="0.44" fill="#2f6288" opacity="0.82"/><ellipse cx="281.8" cy="240.6" rx="0.51" ry="0.49" fill="#4a82a8" opacity="0.70"/><ellipse cx="281.5" cy="241.1" rx="0.50" ry="0.50" fill="#5a8fb0" opacity="0.59"/><ellipse cx="239.0" cy="252.9" rx="0.52" ry="0.48" fill="#2b557c" opacity="0.62"/><ellipse cx="238.9" cy="252.2" rx="0.40" ry="0.35" fill="#4a82a8" opacity="0.63"/><ellipse cx="238.8" cy="252.8" rx="0.38" ry="0.44" fill="#3a7098" opacity="0.71"/><ellipse cx="235.6" cy="248.1" rx="0.74" ry="0.85" fill="#3a7098" opacity="0.76"/><ellipse cx="235.3" cy="248.4" rx="0.64" ry="0.70" fill="#2b557c" opacity="0.84"/><ellipse cx="295.9" cy="277.7" rx="0.65" ry="0.59" fill="#3a6890" opacity="0.89"/><ellipse cx="231.0" cy="206.3" rx="0.50" ry="0.70" fill="#4a82a8" opacity="0.65"/><ellipse cx="231.3" cy="206.2" rx="0.60" ry="0.57" fill="#5a8fb0" opacity="0.64"/><ellipse cx="255.4" cy="258.7" rx="0.58" ry="0.52" fill="#3a7098" opacity="0.73"/><ellipse cx="255.0" cy="259.2" rx="0.36" ry="0.37" fill="#3a7098" opacity="0.67"/><ellipse cx="256.0" cy="258.6" rx="0.42" ry="0.46" fill="#3a7098" opacity="0.79"/><ellipse cx="295.7" cy="268.9" rx="0.54" ry="0.67" fill="#3a7098" opacity="0.72"/><ellipse cx="296.5" cy="269.7" rx="0.55" ry="0.55" fill="#3a7098" opacity="0.73"/><ellipse cx="295.4" cy="268.1" rx="0.62" ry="0.48" fill="#3a7098" opacity="0.80"/><ellipse cx="279.6" cy="252.8" rx="0.74" ry="0.60" fill="#3a6890" opacity="0.73"/><ellipse cx="280.5" cy="252.0" rx="0.87" ry="0.94" fill="#2b557c" opacity="0.63"/><ellipse cx="280.1" cy="253.4" rx="0.64" ry="0.77" fill="#4a82a8" opacity="0.86"/><ellipse cx="244.4" cy="244.4" rx="0.54" ry="0.70" fill="#3a6890" opacity="0.78"/><ellipse cx="243.6" cy="243.5" rx="0.55" ry="0.57" fill="#3a6890" opacity="0.78"/><ellipse cx="244.3" cy="243.7" rx="0.68" ry="0.46" fill="#3a7098" opacity="0.66"/><ellipse cx="270.0" cy="218.7" rx="0.65" ry="0.96" fill="#3a7098" opacity="0.58"/><ellipse cx="242.9" cy="246.5" rx="0.49" ry="0.42" fill="#2f6288" opacity="0.70"/><ellipse cx="242.3" cy="245.7" rx="0.53" ry="0.58" fill="#3a7098" opacity="0.73"/><ellipse cx="242.6" cy="246.3" rx="0.38" ry="0.38" fill="#4a82a8" opacity="0.58"/><ellipse cx="209.9" cy="211.4" rx="0.49" ry="0.64" fill="#5a8fb0" opacity="0.90"/><ellipse cx="210.2" cy="211.3" rx="0.43" ry="0.51" fill="#3a7098" opacity="0.65"/><ellipse cx="209.5" cy="224.2" rx="0.81" ry="0.51" fill="#2b557c" opacity="0.89"/><ellipse cx="208.9" cy="223.7" rx="0.74" ry="0.79" fill="#3a7098" opacity="0.80"/><ellipse cx="209.1" cy="223.7" rx="0.69" ry="0.65" fill="#3a7098" opacity="0.80"/><ellipse cx="255.1" cy="241.1" rx="0.66" ry="0.57" fill="#3a7098" opacity="0.90"/><ellipse cx="254.5" cy="240.6" rx="0.53" ry="0.71" fill="#4a82a8" opacity="0.60"/><ellipse cx="261.9" cy="235.2" rx="0.64" ry="0.49" fill="#3a7098" opacity="0.81"/><ellipse cx="254.0" cy="236.3" rx="0.53" ry="0.67" fill="#2f6288" opacity="0.76"/><ellipse cx="253.2" cy="235.6" rx="0.56" ry="0.73" fill="#5a8fb0" opacity="0.88"/><ellipse cx="232.9" cy="230.2" rx="0.62" ry="0.54" fill="#3a6890" opacity="0.77"/><ellipse cx="233.2" cy="230.5" rx="0.65" ry="0.64" fill="#4a82a8" opacity="0.74"/><ellipse cx="200.1" cy="251.6" rx="0.53" ry="0.54" fill="#3a7098" opacity="0.69"/><ellipse cx="272.6" cy="255.9" rx="0.61" ry="0.60" fill="#2b557c" opacity="0.75"/><ellipse cx="215.7" cy="253.6" rx="0.68" ry="0.82" fill="#2b557c" opacity="0.70"/><ellipse cx="276.7" cy="246.7" rx="0.60" ry="0.83" fill="#3a7098" opacity="0.64"/><ellipse cx="276.7" cy="247.5" rx="0.77" ry="0.54" fill="#2f6288" opacity="0.65"/><ellipse cx="262.7" cy="225.3" rx="0.91" ry="0.91" fill="#4a82a8" opacity="0.82"/><ellipse cx="299.8" cy="261.9" rx="0.83" ry="0.98" fill="#4a82a8" opacity="0.88"/><ellipse cx="299.6" cy="262.3" rx="0.89" ry="0.78" fill="#2f6288" opacity="0.85"/><ellipse cx="217.0" cy="253.6" rx="0.97" ry="0.78" fill="#5a8fb0" opacity="0.64"/><ellipse cx="277.0" cy="218.3" rx="0.71" ry="0.56" fill="#4a82a8" opacity="0.62"/><ellipse cx="276.5" cy="217.7" rx="0.65" ry="0.61" fill="#4a82a8" opacity="0.72"/><ellipse cx="200.7" cy="212.5" rx="0.65" ry="0.59" fill="#5a8fb0" opacity="0.77"/><ellipse cx="200.0" cy="212.6" rx="0.55" ry="0.42" fill="#2b557c" opacity="0.62"/><ellipse cx="281.0" cy="273.4" rx="0.65" ry="0.58" fill="#3a7098" opacity="0.62"/><ellipse cx="281.5" cy="272.6" rx="0.70" ry="0.48" fill="#2b557c" opacity="0.69"/><ellipse cx="260.5" cy="222.6" rx="0.41" ry="0.62" fill="#2f6288" opacity="0.58"/><ellipse cx="259.8" cy="223.4" rx="0.53" ry="0.53" fill="#3a7098" opacity="0.75"/><ellipse cx="263.1" cy="239.5" rx="0.72" ry="0.63" fill="#4a82a8" opacity="0.56"/><ellipse cx="262.8" cy="239.9" rx="0.52" ry="0.65" fill="#2f6288" opacity="0.62"/><ellipse cx="229.2" cy="236.2" rx="0.61" ry="0.60" fill="#4a82a8" opacity="0.68"/><ellipse cx="228.9" cy="235.8" rx="0.56" ry="0.46" fill="#4a82a8" opacity="0.89"/><ellipse cx="291.1" cy="287.8" rx="0.36" ry="0.39" fill="#2f6288" opacity="0.76"/><ellipse cx="277.7" cy="234.2" rx="0.49" ry="0.63" fill="#5a8fb0" opacity="0.77"/><ellipse cx="237.9" cy="213.3" rx="0.70" ry="0.66" fill="#3a6890" opacity="0.86"/><ellipse cx="237.9" cy="214.0" rx="0.85" ry="0.84" fill="#2f6288" opacity="0.62"/><ellipse cx="237.4" cy="212.7" rx="0.94" ry="0.95" fill="#3a6890" opacity="0.60"/><ellipse cx="264.9" cy="265.5" rx="0.79" ry="0.55" fill="#2b557c" opacity="0.69"/><ellipse cx="225.4" cy="237.3" rx="0.48" ry="0.47" fill="#3a6890" opacity="0.66"/><ellipse cx="281.8" cy="247.2" rx="0.80" ry="0.71" fill="#4a82a8" opacity="0.83"/><ellipse cx="238.1" cy="252.6" rx="0.52" ry="0.61" fill="#2b557c" opacity="0.78"/><ellipse cx="239.0" cy="253.0" rx="0.42" ry="0.60" fill="#3a7098" opacity="0.89"/><ellipse cx="237.4" cy="253.5" rx="0.48" ry="0.42" fill="#3a7098" opacity="0.70"/><ellipse cx="280.3" cy="269.3" rx="0.80" ry="0.71" fill="#4a82a8" opacity="0.89"/><ellipse cx="281.0" cy="269.2" rx="0.83" ry="0.91" fill="#2f6288" opacity="0.57"/><ellipse cx="290.8" cy="245.4" rx="0.58" ry="0.59" fill="#4a82a8" opacity="0.58"/><ellipse cx="248.9" cy="221.1" rx="0.79" ry="0.80" fill="#3a6890" opacity="0.84"/><ellipse cx="258.7" cy="221.2" rx="0.64" ry="0.64" fill="#4a82a8" opacity="0.80"/><ellipse cx="258.4" cy="221.9" rx="0.66" ry="0.65" fill="#3a7098" opacity="0.65"/><ellipse cx="211.2" cy="201.2" rx="0.66" ry="0.52" fill="#4a82a8" opacity="0.84"/><ellipse cx="211.4" cy="200.4" rx="0.85" ry="0.82" fill="#3a7098" opacity="0.66"/><ellipse cx="276.6" cy="275.0" rx="0.60" ry="0.77" fill="#2b557c" opacity="0.62"/><ellipse cx="276.8" cy="275.8" rx="0.53" ry="0.57" fill="#3a6890" opacity="0.71"/><ellipse cx="276.6" cy="275.3" rx="0.64" ry="0.72" fill="#4a82a8" opacity="0.89"/><ellipse cx="281.4" cy="267.8" rx="0.43" ry="0.37" fill="#5a8fb0" opacity="0.79"/><ellipse cx="281.2" cy="267.4" rx="0.49" ry="0.37" fill="#2f6288" opacity="0.56"/><ellipse cx="282.2" cy="267.8" rx="0.50" ry="0.42" fill="#3a7098" opacity="0.57"/><ellipse cx="261.2" cy="241.2" rx="0.68" ry="0.59" fill="#2f6288" opacity="0.68"/><ellipse cx="264.1" cy="226.9" rx="0.66" ry="0.67" fill="#5a8fb0" opacity="0.76"/><ellipse cx="264.8" cy="226.0" rx="0.58" ry="0.97" fill="#2f6288" opacity="0.77"/><ellipse cx="238.8" cy="215.7" rx="0.57" ry="0.68" fill="#3a7098" opacity="0.56"/><ellipse cx="219.4" cy="202.9" rx="0.52" ry="0.67" fill="#2f6288" opacity="0.78"/><ellipse cx="219.9" cy="203.3" rx="0.61" ry="0.73" fill="#2f6288" opacity="0.81"/><ellipse cx="273.3" cy="248.3" rx="0.53" ry="0.82" fill="#3a6890" opacity="0.55"/><ellipse cx="272.9" cy="248.9" rx="0.50" ry="0.72" fill="#2f6288" opacity="0.68"/><ellipse cx="274.0" cy="248.5" rx="0.74" ry="0.52" fill="#5a8fb0" opacity="0.69"/><ellipse cx="275.2" cy="243.4" rx="0.83" ry="0.79" fill="#2b557c" opacity="0.67"/><ellipse cx="275.3" cy="243.5" rx="0.75" ry="0.76" fill="#3a6890" opacity="0.84"/><ellipse cx="264.1" cy="238.7" rx="0.72" ry="0.73" fill="#4a82a8" opacity="0.67"/><ellipse cx="255.2" cy="231.0" rx="0.53" ry="0.52" fill="#3a6890" opacity="0.59"/><ellipse cx="275.4" cy="243.2" rx="0.65" ry="0.85" fill="#3a7098" opacity="0.89"/><ellipse cx="274.6" cy="242.3" rx="0.83" ry="0.86" fill="#3a7098" opacity="0.70"/><ellipse cx="276.1" cy="243.1" rx="0.64" ry="0.67" fill="#2f6288" opacity="0.61"/><ellipse cx="284.7" cy="275.6" rx="0.60" ry="0.67" fill="#2b557c" opacity="0.73"/><ellipse cx="285.4" cy="275.3" rx="0.61" ry="0.92" fill="#5a8fb0" opacity="0.90"/><ellipse cx="284.8" cy="275.8" rx="0.59" ry="0.73" fill="#5a8fb0" opacity="0.76"/><ellipse cx="236.5" cy="212.3" rx="0.82" ry="0.60" fill="#3a7098" opacity="0.83"/><ellipse cx="268.5" cy="227.9" rx="0.73" ry="0.72" fill="#4a82a8" opacity="0.59"/><ellipse cx="245.1" cy="217.5" rx="0.39" ry="0.35" fill="#2f6288" opacity="0.62"/><ellipse cx="244.4" cy="217.2" rx="0.45" ry="0.44" fill="#2f6288" opacity="0.81"/><ellipse cx="288.0" cy="284.9" rx="0.66" ry="0.68" fill="#3a7098" opacity="0.81"/><ellipse cx="288.3" cy="284.6" rx="0.54" ry="0.69" fill="#4a82a8" opacity="0.87"/><ellipse cx="246.8" cy="206.5" rx="0.88" ry="0.87" fill="#2f6288" opacity="0.84"/><ellipse cx="247.4" cy="206.8" rx="0.87" ry="0.57" fill="#3a7098" opacity="0.90"/><ellipse cx="289.3" cy="284.5" rx="0.48" ry="0.47" fill="#4a82a8" opacity="0.66"/><ellipse cx="249.6" cy="213.7" rx="0.85" ry="0.82" fill="#4a82a8" opacity="0.89"/><ellipse cx="248.9" cy="213.0" rx="0.96" ry="0.62" fill="#2f6288" opacity="0.63"/><ellipse cx="218.4" cy="208.6" rx="0.58" ry="0.71" fill="#3a6890" opacity="0.81"/><ellipse cx="218.0" cy="208.4" rx="0.57" ry="0.82" fill="#3a7098" opacity="0.89"/><ellipse cx="206.2" cy="254.4" rx="0.62" ry="0.83" fill="#5a8fb0" opacity="0.79"/><ellipse cx="205.5" cy="254.4" rx="0.83" ry="0.55" fill="#2f6288" opacity="0.72"/><ellipse cx="274.9" cy="276.9" rx="0.61" ry="0.52" fill="#4a82a8" opacity="0.66"/><ellipse cx="258.9" cy="230.2" rx="0.60" ry="0.93" fill="#3a6890" opacity="0.58"/><ellipse cx="280.8" cy="256.5" rx="0.64" ry="0.52" fill="#4a82a8" opacity="0.75"/><ellipse cx="280.1" cy="257.0" rx="0.67" ry="0.52" fill="#3a6890" opacity="0.70"/><ellipse cx="281.7" cy="239.0" rx="0.56" ry="0.60" fill="#4a82a8" opacity="0.76"/><ellipse cx="282.0" cy="239.4" rx="0.72" ry="0.66" fill="#2b557c" opacity="0.88"/><ellipse cx="240.1" cy="254.4" rx="0.60" ry="0.37" fill="#5a8fb0" opacity="0.60"/><ellipse cx="240.6" cy="253.6" rx="0.42" ry="0.48" fill="#2f6288" opacity="0.60"/><ellipse cx="262.2" cy="211.7" rx="0.82" ry="0.74" fill="#2b557c" opacity="0.66"/><ellipse cx="290.0" cy="222.2" rx="0.46" ry="0.45" fill="#2f6288" opacity="0.77"/><ellipse cx="212.5" cy="245.3" rx="0.48" ry="0.55" fill="#3a7098" opacity="0.88"/><ellipse cx="231.1" cy="220.4" rx="0.52" ry="0.37" fill="#3a7098" opacity="0.74"/><ellipse cx="230.7" cy="219.7" rx="0.44" ry="0.38" fill="#3a7098" opacity="0.61"/><ellipse cx="234.5" cy="255.1" rx="0.40" ry="0.49" fill="#5a8fb0" opacity="0.55"/><ellipse cx="234.9" cy="255.8" rx="0.49" ry="0.53" fill="#2f6288" opacity="0.82"/><ellipse cx="270.8" cy="226.7" rx="0.49" ry="0.56" fill="#5a8fb0" opacity="0.57"/><ellipse cx="271.1" cy="227.0" rx="0.61" ry="0.70" fill="#3a7098" opacity="0.74"/><ellipse cx="270.5" cy="226.1" rx="0.73" ry="0.77" fill="#2b557c" opacity="0.85"/><ellipse cx="275.2" cy="231.5" rx="0.50" ry="0.45" fill="#2f6288" opacity="0.77"/><ellipse cx="275.9" cy="231.3" rx="0.40" ry="0.35" fill="#3a7098" opacity="0.84"/><ellipse cx="289.6" cy="260.4" rx="0.89" ry="0.61" fill="#4a82a8" opacity="0.60"/><ellipse cx="253.3" cy="215.4" rx="0.40" ry="0.54" fill="#2f6288" opacity="0.87"/><ellipse cx="253.7" cy="215.3" rx="0.54" ry="0.43" fill="#3a7098" opacity="0.82"/><ellipse cx="297.0" cy="282.8" rx="0.39" ry="0.53" fill="#3a6890" opacity="0.77"/><ellipse cx="296.5" cy="283.4" rx="0.42" ry="0.51" fill="#3a7098" opacity="0.67"/><ellipse cx="262.9" cy="254.4" rx="0.66" ry="0.69" fill="#5a8fb0" opacity="0.58"/><ellipse cx="263.4" cy="255.1" rx="0.54" ry="0.71" fill="#3a7098" opacity="0.89"/><ellipse cx="220.0" cy="209.4" rx="0.70" ry="0.62" fill="#2f6288" opacity="0.89"/><ellipse cx="220.3" cy="210.2" rx="0.64" ry="0.77" fill="#3a6890" opacity="0.86"/><ellipse cx="219.9" cy="208.7" rx="0.67" ry="0.54" fill="#2b557c" opacity="0.74"/><ellipse cx="200.3" cy="213.7" rx="0.54" ry="0.52" fill="#3a7098" opacity="0.72"/><ellipse cx="200.1" cy="213.9" rx="0.37" ry="0.48" fill="#3a6890" opacity="0.68"/><ellipse cx="257.2" cy="214.1" rx="0.64" ry="0.85" fill="#5a8fb0" opacity="0.88"/><ellipse cx="265.2" cy="254.7" rx="0.71" ry="0.65" fill="#4a82a8" opacity="0.66"/><ellipse cx="240.2" cy="252.8" rx="0.55" ry="0.40" fill="#3a7098" opacity="0.73"/><ellipse cx="240.2" cy="253.0" rx="0.59" ry="0.48" fill="#2f6288" opacity="0.83"/><ellipse cx="240.0" cy="253.3" rx="0.37" ry="0.59" fill="#3a7098" opacity="0.75"/><ellipse cx="267.2" cy="229.4" rx="0.53" ry="0.45" fill="#3a6890" opacity="0.70"/><ellipse cx="275.3" cy="257.4" rx="0.53" ry="0.42" fill="#5a8fb0" opacity="0.69"/><ellipse cx="258.0" cy="245.7" rx="0.65" ry="0.69" fill="#4a82a8" opacity="0.83"/><ellipse cx="257.4" cy="245.4" rx="0.50" ry="0.61" fill="#3a6890" opacity="0.70"/><ellipse cx="281.9" cy="268.6" rx="0.81" ry="0.75" fill="#3a6890" opacity="0.61"/><ellipse cx="282.3" cy="268.5" rx="0.81" ry="0.69" fill="#3a7098" opacity="0.59"/><ellipse cx="258.1" cy="250.3" rx="0.56" ry="0.63" fill="#2f6288" opacity="0.65"/><ellipse cx="258.4" cy="250.9" rx="0.51" ry="0.57" fill="#2f6288" opacity="0.76"/><ellipse cx="244.7" cy="262.0" rx="0.35" ry="0.57" fill="#3a6890" opacity="0.88"/><ellipse cx="286.9" cy="245.2" rx="0.63" ry="0.64" fill="#3a7098" opacity="0.55"/><ellipse cx="287.5" cy="245.7" rx="0.56" ry="0.53" fill="#2f6288" opacity="0.82"/><ellipse cx="208.0" cy="238.2" rx="0.99" ry="0.95" fill="#3a7098" opacity="0.80"/><ellipse cx="207.1" cy="238.6" rx="0.84" ry="0.88" fill="#5a8fb0" opacity="0.80"/><ellipse cx="271.5" cy="251.6" rx="0.44" ry="0.42" fill="#4a82a8" opacity="0.73"/><ellipse cx="271.1" cy="252.5" rx="0.54" ry="0.53" fill="#3a6890" opacity="0.80"/><ellipse cx="271.9" cy="252.5" rx="0.37" ry="0.50" fill="#3a6890" opacity="0.82"/><ellipse cx="214.9" cy="203.9" rx="0.42" ry="0.45" fill="#3a6890" opacity="0.88"/><ellipse cx="259.0" cy="212.7" rx="0.52" ry="0.86" fill="#4a82a8" opacity="0.80"/><ellipse cx="288.5" cy="215.3" rx="0.58" ry="0.58" fill="#2f6288" opacity="0.71"/><ellipse cx="287.9" cy="216.1" rx="0.57" ry="0.48" fill="#3a6890" opacity="0.79"/><ellipse cx="278.8" cy="242.8" rx="0.39" ry="0.55" fill="#4a82a8" opacity="0.81"/><ellipse cx="279.3" cy="242.8" rx="0.41" ry="0.53" fill="#2b557c" opacity="0.74"/><ellipse cx="266.8" cy="264.6" rx="0.64" ry="0.88" fill="#2f6288" opacity="0.65"/><ellipse cx="254.2" cy="255.3" rx="0.56" ry="0.50" fill="#4a82a8" opacity="0.77"/><ellipse cx="254.8" cy="255.8" rx="0.65" ry="0.72" fill="#5a8fb0" opacity="0.56"/><ellipse cx="298.2" cy="237.8" rx="0.57" ry="0.46" fill="#2b557c" opacity="0.85"/><ellipse cx="255.6" cy="240.2" rx="0.81" ry="0.74" fill="#2f6288" opacity="0.89"/><ellipse cx="256.3" cy="239.4" rx="0.87" ry="0.81" fill="#5a8fb0" opacity="0.72"/><ellipse cx="223.3" cy="243.7" rx="0.59" ry="0.51" fill="#5a8fb0" opacity="0.57"/><ellipse cx="211.7" cy="221.6" rx="0.54" ry="0.54" fill="#4a82a8" opacity="0.79"/><ellipse cx="212.3" cy="222.3" rx="0.56" ry="0.69" fill="#4a82a8" opacity="0.60"/><ellipse cx="267.6" cy="249.5" rx="0.55" ry="0.91" fill="#4a82a8" opacity="0.89"/><ellipse cx="268.3" cy="250.1" rx="0.62" ry="0.58" fill="#2f6288" opacity="0.80"/><ellipse cx="285.1" cy="274.8" rx="0.48" ry="0.69" fill="#5a8fb0" opacity="0.86"/><ellipse cx="285.1" cy="275.1" rx="0.62" ry="0.77" fill="#4a82a8" opacity="0.81"/><ellipse cx="290.4" cy="223.6" rx="0.73" ry="0.77" fill="#3a6890" opacity="0.73"/><ellipse cx="292.5" cy="267.4" rx="0.49" ry="0.59" fill="#2f6288" opacity="0.76"/><ellipse cx="292.6" cy="266.9" rx="0.48" ry="0.44" fill="#3a6890" opacity="0.79"/><ellipse cx="223.3" cy="218.5" rx="0.52" ry="0.80" fill="#5a8fb0" opacity="0.78"/><ellipse cx="223.0" cy="219.3" rx="0.50" ry="0.67" fill="#5a8fb0" opacity="0.87"/><ellipse cx="223.9" cy="218.7" rx="0.60" ry="0.51" fill="#3a7098" opacity="0.83"/><ellipse cx="220.3" cy="256.3" rx="0.71" ry="0.82" fill="#5a8fb0" opacity="0.56"/><ellipse cx="219.6" cy="255.4" rx="0.51" ry="0.64" fill="#2b557c" opacity="0.82"/><ellipse cx="220.5" cy="256.6" rx="0.82" ry="0.81" fill="#3a7098" opacity="0.73"/><ellipse cx="274.6" cy="228.5" rx="0.47" ry="0.46" fill="#4a82a8" opacity="0.66"/><ellipse cx="234.0" cy="232.4" rx="0.66" ry="0.79" fill="#2b557c" opacity="0.74"/><ellipse cx="282.7" cy="249.9" rx="0.75" ry="0.80" fill="#4a82a8" opacity="0.56"/><ellipse cx="282.0" cy="250.8" rx="0.54" ry="0.87" fill="#3a6890" opacity="0.68"/><ellipse cx="283.4" cy="249.4" rx="0.86" ry="0.58" fill="#3a6890" opacity="0.57"/><ellipse cx="265.7" cy="272.0" rx="0.66" ry="0.65" fill="#3a7098" opacity="0.88"/><ellipse cx="276.9" cy="225.3" rx="0.49" ry="0.40" fill="#2f6288" opacity="0.67"/><ellipse cx="286.7" cy="288.3" rx="0.53" ry="0.57" fill="#5a8fb0" opacity="0.78"/><ellipse cx="286.4" cy="288.7" rx="0.80" ry="0.58" fill="#2f6288" opacity="0.61"/><ellipse cx="257.7" cy="253.1" rx="0.58" ry="0.59" fill="#2f6288" opacity="0.66"/><ellipse cx="257.5" cy="252.2" rx="0.50" ry="0.58" fill="#3a6890" opacity="0.89"/><ellipse cx="257.8" cy="252.4" rx="0.48" ry="0.50" fill="#2f6288" opacity="0.82"/><ellipse cx="251.0" cy="212.5" rx="0.59" ry="0.38" fill="#5a8fb0" opacity="0.57"/><ellipse cx="250.6" cy="212.7" rx="0.52" ry="0.45" fill="#3a6890" opacity="0.57"/><ellipse cx="263.9" cy="258.9" rx="0.90" ry="0.90" fill="#4a82a8" opacity="0.55"/><ellipse cx="263.2" cy="259.6" rx="0.57" ry="0.88" fill="#2b557c" opacity="0.69"/><ellipse cx="243.9" cy="229.3" rx="0.64" ry="0.77" fill="#5a8fb0" opacity="0.83"/><ellipse cx="243.4" cy="228.8" rx="0.78" ry="0.73" fill="#3a6890" opacity="0.87"/><ellipse cx="215.8" cy="211.8" rx="0.38" ry="0.45" fill="#2b557c" opacity="0.72"/><ellipse cx="216.3" cy="212.6" rx="0.58" ry="0.54" fill="#2b557c" opacity="0.72"/><ellipse cx="215.8" cy="212.2" rx="0.55" ry="0.56" fill="#3a7098" opacity="0.71"/><ellipse cx="197.4" cy="223.0" rx="0.40" ry="0.39" fill="#4a82a8" opacity="0.56"/><ellipse cx="198.3" cy="223.7" rx="0.57" ry="0.53" fill="#3a6890" opacity="0.83"/><ellipse cx="197.9" cy="222.9" rx="0.44" ry="0.39" fill="#4a82a8" opacity="0.77"/><ellipse cx="232.1" cy="203.0" rx="0.73" ry="0.74" fill="#2f6288" opacity="0.57"/><ellipse cx="204.1" cy="243.1" rx="0.41" ry="0.54" fill="#3a7098" opacity="0.78"/><ellipse cx="204.1" cy="243.2" rx="0.47" ry="0.57" fill="#2b557c" opacity="0.86"/><ellipse cx="203.6" cy="243.5" rx="0.42" ry="0.39" fill="#4a82a8" opacity="0.64"/><ellipse cx="256.7" cy="264.2" rx="0.46" ry="0.56" fill="#2b557c" opacity="0.57"/><ellipse cx="255.9" cy="263.8" rx="0.52" ry="0.50" fill="#5a8fb0" opacity="0.71"/><ellipse cx="251.4" cy="237.2" rx="0.64" ry="0.50" fill="#3a7098" opacity="0.87"/><ellipse cx="252.2" cy="236.5" rx="0.50" ry="0.63" fill="#3a7098" opacity="0.70"/><ellipse cx="250.9" cy="236.6" rx="0.47" ry="0.63" fill="#4a82a8" opacity="0.59"/><ellipse cx="247.7" cy="251.3" rx="0.67" ry="0.58" fill="#3a6890" opacity="0.88"/><ellipse cx="209.8" cy="210.4" rx="0.88" ry="0.86" fill="#4a82a8" opacity="0.87"/><ellipse cx="209.1" cy="209.7" rx="0.76" ry="0.79" fill="#3a7098" opacity="0.77"/><ellipse cx="280.9" cy="244.7" rx="0.98" ry="0.71" fill="#4a82a8" opacity="0.88"/><ellipse cx="280.6" cy="245.3" rx="0.69" ry="0.93" fill="#3a6890" opacity="0.79"/><ellipse cx="280.3" cy="244.8" rx="0.71" ry="0.59" fill="#3a7098" opacity="0.81"/><ellipse cx="254.1" cy="238.7" rx="0.67" ry="0.91" fill="#3a6890" opacity="0.57"/><ellipse cx="254.4" cy="238.2" rx="0.70" ry="0.66" fill="#2f6288" opacity="0.74"/><ellipse cx="198.4" cy="229.8" rx="0.54" ry="0.60" fill="#2b557c" opacity="0.62"/><ellipse cx="248.0" cy="263.1" rx="0.80" ry="0.72" fill="#5a8fb0" opacity="0.72"/><ellipse cx="280.0" cy="241.2" rx="0.58" ry="0.40" fill="#3a6890" opacity="0.75"/><ellipse cx="279.2" cy="242.1" rx="0.53" ry="0.47" fill="#2b557c" opacity="0.75"/><ellipse cx="298.3" cy="261.2" rx="0.56" ry="0.46" fill="#2f6288" opacity="0.60"/><ellipse cx="298.3" cy="261.6" rx="0.43" ry="0.57" fill="#3a7098" opacity="0.83"/><ellipse cx="237.1" cy="258.6" rx="0.58" ry="0.41" fill="#3a7098" opacity="0.78"/><ellipse cx="236.9" cy="258.6" rx="0.45" ry="0.51" fill="#5a8fb0" opacity="0.84"/><ellipse cx="236.7" cy="258.1" rx="0.36" ry="0.38" fill="#3a6890" opacity="0.76"/><ellipse cx="254.8" cy="218.4" rx="0.46" ry="0.54" fill="#4a82a8" opacity="0.77"/><ellipse cx="201.7" cy="221.7" rx="0.60" ry="0.75" fill="#3a6890" opacity="0.85"/><ellipse cx="219.8" cy="208.4" rx="0.60" ry="0.56" fill="#5a8fb0" opacity="0.81"/><ellipse cx="259.6" cy="258.2" rx="0.58" ry="0.55" fill="#2f6288" opacity="0.80"/><ellipse cx="272.7" cy="239.0" rx="0.73" ry="0.62" fill="#4a82a8" opacity="0.63"/><ellipse cx="282.9" cy="247.7" rx="0.65" ry="0.75" fill="#5a8fb0" opacity="0.62"/><ellipse cx="282.3" cy="248.6" rx="0.51" ry="0.67" fill="#5a8fb0" opacity="0.55"/><ellipse cx="296.0" cy="296.0" rx="0.85" ry="0.85" fill="#5a8fb0" opacity="0.61"/><ellipse cx="283.4" cy="282.6" rx="0.58" ry="0.67" fill="#5a8fb0" opacity="0.67"/><ellipse cx="285.8" cy="252.9" rx="0.62" ry="0.69" fill="#2b557c" opacity="0.82"/><ellipse cx="285.7" cy="252.2" rx="0.53" ry="0.65" fill="#3a6890" opacity="0.63"/><ellipse cx="279.1" cy="271.1" rx="0.42" ry="0.54" fill="#3a7098" opacity="0.74"/><ellipse cx="279.6" cy="297.5" rx="0.71" ry="0.64" fill="#3a6890" opacity="0.70"/><ellipse cx="280.3" cy="297.5" rx="0.48" ry="0.57" fill="#4a82a8" opacity="0.69"/><ellipse cx="279.3" cy="296.7" rx="0.86" ry="0.78" fill="#5a8fb0" opacity="0.70"/><ellipse cx="275.5" cy="251.8" rx="0.59" ry="0.43" fill="#3a6890" opacity="0.86"/><ellipse cx="275.8" cy="251.2" rx="0.48" ry="0.68" fill="#2f6288" opacity="0.63"/><ellipse cx="287.4" cy="295.7" rx="0.51" ry="0.46" fill="#4a82a8" opacity="0.78"/><ellipse cx="286.9" cy="296.4" rx="0.53" ry="0.46" fill="#3a6890" opacity="0.77"/><ellipse cx="288.3" cy="295.9" rx="0.41" ry="0.57" fill="#2f6288" opacity="0.85"/><ellipse cx="295.0" cy="240.0" rx="0.74" ry="0.57" fill="#2f6288" opacity="0.59"/><ellipse cx="295.4" cy="240.4" rx="0.77" ry="0.85" fill="#2b557c" opacity="0.89"/><ellipse cx="294.9" cy="239.7" rx="0.66" ry="0.70" fill="#2f6288" opacity="0.83"/><ellipse cx="289.5" cy="287.6" rx="0.39" ry="0.63" fill="#3a7098" opacity="0.58"/><ellipse cx="290.3" cy="287.7" rx="0.62" ry="0.63" fill="#2b557c" opacity="0.67"/><ellipse cx="289.1" cy="287.4" rx="0.57" ry="0.54" fill="#2f6288" opacity="0.57"/><ellipse cx="277.5" cy="284.1" rx="0.86" ry="0.85" fill="#3a6890" opacity="0.64"/><ellipse cx="278.2" cy="284.1" rx="0.81" ry="0.67" fill="#2f6288" opacity="0.66"/><ellipse cx="278.3" cy="283.4" rx="0.67" ry="0.66" fill="#2b557c" opacity="0.62"/><ellipse cx="294.1" cy="296.9" rx="0.59" ry="0.57" fill="#3a7098" opacity="0.87"/><ellipse cx="278.7" cy="277.2" rx="0.52" ry="0.61" fill="#5a8fb0" opacity="0.84"/><ellipse cx="284.9" cy="296.1" rx="0.71" ry="0.66" fill="#2f6288" opacity="0.64"/><ellipse cx="285.0" cy="296.1" rx="0.70" ry="0.87" fill="#2f6288" opacity="0.72"/><ellipse cx="285.3" cy="295.8" rx="0.72" ry="0.86" fill="#3a7098" opacity="0.77"/><ellipse cx="293.0" cy="214.5" rx="0.42" ry="0.56" fill="#2f6288" opacity="0.65"/><ellipse cx="293.7" cy="214.4" rx="0.42" ry="0.39" fill="#5a8fb0" opacity="0.74"/><ellipse cx="292.5" cy="214.0" rx="0.38" ry="0.37" fill="#3a6890" opacity="0.66"/><ellipse cx="297.5" cy="284.7" rx="0.71" ry="0.62" fill="#2f6288" opacity="0.67"/><ellipse cx="297.1" cy="284.8" rx="0.77" ry="0.71" fill="#3a7098" opacity="0.86"/><ellipse cx="280.4" cy="296.9" rx="0.62" ry="0.43" fill="#3a7098" opacity="0.84"/><ellipse cx="277.2" cy="294.8" rx="0.62" ry="0.70" fill="#3a6890" opacity="0.60"/><ellipse cx="276.8" cy="294.5" rx="0.87" ry="0.72" fill="#3a6890" opacity="0.55"/><ellipse cx="288.5" cy="215.1" rx="0.51" ry="0.44" fill="#3a6890" opacity="0.68"/><ellipse cx="289.2" cy="214.8" rx="0.43" ry="0.42" fill="#2f6288" opacity="0.65"/><ellipse cx="294.1" cy="240.5" rx="0.69" ry="0.90" fill="#2f6288" opacity="0.85"/><ellipse cx="274.9" cy="227.4" rx="0.48" ry="0.36" fill="#2b557c" opacity="0.58"/><ellipse cx="275.1" cy="227.0" rx="0.38" ry="0.48" fill="#2b557c" opacity="0.69"/><ellipse cx="275.3" cy="252.3" rx="0.58" ry="0.82" fill="#2b557c" opacity="0.67"/><ellipse cx="275.7" cy="253.0" rx="0.62" ry="0.69" fill="#2b557c" opacity="0.56"/><ellipse cx="280.5" cy="292.9" rx="0.39" ry="0.58" fill="#2b557c" opacity="0.73"/><ellipse cx="279.8" cy="292.5" rx="0.47" ry="0.50" fill="#2f6288" opacity="0.68"/><ellipse cx="280.8" cy="293.0" rx="0.38" ry="0.38" fill="#5a8fb0" opacity="0.71"/><ellipse cx="283.0" cy="222.3" rx="0.67" ry="0.95" fill="#5a8fb0" opacity="0.68"/><ellipse cx="275.8" cy="296.3" rx="0.57" ry="0.50" fill="#3a6890" opacity="0.86"/><ellipse cx="292.5" cy="262.5" rx="0.39" ry="0.43" fill="#3a7098" opacity="0.71"/><ellipse cx="293.3" cy="261.7" rx="0.52" ry="0.60" fill="#3a7098" opacity="0.77"/><ellipse cx="287.9" cy="237.4" rx="0.81" ry="0.88" fill="#2f6288" opacity="0.68"/><ellipse cx="287.1" cy="236.8" rx="0.64" ry="0.73" fill="#3a7098" opacity="0.55"/><ellipse cx="296.5" cy="239.9" rx="0.55" ry="0.56" fill="#2b557c" opacity="0.68"/><ellipse cx="276.8" cy="263.3" rx="0.79" ry="0.60" fill="#5a8fb0" opacity="0.59"/><ellipse cx="295.5" cy="297.3" rx="0.46" ry="0.35" fill="#5a8fb0" opacity="0.67"/><ellipse cx="295.4" cy="298.0" rx="0.47" ry="0.57" fill="#4a82a8" opacity="0.66"/><ellipse cx="282.9" cy="233.8" rx="0.47" ry="0.50" fill="#4a82a8" opacity="0.80"/><ellipse cx="283.5" cy="234.5" rx="0.48" ry="0.41" fill="#4a82a8" opacity="0.70"/><ellipse cx="283.7" cy="233.9" rx="0.42" ry="0.53" fill="#3a7098" opacity="0.57"/><ellipse cx="285.0" cy="222.3" rx="0.60" ry="0.43" fill="#3a7098" opacity="0.72"/><ellipse cx="284.8" cy="222.5" rx="0.61" ry="0.69" fill="#2b557c" opacity="0.59"/><ellipse cx="285.9" cy="222.2" rx="0.48" ry="0.68" fill="#4a82a8" opacity="0.90"/><ellipse cx="288.6" cy="232.1" rx="0.64" ry="0.69" fill="#3a6890" opacity="0.66"/><ellipse cx="289.1" cy="231.3" rx="0.71" ry="0.66" fill="#2f6288" opacity="0.69"/><ellipse cx="287.7" cy="231.3" rx="0.53" ry="0.78" fill="#2f6288" opacity="0.66"/><ellipse cx="280.7" cy="281.6" rx="0.57" ry="0.80" fill="#2f6288" opacity="0.70"/><ellipse cx="297.6" cy="267.0" rx="0.60" ry="0.90" fill="#2b557c" opacity="0.70"/><ellipse cx="297.9" cy="267.2" rx="0.59" ry="0.80" fill="#3a7098" opacity="0.87"/><ellipse cx="298.4" cy="266.3" rx="0.62" ry="0.55" fill="#3a7098" opacity="0.88"/><ellipse cx="280.3" cy="295.4" rx="0.87" ry="0.86" fill="#2f6288" opacity="0.67"/><ellipse cx="288.5" cy="261.1" rx="0.47" ry="0.57" fill="#3a6890" opacity="0.69"/><ellipse cx="283.5" cy="284.9" rx="0.81" ry="0.58" fill="#4a82a8" opacity="0.74"/><ellipse cx="283.7" cy="284.3" rx="0.80" ry="0.80" fill="#3a7098" opacity="0.73"/><ellipse cx="281.4" cy="227.0" rx="0.56" ry="0.48" fill="#2b557c" opacity="0.72"/><ellipse cx="282.3" cy="240.6" rx="0.47" ry="0.41" fill="#3a7098" opacity="0.70"/><ellipse cx="283.1" cy="239.8" rx="0.36" ry="0.36" fill="#3a7098" opacity="0.62"/><ellipse cx="277.3" cy="224.1" rx="0.38" ry="0.38" fill="#3a6890" opacity="0.72"/><ellipse cx="291.1" cy="234.1" rx="0.40" ry="0.34" fill="#4a82a8" opacity="0.75"/><ellipse cx="295.5" cy="269.6" rx="0.83" ry="0.66" fill="#3a6890" opacity="0.77"/><ellipse cx="294.8" cy="271.2" rx="0.63" ry="0.77" fill="#3a7098" opacity="0.66"/><ellipse cx="294.8" cy="260.8" rx="0.77" ry="0.71" fill="#4a82a8" opacity="0.85"/><ellipse cx="295.0" cy="260.8" rx="0.69" ry="0.77" fill="#3a6890" opacity="0.74"/><ellipse cx="294.9" cy="261.4" rx="0.63" ry="0.91" fill="#3a6890" opacity="0.67"/><ellipse cx="296.6" cy="257.4" rx="0.91" ry="0.92" fill="#2b557c" opacity="0.59"/><ellipse cx="296.5" cy="257.3" rx="0.79" ry="0.74" fill="#2f6288" opacity="0.80"/><ellipse cx="293.1" cy="247.5" rx="0.61" ry="0.68" fill="#2f6288" opacity="0.78"/><ellipse cx="281.9" cy="268.5" rx="0.66" ry="0.93" fill="#5a8fb0" opacity="0.77"/><ellipse cx="285.5" cy="243.7" rx="0.72" ry="0.77" fill="#3a6890" opacity="0.82"/><ellipse cx="286.2" cy="243.6" rx="0.77" ry="0.70" fill="#5a8fb0" opacity="0.78"/><ellipse cx="285.2" cy="243.4" rx="0.82" ry="0.68" fill="#5a8fb0" opacity="0.69"/><ellipse cx="293.5" cy="247.3" rx="0.45" ry="0.51" fill="#2b557c" opacity="0.77"/><ellipse cx="293.3" cy="246.9" rx="0.41" ry="0.57" fill="#5a8fb0" opacity="0.68"/><ellipse cx="297.5" cy="257.7" rx="0.48" ry="0.66" fill="#2f6288" opacity="0.73"/><ellipse cx="283.8" cy="296.0" rx="0.75" ry="0.81" fill="#2b557c" opacity="0.70"/><ellipse cx="283.1" cy="296.1" rx="0.87" ry="0.78" fill="#3a7098" opacity="0.79"/><ellipse cx="286.9" cy="246.8" rx="0.81" ry="0.61" fill="#2f6288" opacity="0.85"/><ellipse cx="288.9" cy="256.8" rx="0.58" ry="0.52" fill="#4a82a8" opacity="0.85"/><ellipse cx="273.9" cy="233.4" rx="0.52" ry="0.39" fill="#3a7098" opacity="0.65"/><ellipse cx="273.9" cy="234.0" rx="0.43" ry="0.55" fill="#5a8fb0" opacity="0.84"/><ellipse cx="280.6" cy="266.3" rx="0.86" ry="0.96" fill="#2b557c" opacity="0.62"/><ellipse cx="284.9" cy="249.1" rx="0.43" ry="0.46" fill="#5a8fb0" opacity="0.79"/><ellipse cx="284.3" cy="248.6" rx="0.54" ry="0.61" fill="#4a82a8" opacity="0.72"/><ellipse cx="284.8" cy="248.6" rx="0.51" ry="0.39" fill="#4a82a8" opacity="0.69"/><ellipse cx="281.9" cy="281.4" rx="0.42" ry="0.40" fill="#3a7098" opacity="0.66"/><ellipse cx="282.3" cy="229.3" rx="0.63" ry="0.58" fill="#2f6288" opacity="0.87"/><ellipse cx="281.9" cy="228.5" rx="0.82" ry="0.94" fill="#4a82a8" opacity="0.84"/><ellipse cx="282.1" cy="229.3" rx="0.59" ry="0.66" fill="#2f6288" opacity="0.79"/><ellipse cx="278.3" cy="281.6" rx="0.82" ry="0.74" fill="#4a82a8" opacity="0.80"/><ellipse cx="278.7" cy="282.2" rx="0.54" ry="0.85" fill="#2f6288" opacity="0.69"/><ellipse cx="281.2" cy="242.2" rx="0.90" ry="0.77" fill="#4a82a8" opacity="0.83"/><ellipse cx="281.1" cy="241.6" rx="0.84" ry="0.80" fill="#4a82a8" opacity="0.66"/><ellipse cx="280.8" cy="241.8" rx="0.87" ry="0.82" fill="#3a6890" opacity="0.89"/><ellipse cx="338.3" cy="175.2" rx="0.49" ry="0.35" fill="#3a6890" opacity="0.61"/><ellipse cx="330.1" cy="174.1" rx="0.50" ry="0.50" fill="#3a7098" opacity="0.76"/><ellipse cx="329.5" cy="174.9" rx="0.62" ry="0.57" fill="#2b557c" opacity="0.86"/><ellipse cx="322.8" cy="166.6" rx="0.68" ry="0.52" fill="#3a7098" opacity="0.60"/><ellipse cx="322.4" cy="167.3" rx="0.52" ry="0.69" fill="#2b557c" opacity="0.80"/><ellipse cx="327.0" cy="174.6" rx="0.92" ry="0.63" fill="#5a8fb0" opacity="0.69"/><ellipse cx="327.2" cy="173.7" rx="0.70" ry="0.59" fill="#3a6890" opacity="0.63"/><ellipse cx="327.4" cy="174.3" rx="0.84" ry="0.74" fill="#3a7098" opacity="0.71"/><ellipse cx="334.5" cy="171.8" rx="0.63" ry="0.67" fill="#4a82a8" opacity="0.66"/><ellipse cx="334.2" cy="172.4" rx="0.67" ry="0.68" fill="#2b557c" opacity="0.56"/><ellipse cx="334.5" cy="172.1" rx="0.49" ry="0.64" fill="#4a82a8" opacity="0.74"/><ellipse cx="338.4" cy="167.9" rx="0.50" ry="0.48" fill="#4a82a8" opacity="0.65"/><ellipse cx="337.6" cy="168.3" rx="0.60" ry="0.52" fill="#3a6890" opacity="0.78"/><ellipse cx="338.8" cy="168.7" rx="0.66" ry="0.73" fill="#2f6288" opacity="0.62"/><ellipse cx="332.1" cy="166.5" rx="0.59" ry="0.92" fill="#3a7098" opacity="0.58"/><ellipse cx="332.4" cy="166.0" rx="0.95" ry="0.87" fill="#4a82a8" opacity="0.62"/><ellipse cx="332.0" cy="166.0" rx="0.73" ry="0.73" fill="#2f6288" opacity="0.72"/><ellipse cx="323.4" cy="168.2" rx="0.74" ry="0.64" fill="#3a7098" opacity="0.84"/><ellipse cx="338.6" cy="177.5" rx="0.86" ry="0.93" fill="#2f6288" opacity="0.72"/><ellipse cx="339.0" cy="178.0" rx="0.68" ry="0.97" fill="#2f6288" opacity="0.69"/><ellipse cx="330.1" cy="180.7" rx="0.57" ry="0.58" fill="#4a82a8" opacity="0.59"/><ellipse cx="329.4" cy="181.2" rx="0.78" ry="0.82" fill="#3a6890" opacity="0.86"/><ellipse cx="338.0" cy="172.4" rx="0.81" ry="0.66" fill="#5a8fb0" opacity="0.70"/><ellipse cx="336.2" cy="170.9" rx="0.75" ry="0.72" fill="#5a8fb0" opacity="0.86"/><ellipse cx="333.1" cy="180.1" rx="0.62" ry="0.63" fill="#3a6890" opacity="0.82"/><ellipse cx="326.6" cy="177.2" rx="0.80" ry="0.85" fill="#4a82a8" opacity="0.77"/><ellipse cx="327.1" cy="176.3" rx="0.70" ry="0.67" fill="#3a7098" opacity="0.83"/><ellipse cx="311.2" cy="313.8" rx="0.67" ry="0.99" fill="#4a82a8" opacity="0.78"/><ellipse cx="346.5" cy="283.6" rx="0.52" ry="0.70" fill="#3a7098" opacity="0.61"/><ellipse cx="345.8" cy="284.3" rx="0.82" ry="0.70" fill="#5a8fb0" opacity="0.67"/><ellipse cx="326.3" cy="289.3" rx="0.72" ry="0.63" fill="#2f6288" opacity="0.82"/><ellipse cx="321.3" cy="305.4" rx="0.65" ry="0.93" fill="#2b557c" opacity="0.80"/><ellipse cx="340.9" cy="283.5" rx="0.86" ry="0.84" fill="#4a82a8" opacity="0.70"/><ellipse cx="341.8" cy="283.6" rx="0.72" ry="0.78" fill="#3a6890" opacity="0.77"/><ellipse cx="327.6" cy="301.1" rx="0.35" ry="0.36" fill="#5a8fb0" opacity="0.81"/><ellipse cx="327.0" cy="300.8" rx="0.54" ry="0.42" fill="#2f6288" opacity="0.90"/><ellipse cx="329.9" cy="278.0" rx="0.55" ry="0.77" fill="#3a6890" opacity="0.66"/><ellipse cx="329.7" cy="278.3" rx="0.51" ry="0.62" fill="#4a82a8" opacity="0.58"/><ellipse cx="320.4" cy="293.2" rx="0.66" ry="0.47" fill="#2b557c" opacity="0.66"/><ellipse cx="345.4" cy="306.7" rx="0.78" ry="0.59" fill="#5a8fb0" opacity="0.72"/><ellipse cx="346.2" cy="306.7" rx="0.49" ry="0.64" fill="#3a7098" opacity="0.89"/><ellipse cx="333.7" cy="284.5" rx="0.66" ry="0.57" fill="#5a8fb0" opacity="0.77"/><ellipse cx="346.1" cy="282.4" rx="0.90" ry="0.90" fill="#5a8fb0" opacity="0.67"/><ellipse cx="317.9" cy="279.4" rx="0.84" ry="0.67" fill="#2b557c" opacity="0.81"/><ellipse cx="318.8" cy="278.9" rx="0.84" ry="0.66" fill="#5a8fb0" opacity="0.55"/><ellipse cx="318.4" cy="279.6" rx="0.61" ry="0.63" fill="#2f6288" opacity="0.77"/><ellipse cx="329.7" cy="305.6" rx="0.59" ry="0.87" fill="#3a6890" opacity="0.79"/><ellipse cx="329.1" cy="305.8" rx="0.86" ry="0.61" fill="#5a8fb0" opacity="0.84"/><ellipse cx="335.0" cy="306.9" rx="0.88" ry="0.82" fill="#4a82a8" opacity="0.85"/><ellipse cx="335.0" cy="307.3" rx="0.68" ry="0.68" fill="#5a8fb0" opacity="0.80"/><ellipse cx="335.9" cy="307.6" rx="0.97" ry="0.77" fill="#2f6288" opacity="0.57"/><ellipse cx="335.0" cy="299.8" rx="0.49" ry="0.52" fill="#3a7098" opacity="0.79"/><ellipse cx="313.8" cy="312.3" rx="0.69" ry="0.65" fill="#3a7098" opacity="0.87"/><ellipse cx="313.8" cy="311.8" rx="0.51" ry="0.46" fill="#2b557c" opacity="0.83"/><ellipse cx="313.0" cy="311.6" rx="0.61" ry="0.61" fill="#3a6890" opacity="0.58"/><ellipse cx="348.6" cy="303.0" rx="0.49" ry="0.58" fill="#3a7098" opacity="0.64"/><ellipse cx="347.7" cy="303.4" rx="0.65" ry="0.73" fill="#4a82a8" opacity="0.67"/><ellipse cx="348.9" cy="309.2" rx="0.62" ry="0.55" fill="#3a7098" opacity="0.87"/><ellipse cx="348.4" cy="309.7" rx="0.60" ry="0.77" fill="#2f6288" opacity="0.56"/><ellipse cx="343.2" cy="304.0" rx="0.59" ry="0.53" fill="#3a6890" opacity="0.57"/><ellipse cx="342.5" cy="304.6" rx="0.68" ry="0.75" fill="#2f6288" opacity="0.59"/><ellipse cx="344.0" cy="303.7" rx="0.64" ry="0.51" fill="#2f6288" opacity="0.64"/><ellipse cx="340.2" cy="301.3" rx="0.52" ry="0.57" fill="#3a7098" opacity="0.80"/><ellipse cx="308.0" cy="307.3" rx="0.57" ry="0.68" fill="#2b557c" opacity="0.62"/><ellipse cx="318.6" cy="299.4" rx="0.60" ry="0.57" fill="#2f6288" opacity="0.78"/><ellipse cx="317.8" cy="299.9" rx="0.94" ry="0.55" fill="#5a8fb0" opacity="0.83"/><ellipse cx="344.3" cy="293.2" rx="0.59" ry="0.72" fill="#5a8fb0" opacity="0.82"/><ellipse cx="314.7" cy="295.7" rx="0.77" ry="0.80" fill="#4a82a8" opacity="0.58"/><ellipse cx="314.5" cy="296.2" rx="0.63" ry="0.79" fill="#2b557c" opacity="0.65"/><ellipse cx="343.2" cy="307.5" rx="0.40" ry="0.56" fill="#2f6288" opacity="0.87"/><ellipse cx="217.3" cy="227.5" rx="0.39" ry="0.42" fill="#2f6288" opacity="0.77"/><ellipse cx="326.5" cy="231.2" rx="0.51" ry="0.58" fill="#4a82a8" opacity="0.75"/><ellipse cx="326.6" cy="230.5" rx="0.46" ry="0.61" fill="#4a82a8" opacity="0.63"/><ellipse cx="232.4" cy="264.0" rx="0.54" ry="0.49" fill="#3a7098" opacity="0.62"/><ellipse cx="243.5" cy="251.2" rx="0.58" ry="0.49" fill="#3a7098" opacity="0.66"/><ellipse cx="244.3" cy="252.0" rx="0.62" ry="0.48" fill="#2b557c" opacity="0.87"/><ellipse cx="244.2" cy="251.2" rx="0.65" ry="0.62" fill="#3a7098" opacity="0.88"/><ellipse cx="232.0" cy="277.1" rx="0.47" ry="0.43" fill="#3a6890" opacity="0.69"/><ellipse cx="232.8" cy="276.8" rx="0.45" ry="0.48" fill="#3a7098" opacity="0.79"/><ellipse cx="232.2" cy="276.6" rx="0.46" ry="0.37" fill="#4a82a8" opacity="0.66"/><ellipse cx="204.7" cy="206.7" rx="0.26" ry="0.33" fill="#2f6288" opacity="0.82"/><ellipse cx="204.5" cy="206.8" rx="0.40" ry="0.33" fill="#3a7098" opacity="0.63"/><ellipse cx="338.3" cy="176.1" rx="0.42" ry="0.42" fill="#4a82a8" opacity="0.67"/><ellipse cx="256.3" cy="191.1" rx="0.38" ry="0.28" fill="#3a6890" opacity="0.72"/><ellipse cx="255.5" cy="191.1" rx="0.37" ry="0.37" fill="#3a6890" opacity="0.60"/><ellipse cx="255.0" cy="248.3" rx="0.48" ry="0.41" fill="#5a8fb0" opacity="0.63"/><ellipse cx="255.4" cy="249.1" rx="0.48" ry="0.50" fill="#4a82a8" opacity="0.58"/><ellipse cx="342.1" cy="306.1" rx="0.37" ry="0.43" fill="#3a7098" opacity="0.78"/><ellipse cx="342.0" cy="305.7" rx="0.57" ry="0.40" fill="#2f6288" opacity="0.89"/><ellipse cx="244.0" cy="278.5" rx="0.60" ry="0.58" fill="#5a8fb0" opacity="0.66"/><ellipse cx="243.6" cy="278.1" rx="0.46" ry="0.43" fill="#4a82a8" opacity="0.72"/><ellipse cx="266.8" cy="178.3" rx="0.48" ry="0.61" fill="#3a7098" opacity="0.58"/><ellipse cx="266.1" cy="178.5" rx="0.65" ry="0.59" fill="#2b557c" opacity="0.70"/><ellipse cx="267.0" cy="178.2" rx="0.54" ry="0.64" fill="#4a82a8" opacity="0.71"/><ellipse cx="237.8" cy="210.9" rx="0.30" ry="0.43" fill="#4a82a8" opacity="0.88"/><ellipse cx="238.0" cy="210.9" rx="0.40" ry="0.31" fill="#5a8fb0" opacity="0.63"/><ellipse cx="257.4" cy="313.6" rx="0.58" ry="0.68" fill="#2b557c" opacity="0.66"/><ellipse cx="258.2" cy="314.2" rx="0.46" ry="0.43" fill="#3a7098" opacity="0.83"/><ellipse cx="318.7" cy="177.4" rx="0.34" ry="0.35" fill="#3a6890" opacity="0.76"/><ellipse cx="319.1" cy="178.1" rx="0.38" ry="0.37" fill="#5a8fb0" opacity="0.86"/><ellipse cx="285.1" cy="207.1" rx="0.58" ry="0.37" fill="#3a6890" opacity="0.70"/><ellipse cx="284.5" cy="207.3" rx="0.37" ry="0.61" fill="#5a8fb0" opacity="0.84"/><ellipse cx="285.2" cy="206.6" rx="0.40" ry="0.39" fill="#2f6288" opacity="0.87"/><ellipse cx="236.5" cy="294.9" rx="0.40" ry="0.44" fill="#3a7098" opacity="0.59"/><ellipse cx="236.4" cy="294.7" rx="0.41" ry="0.36" fill="#5a8fb0" opacity="0.89"/><ellipse cx="207.3" cy="273.9" rx="0.26" ry="0.28" fill="#2b557c" opacity="0.57"/><ellipse cx="207.8" cy="274.4" rx="0.43" ry="0.28" fill="#4a82a8" opacity="0.82"/><ellipse cx="332.0" cy="163.3" rx="0.45" ry="0.46" fill="#3a7098" opacity="0.64"/><ellipse cx="241.7" cy="282.3" rx="0.50" ry="0.62" fill="#5a8fb0" opacity="0.81"/><ellipse cx="241.0" cy="282.4" rx="0.68" ry="0.52" fill="#4a82a8" opacity="0.71"/><ellipse cx="241.7" cy="282.5" rx="0.77" ry="0.64" fill="#2b557c" opacity="0.57"/><ellipse cx="204.1" cy="218.0" rx="0.53" ry="0.43" fill="#2f6288" opacity="0.67"/><ellipse cx="204.6" cy="218.2" rx="0.45" ry="0.47" fill="#4a82a8" opacity="0.86"/><ellipse cx="232.7" cy="296.8" rx="0.36" ry="0.34" fill="#3a6890" opacity="0.63"/><ellipse cx="320.2" cy="278.5" rx="0.63" ry="0.43" fill="#3a6890" opacity="0.78"/><ellipse cx="320.6" cy="277.9" rx="0.57" ry="0.46" fill="#5a8fb0" opacity="0.79"/><ellipse cx="239.0" cy="180.0" rx="0.60" ry="0.51" fill="#3a7098" opacity="0.80"/><ellipse cx="239.1" cy="180.1" rx="0.57" ry="0.47" fill="#2b557c" opacity="0.74"/><ellipse cx="334.4" cy="197.0" rx="0.41" ry="0.59" fill="#2b557c" opacity="0.59"/><ellipse cx="333.6" cy="197.1" rx="0.41" ry="0.51" fill="#5a8fb0" opacity="0.62"/><ellipse cx="229.8" cy="175.3" rx="0.36" ry="0.45" fill="#3a6890" opacity="0.70"/><ellipse cx="322.2" cy="230.4" rx="0.49" ry="0.36" fill="#2b557c" opacity="0.73"/><ellipse cx="323.0" cy="230.5" rx="0.30" ry="0.40" fill="#3a6890" opacity="0.76"/><ellipse cx="223.8" cy="166.3" rx="0.64" ry="0.66" fill="#2f6288" opacity="0.81"/><ellipse cx="224.7" cy="166.0" rx="0.48" ry="0.39" fill="#2b557c" opacity="0.64"/><ellipse cx="223.2" cy="166.4" rx="0.62" ry="0.49" fill="#4a82a8" opacity="0.89"/><ellipse cx="266.7" cy="169.3" rx="0.39" ry="0.40" fill="#4a82a8" opacity="0.80"/><ellipse cx="266.3" cy="169.4" rx="0.39" ry="0.44" fill="#3a6890" opacity="0.88"/><ellipse cx="197.4" cy="234.8" rx="0.46" ry="0.56" fill="#2b557c" opacity="0.72"/><ellipse cx="282.7" cy="244.7" rx="0.51" ry="0.55" fill="#4a82a8" opacity="0.64"/><ellipse cx="283.2" cy="245.3" rx="0.55" ry="0.60" fill="#2b557c" opacity="0.58"/><ellipse cx="336.6" cy="169.7" rx="0.59" ry="0.50" fill="#3a7098" opacity="0.74"/><ellipse cx="336.7" cy="169.2" rx="0.61" ry="0.62" fill="#3a6890" opacity="0.58"/><ellipse cx="207.1" cy="177.1" rx="0.40" ry="0.44" fill="#3a6890" opacity="0.57"/><ellipse cx="290.3" cy="262.3" rx="0.44" ry="0.46" fill="#3a6890" opacity="0.58"/><ellipse cx="290.8" cy="262.1" rx="0.33" ry="0.37" fill="#3a7098" opacity="0.89"/><ellipse cx="291.1" cy="262.6" rx="0.34" ry="0.39" fill="#3a7098" opacity="0.61"/><ellipse cx="231.5" cy="249.7" rx="0.48" ry="0.41" fill="#3a6890" opacity="0.61"/><ellipse cx="231.9" cy="249.5" rx="0.39" ry="0.59" fill="#2b557c" opacity="0.87"/><ellipse cx="205.3" cy="182.4" rx="0.58" ry="0.60" fill="#3a6890" opacity="0.66"/><ellipse cx="205.0" cy="182.7" rx="0.76" ry="0.62" fill="#5a8fb0" opacity="0.84"/><ellipse cx="238.8" cy="183.5" rx="0.54" ry="0.49" fill="#4a82a8" opacity="0.71"/><ellipse cx="239.5" cy="182.8" rx="0.53" ry="0.49" fill="#3a7098" opacity="0.84"/><ellipse cx="237.8" cy="207.7" rx="0.36" ry="0.42" fill="#3a7098" opacity="0.83"/><ellipse cx="237.8" cy="207.1" rx="0.33" ry="0.47" fill="#4a82a8" opacity="0.72"/><ellipse cx="259.3" cy="292.7" rx="0.33" ry="0.26" fill="#2b557c" opacity="0.84"/><ellipse cx="312.1" cy="285.1" rx="0.61" ry="0.53" fill="#5a8fb0" opacity="0.63"/><ellipse cx="311.8" cy="284.4" rx="0.39" ry="0.64" fill="#2f6288" opacity="0.58"/><ellipse cx="220.9" cy="282.9" rx="0.46" ry="0.57" fill="#2f6288" opacity="0.58"/><ellipse cx="254.8" cy="300.3" rx="0.26" ry="0.41" fill="#4a82a8" opacity="0.60"/><ellipse cx="291.0" cy="265.8" rx="0.47" ry="0.46" fill="#4a82a8" opacity="0.58"/><ellipse cx="291.9" cy="265.7" rx="0.37" ry="0.44" fill="#2b557c" opacity="0.66"/><ellipse cx="286.1" cy="166.3" rx="0.74" ry="0.49" fill="#3a7098" opacity="0.86"/><ellipse cx="242.1" cy="189.6" rx="0.35" ry="0.39" fill="#3a7098" opacity="0.61"/><ellipse cx="241.9" cy="188.9" rx="0.46" ry="0.39" fill="#4a82a8" opacity="0.86"/><ellipse cx="237.2" cy="277.7" rx="0.42" ry="0.48" fill="#5a8fb0" opacity="0.87"/><ellipse cx="257.4" cy="183.4" rx="0.48" ry="0.41" fill="#2f6288" opacity="0.68"/><ellipse cx="256.8" cy="183.4" rx="0.29" ry="0.34" fill="#2f6288" opacity="0.85"/><ellipse cx="318.2" cy="206.1" rx="0.58" ry="0.57" fill="#2b557c" opacity="0.88"/><ellipse cx="213.4" cy="220.0" rx="0.34" ry="0.41" fill="#4a82a8" opacity="0.69"/><ellipse cx="250.8" cy="244.8" rx="0.46" ry="0.49" fill="#3a7098" opacity="0.86"/><ellipse cx="296.5" cy="281.3" rx="0.43" ry="0.49" fill="#2b557c" opacity="0.74"/><ellipse cx="286.2" cy="234.8" rx="0.36" ry="0.31" fill="#2f6288" opacity="0.62"/><ellipse cx="286.7" cy="234.8" rx="0.29" ry="0.43" fill="#3a6890" opacity="0.81"/><ellipse cx="243.1" cy="264.3" rx="0.31" ry="0.33" fill="#3a7098" opacity="0.81"/><ellipse cx="243.6" cy="263.9" rx="0.40" ry="0.47" fill="#2f6288" opacity="0.66"/><ellipse cx="307.2" cy="298.6" rx="0.37" ry="0.57" fill="#2b557c" opacity="0.88"/><ellipse cx="296.8" cy="294.6" rx="0.43" ry="0.43" fill="#4a82a8" opacity="0.64"/><ellipse cx="296.5" cy="294.0" rx="0.41" ry="0.48" fill="#3a6890" opacity="0.85"/><ellipse cx="297.5" cy="294.0" rx="0.33" ry="0.42" fill="#3a6890" opacity="0.79"/><ellipse cx="200.6" cy="211.2" rx="0.60" ry="0.43" fill="#2f6288" opacity="0.77"/><ellipse cx="200.3" cy="211.9" rx="0.58" ry="0.46" fill="#4a82a8" opacity="0.76"/><ellipse cx="244.9" cy="262.9" rx="0.56" ry="0.49" fill="#3a6890" opacity="0.58"/><ellipse cx="324.9" cy="256.1" rx="0.32" ry="0.35" fill="#5a8fb0" opacity="0.56"/><ellipse cx="236.9" cy="252.6" rx="0.64" ry="0.55" fill="#2f6288" opacity="0.83"/><ellipse cx="236.4" cy="252.0" rx="0.49" ry="0.66" fill="#2b557c" opacity="0.77"/><ellipse cx="227.2" cy="243.7" rx="0.40" ry="0.55" fill="#2f6288" opacity="0.62"/><ellipse cx="228.0" cy="243.4" rx="0.34" ry="0.52" fill="#3a7098" opacity="0.70"/><ellipse cx="202.1" cy="285.4" rx="0.34" ry="0.43" fill="#4a82a8" opacity="0.80"/><ellipse cx="201.6" cy="285.1" rx="0.37" ry="0.46" fill="#2b557c" opacity="0.67"/><ellipse cx="342.9" cy="191.8" rx="0.29" ry="0.43" fill="#4a82a8" opacity="0.71"/><ellipse cx="343.0" cy="192.0" rx="0.27" ry="0.44" fill="#3a7098" opacity="0.69"/><ellipse cx="342.6" cy="191.2" rx="0.30" ry="0.31" fill="#4a82a8" opacity="0.65"/><ellipse cx="297.5" cy="172.0" rx="0.49" ry="0.47" fill="#3a7098" opacity="0.70"/><ellipse cx="298.2" cy="171.2" rx="0.47" ry="0.51" fill="#2f6288" opacity="0.82"/><ellipse cx="297.8" cy="171.1" rx="0.36" ry="0.52" fill="#3a7098" opacity="0.86"/><ellipse cx="213.4" cy="253.5" rx="0.49" ry="0.51" fill="#5a8fb0" opacity="0.66"/><ellipse cx="213.5" cy="253.2" rx="0.43" ry="0.57" fill="#4a82a8" opacity="0.76"/><ellipse cx="207.0" cy="225.3" rx="0.69" ry="0.52" fill="#2b557c" opacity="0.67"/><ellipse cx="266.5" cy="282.0" rx="0.44" ry="0.48" fill="#4a82a8" opacity="0.80"/><ellipse cx="265.7" cy="281.6" rx="0.52" ry="0.46" fill="#2b557c" opacity="0.86"/><ellipse cx="335.0" cy="233.8" rx="0.50" ry="0.52" fill="#3a6890" opacity="0.72"/><ellipse cx="335.8" cy="233.9" rx="0.49" ry="0.64" fill="#4a82a8" opacity="0.77"/><ellipse cx="202.0" cy="212.4" rx="0.64" ry="0.61" fill="#3a6890" opacity="0.69"/><ellipse cx="220.4" cy="240.2" rx="0.57" ry="0.47" fill="#3a6890" opacity="0.85"/><ellipse cx="220.8" cy="240.9" rx="0.60" ry="0.40" fill="#4a82a8" opacity="0.85"/><ellipse cx="246.3" cy="211.1" rx="0.47" ry="0.45" fill="#3a6890" opacity="0.80"/><ellipse cx="245.7" cy="211.3" rx="0.47" ry="0.57" fill="#2b557c" opacity="0.87"/></g>
</g>
<g clip-path="url(#cp4)">
<rect x="354" y="163" width="152" height="151" fill="#e9b5d3"/>
<rect x="354" y="163" width="152" height="151" filter="url(#m4)" opacity="0.35"/>
<g filter="url(#org4)">
<ellipse cx="484" cy="273" rx="28" ry="50" transform="rotate(-10 484 273)" fill="#dc9fc6" opacity="0.4" filter="url(#b8)"/>
<ellipse cx="464" cy="208" rx="25" ry="18" transform="rotate(0 464 208)" fill="#dc9fc6" opacity="0.3" filter="url(#b8)"/>
<ellipse cx="384" cy="273" rx="25" ry="35" transform="rotate(0 384 273)" fill="#dc9fc6" opacity="0.15" filter="url(#b8)"/>
<ellipse cx="384" cy="213" rx="30" ry="30" transform="rotate(0 384 213)" fill="#f6e6ee" opacity="0.3" filter="url(#b8)"/>
<polygon points="451.0,176.0 458.0,178.0 456.0,182.0 442.0,191.0 432.0,203.0 427.0,215.0 425.0,229.0 423.0,243.0 422.0,263.0 420.0,285.0 416.0,299.0 424.0,303.0 438.0,308.0 434.0,314.0 404.0,314.0 406.0,303.0 412.0,295.0 415.0,283.0 417.0,263.0 418.0,243.0 420.0,225.0 423.0,211.0 429.0,198.0 440.0,187.0" fill="#f6e6ee" opacity="0.9" filter="url(#b1)"/>
<ellipse cx="444" cy="175" rx="14" ry="8" transform="rotate(0 444 175)" fill="#f6e6ee" opacity="0.5" filter="url(#b3)"/>
<ellipse cx="379" cy="195" rx="30" ry="5" transform="rotate(0 379 195)" fill="#f6e6ee" opacity="0.35" filter="url(#b3)"/>
<polygon points="466.0,233.0 470.0,235.0 454.0,255.0 446.0,278.0 441.0,303.0 437.0,303.0 442.0,277.0 450.0,255.0" fill="#f6e6ee" opacity="0.5" filter="url(#b2)"/>
</g>
<rect x="354" y="163" width="152" height="151" filter="url(#t4)"/>
</g>
<rect x="40.5" y="7.5" width="151" height="150" fill="none" stroke="#3a2d38" stroke-width="1.1"/>
<rect x="197.5" y="7.5" width="151" height="150" fill="none" stroke="#3a2d38" stroke-width="1.1"/>
<rect x="40.5" y="163.5" width="151" height="150" fill="none" stroke="#3a2d38" stroke-width="1.1"/>
<rect x="197.5" y="163.5" width="151" height="150" fill="none" stroke="#3a2d38" stroke-width="1.1"/>
<rect x="354.5" y="163.5" width="151" height="150" fill="none" stroke="#3a2d38" stroke-width="1.1"/>
<text x="48.00" y="19.30" font-size="8.6" text-anchor="start" textLength="27.4" lengthAdjust="spacingAndGlyphs" fill="#1e141e" style="stroke:#1e141e;stroke-width:0.25px">Vehicle</text>
<text x="205.00" y="19.40" font-size="8.6" text-anchor="start" textLength="40.2" lengthAdjust="spacingAndGlyphs" fill="#1e141e" style="stroke:#1e141e;stroke-width:0.25px">GSK360A</text>
<text x="48.00" y="178.40" font-size="8.6" text-anchor="start" textLength="27.4" lengthAdjust="spacingAndGlyphs" fill="#1e141e" style="stroke:#1e141e;stroke-width:0.25px">Vehicle</text>
<text x="205.00" y="178.30" font-size="8.6" text-anchor="start" textLength="40.2" lengthAdjust="spacingAndGlyphs" fill="#1e141e" style="stroke:#1e141e;stroke-width:0.25px">GSK360A</text>
<text x="364.00" y="178.00" font-size="8.6" text-anchor="start" textLength="31.0" lengthAdjust="spacingAndGlyphs" fill="#1e141e" style="stroke:#1e141e;stroke-width:0.25px">C.E.R.A.</text>
<text x="7.00" y="18.70" font-size="12.5" text-anchor="start" font-weight="bold" textLength="8.9" lengthAdjust="spacingAndGlyphs" fill="#111" style="stroke:#111;stroke-width:0.35px">A</text>
<text x="36.30" y="82.70" font-size="8.6" text-anchor="middle" textLength="28" lengthAdjust="spacingAndGlyphs" transform="rotate(-90 36.30 82.70)" fill="#1a1a1a" >Control</text>
<text x="36.00" y="238.20" font-size="8.6" text-anchor="middle" textLength="20.3" lengthAdjust="spacingAndGlyphs" transform="rotate(-90 36.00 238.20)" fill="#1a1a1a" >ISAM</text>
<line x1="424.00" y1="147.50" x2="453.30" y2="147.50" stroke="#1a1a1a" stroke-width="1.0" />
<text x="457.00" y="149.90" font-size="7.5" text-anchor="start" textLength="22.2" lengthAdjust="spacingAndGlyphs" fill="#1a1a1a" >50 µm</text>
<text x="7.30" y="333.60" font-size="12.5" text-anchor="start" font-weight="bold" textLength="9.2" lengthAdjust="spacingAndGlyphs" fill="#111" style="stroke:#111;stroke-width:0.35px">B</text>
<line x1="56.50" y1="330.50" x2="56.50" y2="492.80" stroke="#1a1a1a" stroke-width="1.0" />
<line x1="56.00" y1="492.50" x2="232.50" y2="492.50" stroke="#1a1a1a" stroke-width="1.0" />
<line x1="52.50" y1="492.50" x2="56.50" y2="492.50" stroke="#1a1a1a" stroke-width="1.0" />
<text x="50.30" y="496.00" font-size="9.2" text-anchor="end" fill="#1a1a1a" >0</text>
<line x1="52.50" y1="452.50" x2="56.50" y2="452.50" stroke="#1a1a1a" stroke-width="1.0" />
<text x="50.30" y="456.55" font-size="9.2" text-anchor="end" fill="#1a1a1a" >1</text>
<line x1="52.50" y1="413.50" x2="56.50" y2="413.50" stroke="#1a1a1a" stroke-width="1.0" />
<text x="50.30" y="417.10" font-size="9.2" text-anchor="end" fill="#1a1a1a" >2</text>
<line x1="52.50" y1="373.50" x2="56.50" y2="373.50" stroke="#1a1a1a" stroke-width="1.0" />
<text x="50.30" y="377.65" font-size="9.2" text-anchor="end" fill="#1a1a1a" >3</text>
<line x1="52.50" y1="334.50" x2="56.50" y2="334.50" stroke="#1a1a1a" stroke-width="1.0" />
<text x="50.30" y="338.20" font-size="9.2" text-anchor="end" fill="#1a1a1a" >4</text>
<text x="39.40" y="411.80" font-size="9.4" text-anchor="middle" textLength="93" lengthAdjust="spacingAndGlyphs" transform="rotate(-90 39.40 411.80)" fill="#1a1a1a" style="stroke:#1a1a1a;stroke-width:0.3px">Berlin blue–positive area (%)</text>
<rect x="62.00" y="479.28" width="25.00" height="13.02" fill="#3aa837" />
<rect x="97.20" y="490.72" width="25.00" height="1.58" fill="#3aa837" />
<rect x="132.50" y="444.17" width="25.00" height="48.13" fill="#0f4c85" />
<rect x="167.70" y="425.63" width="25.00" height="66.67" fill="#0f4c85" />
<rect x="203.00" y="490.33" width="25.00" height="1.97" fill="#0f4c85" />
<line x1="145.50" y1="407.60" x2="145.50" y2="480.00" stroke="#1a1a1a" stroke-width="1.0" />
<line x1="143.00" y1="407.50" x2="147.00" y2="407.50" stroke="#1a1a1a" stroke-width="1.0" />
<line x1="143.00" y1="480.50" x2="147.00" y2="480.50" stroke="#1a1a1a" stroke-width="1.0" />
<line x1="180.50" y1="391.00" x2="180.50" y2="460.00" stroke="#1a1a1a" stroke-width="1.0" />
<line x1="178.00" y1="391.50" x2="182.00" y2="391.50" stroke="#1a1a1a" stroke-width="1.0" />
<line x1="178.00" y1="460.50" x2="182.00" y2="460.50" stroke="#1a1a1a" stroke-width="1.0" />
<circle cx="74.20" cy="478.60" r="3.9" fill="none" stroke="#1a1a1a" stroke-width="1.15"/>
<circle cx="74.20" cy="477.80" r="3.9" fill="none" stroke="#1a1a1a" stroke-width="1.15"/>
<path d="M105.30 492.62 L113.10 492.62 L109.20 486.38 Z" fill="none" stroke="#1a1a1a" stroke-width="1.15" stroke-linejoin="miter"/>
<circle cx="145.00" cy="392.00" r="3.9" fill="none" stroke="#1a1a1a" stroke-width="1.15"/>
<circle cx="145.00" cy="396.30" r="3.9" fill="none" stroke="#1a1a1a" stroke-width="1.15"/>
<circle cx="145.00" cy="442.40" r="3.9" fill="none" stroke="#1a1a1a" stroke-width="1.15"/>
<circle cx="145.00" cy="473.60" r="3.9" fill="none" stroke="#1a1a1a" stroke-width="1.15"/>
<circle cx="145.00" cy="478.40" r="3.9" fill="none" stroke="#1a1a1a" stroke-width="1.15"/>
<path d="M175.80 356.12 L183.60 356.12 L179.70 349.88 Z" fill="none" stroke="#1a1a1a" stroke-width="1.15" stroke-linejoin="miter"/>
<path d="M175.80 421.72 L183.60 421.72 L179.70 415.48 Z" fill="none" stroke="#1a1a1a" stroke-width="1.15" stroke-linejoin="miter"/>
<path d="M175.80 424.12 L183.60 424.12 L179.70 417.88 Z" fill="none" stroke="#1a1a1a" stroke-width="1.15" stroke-linejoin="miter"/>
<path d="M175.80 447.92 L183.60 447.92 L179.70 441.68 Z" fill="none" stroke="#1a1a1a" stroke-width="1.15" stroke-linejoin="miter"/>
<path d="M175.80 453.92 L183.60 453.92 L179.70 447.68 Z" fill="none" stroke="#1a1a1a" stroke-width="1.15" stroke-linejoin="miter"/>
<path d="M175.80 473.12 L183.60 473.12 L179.70 466.88 Z" fill="none" stroke="#1a1a1a" stroke-width="1.15" stroke-linejoin="miter"/>
<path d="M215.50 485.40 L219.40 489.30 L215.50 493.20 L211.60 489.30 Z" fill="none" stroke="#1a1a1a" stroke-width="1.15"/>
<line x1="108.00" y1="344.50" x2="174.00" y2="344.50" stroke="#1a1a1a" stroke-width="1.0" />
<circle cx="141.00" cy="341.60" r="0.85" fill="#111"/>
<line x1="183.60" y1="344.50" x2="217.20" y2="344.50" stroke="#1a1a1a" stroke-width="1.0" />
<circle cx="200.90" cy="341.60" r="0.85" fill="#111"/>
<text x="7.30" y="527.30" font-size="12.5" text-anchor="start" font-weight="bold" textLength="9.2" lengthAdjust="spacingAndGlyphs" fill="#111" style="stroke:#111;stroke-width:0.35px">C</text>
<line x1="56.50" y1="516.00" x2="56.50" y2="679.00" stroke="#1a1a1a" stroke-width="1.0" />
<line x1="56.00" y1="678.50" x2="228.50" y2="678.50" stroke="#1a1a1a" stroke-width="1.0" />
<line x1="52.50" y1="678.50" x2="56.30" y2="678.50" stroke="#1a1a1a" stroke-width="1.0" />
<text x="49.40" y="682.20" font-size="9.2" text-anchor="end" fill="#1a1a1a" >0</text>
<line x1="52.50" y1="652.50" x2="56.30" y2="652.50" stroke="#1a1a1a" stroke-width="1.0" />
<text x="49.40" y="655.80" font-size="9.2" text-anchor="end" fill="#1a1a1a" >50</text>
<line x1="52.50" y1="625.50" x2="56.30" y2="625.50" stroke="#1a1a1a" stroke-width="1.0" />
<text x="49.40" y="629.40" font-size="9.2" text-anchor="end" fill="#1a1a1a" >100</text>
<line x1="52.50" y1="599.50" x2="56.30" y2="599.50" stroke="#1a1a1a" stroke-width="1.0" />
<text x="49.40" y="603.00" font-size="9.2" text-anchor="end" fill="#1a1a1a" >150</text>
<line x1="52.50" y1="572.50" x2="56.30" y2="572.50" stroke="#1a1a1a" stroke-width="1.0" />
<text x="49.40" y="576.60" font-size="9.2" text-anchor="end" fill="#1a1a1a" >200</text>
<line x1="52.50" y1="546.50" x2="56.30" y2="546.50" stroke="#1a1a1a" stroke-width="1.0" />
<text x="49.40" y="550.20" font-size="9.2" text-anchor="end" fill="#1a1a1a" >250</text>
<line x1="52.50" y1="520.50" x2="56.30" y2="520.50" stroke="#1a1a1a" stroke-width="1.0" />
<text x="49.40" y="523.80" font-size="9.2" text-anchor="end" fill="#1a1a1a" >300</text>
<text x="27.80" y="597.40" font-size="9.4" text-anchor="middle" textLength="61.6" lengthAdjust="spacingAndGlyphs" transform="rotate(-90 27.80 597.40)" fill="#1a1a1a" style="stroke:#1a1a1a;stroke-width:0.3px">Serum iron (µg/dL)</text>
<rect x="61.30" y="606.69" width="25.00" height="71.81" fill="#3aa837" />
<rect x="96.70" y="615.67" width="25.00" height="62.83" fill="#3aa837" />
<rect x="132.00" y="554.10" width="25.00" height="124.40" fill="#0f4c85" />
<rect x="167.20" y="592.44" width="25.00" height="86.06" fill="#0f4c85" />
<rect x="202.40" y="605.64" width="25.00" height="72.86" fill="#0f4c85" />
<line x1="74.50" y1="590.00" x2="74.50" y2="624.00" stroke="#1a1a1a" stroke-width="1.0" />
<line x1="72.00" y1="590.50" x2="76.00" y2="590.50" stroke="#1a1a1a" stroke-width="1.0" />
<line x1="72.00" y1="624.50" x2="76.00" y2="624.50" stroke="#1a1a1a" stroke-width="1.0" />
<line x1="108.50" y1="587.50" x2="108.50" y2="645.00" stroke="#1a1a1a" stroke-width="1.0" />
<line x1="106.80" y1="587.50" x2="110.80" y2="587.50" stroke="#1a1a1a" stroke-width="1.0" />
<line x1="106.80" y1="645.50" x2="110.80" y2="645.50" stroke="#1a1a1a" stroke-width="1.0" />
<line x1="144.50" y1="540.40" x2="144.50" y2="570.00" stroke="#1a1a1a" stroke-width="1.0" />
<line x1="142.50" y1="540.50" x2="146.50" y2="540.50" stroke="#1a1a1a" stroke-width="1.0" />
<line x1="142.50" y1="570.50" x2="146.50" y2="570.50" stroke="#1a1a1a" stroke-width="1.0" />
<line x1="179.50" y1="580.00" x2="179.50" y2="607.50" stroke="#1a1a1a" stroke-width="1.0" />
<line x1="177.70" y1="580.50" x2="181.70" y2="580.50" stroke="#1a1a1a" stroke-width="1.0" />
<line x1="177.70" y1="607.50" x2="181.70" y2="607.50" stroke="#1a1a1a" stroke-width="1.0" />
<line x1="214.50" y1="583.50" x2="214.50" y2="628.00" stroke="#1a1a1a" stroke-width="1.0" />
<line x1="212.70" y1="583.50" x2="216.70" y2="583.50" stroke="#1a1a1a" stroke-width="1.0" />
<line x1="212.70" y1="628.50" x2="216.70" y2="628.50" stroke="#1a1a1a" stroke-width="1.0" />
<circle cx="74.00" cy="570.50" r="3.9" fill="none" stroke="#1a1a1a" stroke-width="1.15"/>
<circle cx="74.00" cy="594.50" r="3.9" fill="none" stroke="#1a1a1a" stroke-width="1.15"/>
<circle cx="74.00" cy="597.50" r="3.9" fill="none" stroke="#1a1a1a" stroke-width="1.15"/>
<circle cx="74.00" cy="603.00" r="3.9" fill="none" stroke="#1a1a1a" stroke-width="1.15"/>
<circle cx="74.00" cy="607.00" r="3.9" fill="none" stroke="#1a1a1a" stroke-width="1.15"/>
<circle cx="74.00" cy="611.25" r="3.9" fill="none" stroke="#1a1a1a" stroke-width="1.15"/>
<circle cx="74.00" cy="631.75" r="3.9" fill="none" stroke="#1a1a1a" stroke-width="1.15"/>
<path d="M104.70 580.62 L112.50 580.62 L108.60 574.38 Z" fill="none" stroke="#1a1a1a" stroke-width="1.15" stroke-linejoin="miter"/>
<path d="M104.70 600.62 L112.50 600.62 L108.60 594.38 Z" fill="none" stroke="#1a1a1a" stroke-width="1.15" stroke-linejoin="miter"/>
<path d="M104.70 627.12 L112.50 627.12 L108.60 620.88 Z" fill="none" stroke="#1a1a1a" stroke-width="1.15" stroke-linejoin="miter"/>
<path d="M104.70 655.62 L112.50 655.62 L108.60 649.38 Z" fill="none" stroke="#1a1a1a" stroke-width="1.15" stroke-linejoin="miter"/>
<circle cx="144.50" cy="529.00" r="3.9" fill="none" stroke="#1a1a1a" stroke-width="1.15"/>
<circle cx="144.50" cy="543.80" r="3.9" fill="none" stroke="#1a1a1a" stroke-width="1.15"/>
<circle cx="144.50" cy="547.30" r="3.9" fill="none" stroke="#1a1a1a" stroke-width="1.15"/>
<circle cx="144.50" cy="565.80" r="3.9" fill="none" stroke="#1a1a1a" stroke-width="1.15"/>
<circle cx="144.50" cy="570.40" r="3.9" fill="none" stroke="#1a1a1a" stroke-width="1.15"/>
<circle cx="144.50" cy="584.20" r="3.9" fill="none" stroke="#1a1a1a" stroke-width="1.15"/>
<path d="M175.60 576.62 L183.40 576.62 L179.50 570.38 Z" fill="none" stroke="#1a1a1a" stroke-width="1.15" stroke-linejoin="miter"/>
<path d="M175.60 583.12 L183.40 583.12 L179.50 576.88 Z" fill="none" stroke="#1a1a1a" stroke-width="1.15" stroke-linejoin="miter"/>
<path d="M175.60 586.12 L183.40 586.12 L179.50 579.88 Z" fill="none" stroke="#1a1a1a" stroke-width="1.15" stroke-linejoin="miter"/>
<path d="M175.60 589.12 L183.40 589.12 L179.50 582.88 Z" fill="none" stroke="#1a1a1a" stroke-width="1.15" stroke-linejoin="miter"/>
<path d="M175.60 602.12 L183.40 602.12 L179.50 595.88 Z" fill="none" stroke="#1a1a1a" stroke-width="1.15" stroke-linejoin="miter"/>
<path d="M175.60 621.62 L183.40 621.62 L179.50 615.38 Z" fill="none" stroke="#1a1a1a" stroke-width="1.15" stroke-linejoin="miter"/>
<path d="M214.80 563.00 L218.70 566.90 L214.80 570.80 L210.90 566.90 Z" fill="none" stroke="#1a1a1a" stroke-width="1.15"/>
<path d="M214.80 599.50 L218.70 603.40 L214.80 607.30 L210.90 603.40 Z" fill="none" stroke="#1a1a1a" stroke-width="1.15"/>
<path d="M214.80 605.70 L218.70 609.60 L214.80 613.50 L210.90 609.60 Z" fill="none" stroke="#1a1a1a" stroke-width="1.15"/>
<path d="M214.80 625.80 L218.70 629.70 L214.80 633.60 L210.90 629.70 Z" fill="none" stroke="#1a1a1a" stroke-width="1.15"/>
<line x1="109.40" y1="515.50" x2="179.80" y2="515.50" stroke="#1a1a1a" stroke-width="1.0" />
<circle cx="143.80" cy="512.40" r="0.85" fill="#111"/>
<line x1="76.80" y1="524.50" x2="139.00" y2="524.50" stroke="#1a1a1a" stroke-width="1.0" />
<circle cx="105.30" cy="521.00" r="0.85" fill="#111"/>
<circle cx="108.70" cy="521.00" r="0.85" fill="#111"/>
<line x1="150.50" y1="524.50" x2="213.00" y2="524.50" stroke="#1a1a1a" stroke-width="1.0" />
<circle cx="180.60" cy="521.00" r="0.85" fill="#111"/>
<circle cx="184.00" cy="521.00" r="0.85" fill="#111"/>
<line x1="109.40" y1="534.50" x2="137.70" y2="534.50" stroke="#1a1a1a" stroke-width="1.0" />
<circle cx="122.10" cy="530.80" r="0.85" fill="#111"/>
<circle cx="125.50" cy="530.80" r="0.85" fill="#111"/>
<line x1="151.50" y1="534.50" x2="179.80" y2="534.50" stroke="#1a1a1a" stroke-width="1.0" />
<circle cx="166.00" cy="530.80" r="0.85" fill="#111"/>
<text x="76.90" y="683.40" font-size="9.2" text-anchor="end" textLength="27.0" lengthAdjust="spacingAndGlyphs" transform="rotate(-90 76.90 683.40)" fill="#1a1a1a" >Vehicle</text>
<text x="112.30" y="682.40" font-size="9.2" text-anchor="end" textLength="39.9" lengthAdjust="spacingAndGlyphs" transform="rotate(-90 112.30 682.40)" fill="#1a1a1a" >GSK360A</text>
<text x="147.60" y="683.40" font-size="9.2" text-anchor="end" textLength="27.0" lengthAdjust="spacingAndGlyphs" transform="rotate(-90 147.60 683.40)" fill="#1a1a1a" >Vehicle</text>
<text x="182.80" y="682.40" font-size="9.2" text-anchor="end" textLength="39.9" lengthAdjust="spacingAndGlyphs" transform="rotate(-90 182.80 682.40)" fill="#1a1a1a" >GSK360A</text>
<text x="218.00" y="682.30" font-size="9.2" text-anchor="end" textLength="29.8" lengthAdjust="spacingAndGlyphs" transform="rotate(-90 218.00 682.30)" fill="#1a1a1a" >C.E.R.A</text>
<line x1="64.00" y1="731.50" x2="121.20" y2="731.50" stroke="#1a1a1a" stroke-width="1.0" />
<line x1="130.40" y1="731.50" x2="228.00" y2="731.50" stroke="#1a1a1a" stroke-width="1.0" />
<text x="92.30" y="742.60" font-size="9" text-anchor="middle" textLength="27" lengthAdjust="spacingAndGlyphs" fill="#1a1a1a" >Control</text>
<text x="179.30" y="742.60" font-size="9" text-anchor="middle" textLength="21.3" lengthAdjust="spacingAndGlyphs" fill="#1a1a1a" >ISAM</text>
<text x="260.30" y="333.20" font-size="12.5" text-anchor="start" font-weight="bold" textLength="9.5" lengthAdjust="spacingAndGlyphs" fill="#111" style="stroke:#111;stroke-width:0.35px">D</text>
<line x1="308.50" y1="329.50" x2="308.50" y2="491.00" stroke="#1a1a1a" stroke-width="1.0" />
<line x1="308.30" y1="490.50" x2="509.60" y2="490.50" stroke="#1a1a1a" stroke-width="1.0" />
<line x1="304.50" y1="490.50" x2="308.80" y2="490.50" stroke="#1a1a1a" stroke-width="1.0" />
<text x="302.40" y="494.60" font-size="9.2" text-anchor="end" fill="#1a1a1a" >0</text>
<line x1="304.50" y1="464.50" x2="308.80" y2="464.50" stroke="#1a1a1a" stroke-width="1.0" />
<text x="302.40" y="467.90" font-size="9.2" text-anchor="end" fill="#1a1a1a" >20</text>
<line x1="304.50" y1="437.50" x2="308.80" y2="437.50" stroke="#1a1a1a" stroke-width="1.0" />
<text x="302.40" y="441.20" font-size="9.2" text-anchor="end" fill="#1a1a1a" >40</text>
<line x1="304.50" y1="410.50" x2="308.80" y2="410.50" stroke="#1a1a1a" stroke-width="1.0" />
<text x="302.40" y="414.50" font-size="9.2" text-anchor="end" fill="#1a1a1a" >60</text>
<line x1="304.50" y1="384.50" x2="308.80" y2="384.50" stroke="#1a1a1a" stroke-width="1.0" />
<text x="302.40" y="387.80" font-size="9.2" text-anchor="end" fill="#1a1a1a" >80</text>
<line x1="304.50" y1="357.50" x2="308.80" y2="357.50" stroke="#1a1a1a" stroke-width="1.0" />
<text x="302.40" y="361.10" font-size="9.2" text-anchor="end" fill="#1a1a1a" >100</text>
<line x1="304.50" y1="330.50" x2="308.80" y2="330.50" stroke="#1a1a1a" stroke-width="1.0" />
<text x="302.40" y="334.40" font-size="9.2" text-anchor="end" fill="#1a1a1a" >120</text>
<line x1="308.50" y1="514.00" x2="308.50" y2="679.00" stroke="#1a1a1a" stroke-width="1.0" />
<line x1="308.30" y1="678.50" x2="509.60" y2="678.50" stroke="#1a1a1a" stroke-width="1.0" />
<line x1="304.50" y1="678.50" x2="308.80" y2="678.50" stroke="#1a1a1a" stroke-width="1.0" />
<text x="302.40" y="682.20" font-size="9.2" text-anchor="end" fill="#1a1a1a" >0</text>
<line x1="304.50" y1="655.50" x2="308.80" y2="655.50" stroke="#1a1a1a" stroke-width="1.0" />
<text x="302.40" y="658.94" font-size="9.2" text-anchor="end" fill="#1a1a1a" >5</text>
<line x1="304.50" y1="631.50" x2="308.80" y2="631.50" stroke="#1a1a1a" stroke-width="1.0" />
<text x="302.40" y="635.68" font-size="9.2" text-anchor="end" fill="#1a1a1a" >10</text>
<line x1="304.50" y1="608.50" x2="308.80" y2="608.50" stroke="#1a1a1a" stroke-width="1.0" />
<text x="302.40" y="612.42" font-size="9.2" text-anchor="end" fill="#1a1a1a" >15</text>
<line x1="304.50" y1="585.50" x2="308.80" y2="585.50" stroke="#1a1a1a" stroke-width="1.0" />
<text x="302.40" y="589.16" font-size="9.2" text-anchor="end" fill="#1a1a1a" >20</text>
<line x1="304.50" y1="562.50" x2="308.80" y2="562.50" stroke="#1a1a1a" stroke-width="1.0" />
<text x="302.40" y="565.90" font-size="9.2" text-anchor="end" fill="#1a1a1a" >25</text>
<line x1="304.50" y1="538.50" x2="308.80" y2="538.50" stroke="#1a1a1a" stroke-width="1.0" />
<text x="302.40" y="542.64" font-size="9.2" text-anchor="end" fill="#1a1a1a" >30</text>
<line x1="304.50" y1="515.50" x2="308.80" y2="515.50" stroke="#1a1a1a" stroke-width="1.0" />
<text x="302.40" y="519.38" font-size="9.2" text-anchor="end" fill="#1a1a1a" >35</text>
<text x="280.80" y="503.00" font-size="9.4" text-anchor="middle" textLength="112.5" lengthAdjust="spacingAndGlyphs" transform="rotate(-90 280.80 503.00)" fill="#1a1a1a" style="stroke:#1a1a1a;stroke-width:0.3px">Relative mRNA levels in duodenum</text>
<text x="509.90" y="334.80" font-size="10.3" text-anchor="end" font-style="italic" textLength="37.6" lengthAdjust="spacingAndGlyphs" fill="#1a1a1a" >Slc11a2</text>
<text x="509.90" y="514.10" font-size="10.3" text-anchor="end" font-style="italic" textLength="33.0" lengthAdjust="spacingAndGlyphs" fill="#1a1a1a" >Cybrd1</text>
<rect x="313.70" y="490.10" width="23.60" height="0.80" fill="#3aa837" />
<rect x="347.60" y="420.55" width="23.60" height="70.35" fill="#3aa837" />
<rect x="381.20" y="470.88" width="23.60" height="20.02" fill="#3aa837" />
<rect x="414.70" y="488.23" width="23.60" height="2.67" fill="#0f4c85" />
<rect x="448.00" y="398.38" width="23.60" height="92.52" fill="#0f4c85" />
<rect x="481.40" y="442.84" width="23.60" height="48.06" fill="#0f4c85" />
<rect x="313.70" y="674.31" width="23.60" height="4.19" fill="#3aa837" />
<rect x="347.60" y="607.32" width="23.60" height="71.18" fill="#3aa837" />
<rect x="381.20" y="657.10" width="23.60" height="21.40" fill="#3aa837" />
<rect x="414.70" y="660.82" width="23.60" height="17.68" fill="#0f4c85" />
<rect x="448.00" y="592.44" width="23.60" height="86.06" fill="#0f4c85" />
<rect x="481.40" y="581.74" width="23.60" height="96.76" fill="#0f4c85" />
<line x1="409.50" y1="333.80" x2="409.50" y2="744.50" stroke="#1a1a1a" stroke-width="1.0" stroke-dasharray="1.7 1.76"/>
<circle cx="327.30" cy="482.50" r="3.9" fill="none" stroke="#1a1a1a" stroke-width="1.15"/>
<ellipse cx="327.3" cy="490.2" rx="3" ry="1.3" fill="#111"/>
<line x1="359.50" y1="390.00" x2="359.50" y2="451.00" stroke="#1a1a1a" stroke-width="1.0" />
<line x1="357.50" y1="390.50" x2="361.50" y2="390.50" stroke="#1a1a1a" stroke-width="1.0" />
<line x1="357.50" y1="451.50" x2="361.50" y2="451.50" stroke="#1a1a1a" stroke-width="1.0" />
<path d="M355.60 373.92 L363.40 373.92 L359.50 367.68 Z" fill="none" stroke="#1a1a1a" stroke-width="1.15" stroke-linejoin="miter"/>
<path d="M355.60 401.92 L363.40 401.92 L359.50 395.68 Z" fill="none" stroke="#1a1a1a" stroke-width="1.15" stroke-linejoin="miter"/>
<path d="M355.60 434.12 L363.40 434.12 L359.50 427.88 Z" fill="none" stroke="#1a1a1a" stroke-width="1.15" stroke-linejoin="miter"/>
<path d="M355.60 453.62 L363.40 453.62 L359.50 447.38 Z" fill="none" stroke="#1a1a1a" stroke-width="1.15" stroke-linejoin="miter"/>
<line x1="393.50" y1="457.00" x2="393.50" y2="481.00" stroke="#1a1a1a" stroke-width="1.0" />
<line x1="391.20" y1="457.50" x2="395.20" y2="457.50" stroke="#1a1a1a" stroke-width="1.0" />
<line x1="391.20" y1="481.50" x2="395.20" y2="481.50" stroke="#1a1a1a" stroke-width="1.0" />
<path d="M389.90 452.50 L396.50 459.10 M396.50 452.50 L389.90 459.10" stroke="#1a1a1a" stroke-width="1.15"/>
<path d="M389.90 455.20 L396.50 461.80 M396.50 455.20 L389.90 461.80" stroke="#1a1a1a" stroke-width="1.15"/>
<path d="M389.90 458.20 L396.50 464.80 M396.50 458.20 L389.90 464.80" stroke="#1a1a1a" stroke-width="1.15"/>
<path d="M389.90 475.50 L396.50 482.10 M396.50 475.50 L389.90 482.10" stroke="#1a1a1a" stroke-width="1.15"/>
<circle cx="426.20" cy="478.50" r="3.9" fill="none" stroke="#1a1a1a" stroke-width="1.15"/>
<circle cx="426.20" cy="481.00" r="3.9" fill="none" stroke="#1a1a1a" stroke-width="1.15"/>
<circle cx="426.20" cy="483.00" r="3.9" fill="none" stroke="#1a1a1a" stroke-width="1.15"/>
<line x1="460.50" y1="368.00" x2="460.50" y2="429.00" stroke="#1a1a1a" stroke-width="1.0" />
<line x1="458.00" y1="368.50" x2="462.00" y2="368.50" stroke="#1a1a1a" stroke-width="1.0" />
<line x1="458.00" y1="429.50" x2="462.00" y2="429.50" stroke="#1a1a1a" stroke-width="1.0" />
<path d="M456.10 352.12 L463.90 352.12 L460.00 345.88 Z" fill="none" stroke="#1a1a1a" stroke-width="1.15" stroke-linejoin="miter"/>
<path d="M456.10 375.42 L463.90 375.42 L460.00 369.18 Z" fill="none" stroke="#1a1a1a" stroke-width="1.15" stroke-linejoin="miter"/>
<path d="M456.10 408.12 L463.90 408.12 L460.00 401.88 Z" fill="none" stroke="#1a1a1a" stroke-width="1.15" stroke-linejoin="miter"/>
<path d="M456.10 436.12 L463.90 436.12 L460.00 429.88 Z" fill="none" stroke="#1a1a1a" stroke-width="1.15" stroke-linejoin="miter"/>
<line x1="493.50" y1="416.70" x2="493.50" y2="470.00" stroke="#1a1a1a" stroke-width="1.0" />
<line x1="491.50" y1="416.50" x2="495.50" y2="416.50" stroke="#1a1a1a" stroke-width="1.0" />
<line x1="491.50" y1="470.50" x2="495.50" y2="470.50" stroke="#1a1a1a" stroke-width="1.0" />
<path d="M490.20 398.70 L496.80 405.30 M496.80 398.70 L490.20 405.30" stroke="#1a1a1a" stroke-width="1.15"/>
<path d="M490.20 413.40 L496.80 420.00 M496.80 413.40 L490.20 420.00" stroke="#1a1a1a" stroke-width="1.15"/>
<path d="M490.20 454.90 L496.80 461.50 M496.80 454.90 L490.20 461.50" stroke="#1a1a1a" stroke-width="1.15"/>
<path d="M490.20 461.10 L496.80 467.70 M496.80 461.10 L490.20 467.70" stroke="#1a1a1a" stroke-width="1.15"/>
<line x1="324.70" y1="361.50" x2="355.40" y2="361.50" stroke="#1a1a1a" stroke-width="1.0" />
<circle cx="338.30" cy="358.10" r="0.85" fill="#111"/>
<circle cx="341.70" cy="358.10" r="0.85" fill="#111"/>
<line x1="362.30" y1="361.50" x2="393.00" y2="361.50" stroke="#1a1a1a" stroke-width="1.0" />
<circle cx="377.60" cy="358.10" r="0.85" fill="#111"/>
<line x1="426.70" y1="341.50" x2="457.30" y2="341.50" stroke="#1a1a1a" stroke-width="1.0" />
<circle cx="440.30" cy="338.60" r="0.85" fill="#111"/>
<circle cx="443.70" cy="338.60" r="0.85" fill="#111"/>
<circle cx="325.80" cy="671.00" r="3.9" fill="none" stroke="#1a1a1a" stroke-width="1.15"/>
<circle cx="325.80" cy="674.70" r="3.9" fill="none" stroke="#1a1a1a" stroke-width="1.15"/>
<line x1="359.50" y1="559.50" x2="359.50" y2="655.00" stroke="#1a1a1a" stroke-width="1.0" />
<line x1="357.60" y1="559.50" x2="361.60" y2="559.50" stroke="#1a1a1a" stroke-width="1.0" />
<line x1="357.60" y1="655.50" x2="361.60" y2="655.50" stroke="#1a1a1a" stroke-width="1.0" />
<path d="M355.70 552.52 L363.50 552.52 L359.60 546.28 Z" fill="none" stroke="#1a1a1a" stroke-width="1.15" stroke-linejoin="miter"/>
<path d="M355.70 576.52 L363.50 576.52 L359.60 570.28 Z" fill="none" stroke="#1a1a1a" stroke-width="1.15" stroke-linejoin="miter"/>
<path d="M355.70 654.52 L363.50 654.52 L359.60 648.28 Z" fill="none" stroke="#1a1a1a" stroke-width="1.15" stroke-linejoin="miter"/>
<path d="M355.70 660.12 L363.50 660.12 L359.60 653.88 Z" fill="none" stroke="#1a1a1a" stroke-width="1.15" stroke-linejoin="miter"/>
<line x1="393.50" y1="648.00" x2="393.50" y2="664.00" stroke="#1a1a1a" stroke-width="1.0" />
<line x1="391.00" y1="648.50" x2="395.00" y2="648.50" stroke="#1a1a1a" stroke-width="1.0" />
<line x1="391.00" y1="664.50" x2="395.00" y2="664.50" stroke="#1a1a1a" stroke-width="1.0" />
<path d="M389.70 642.40 L396.30 649.00 M396.30 642.40 L389.70 649.00" stroke="#1a1a1a" stroke-width="1.15"/>
<path d="M389.70 646.70 L396.30 653.30 M396.30 646.70 L389.70 653.30" stroke="#1a1a1a" stroke-width="1.15"/>
<path d="M389.70 653.70 L396.30 660.30 M396.30 653.70 L389.70 660.30" stroke="#1a1a1a" stroke-width="1.15"/>
<path d="M389.70 664.00 L396.30 670.60 M396.30 664.00 L389.70 670.60" stroke="#1a1a1a" stroke-width="1.15"/>
<circle cx="426.30" cy="652.90" r="3.9" fill="none" stroke="#1a1a1a" stroke-width="1.15"/>
<circle cx="426.30" cy="656.00" r="3.9" fill="none" stroke="#1a1a1a" stroke-width="1.15"/>
<circle cx="426.30" cy="659.00" r="3.9" fill="none" stroke="#1a1a1a" stroke-width="1.15"/>
<circle cx="426.30" cy="668.70" r="3.9" fill="none" stroke="#1a1a1a" stroke-width="1.15"/>
<line x1="459.50" y1="562.60" x2="459.50" y2="625.00" stroke="#1a1a1a" stroke-width="1.0" />
<line x1="457.60" y1="562.50" x2="461.60" y2="562.50" stroke="#1a1a1a" stroke-width="1.0" />
<line x1="457.60" y1="625.50" x2="461.60" y2="625.50" stroke="#1a1a1a" stroke-width="1.0" />
<path d="M455.70 546.42 L463.50 546.42 L459.60 540.18 Z" fill="none" stroke="#1a1a1a" stroke-width="1.15" stroke-linejoin="miter"/>
<path d="M455.70 601.12 L463.50 601.12 L459.60 594.88 Z" fill="none" stroke="#1a1a1a" stroke-width="1.15" stroke-linejoin="miter"/>
<path d="M455.70 612.72 L463.50 612.72 L459.60 606.48 Z" fill="none" stroke="#1a1a1a" stroke-width="1.15" stroke-linejoin="miter"/>
<path d="M455.70 621.42 L463.50 621.42 L459.60 615.18 Z" fill="none" stroke="#1a1a1a" stroke-width="1.15" stroke-linejoin="miter"/>
<line x1="493.50" y1="545.60" x2="493.50" y2="616.80" stroke="#1a1a1a" stroke-width="1.0" />
<line x1="491.20" y1="545.50" x2="495.20" y2="545.50" stroke="#1a1a1a" stroke-width="1.0" />
<line x1="491.20" y1="616.50" x2="495.20" y2="616.50" stroke="#1a1a1a" stroke-width="1.0" />
<path d="M489.90 529.90 L496.50 536.50 M496.50 529.90 L489.90 536.50" stroke="#1a1a1a" stroke-width="1.15"/>
<path d="M489.90 565.90 L496.50 572.50 M496.50 565.90 L489.90 572.50" stroke="#1a1a1a" stroke-width="1.15"/>
<path d="M489.90 586.10 L496.50 592.70 M496.50 586.10 L489.90 592.70" stroke="#1a1a1a" stroke-width="1.15"/>
<path d="M489.90 627.10 L496.50 633.70 M496.50 627.10 L489.90 633.70" stroke="#1a1a1a" stroke-width="1.15"/>
<line x1="326.30" y1="535.50" x2="357.00" y2="535.50" stroke="#1a1a1a" stroke-width="1.0" />
<circle cx="341.50" cy="532.00" r="0.85" fill="#111"/>
<line x1="427.70" y1="523.50" x2="489.10" y2="523.50" stroke="#1a1a1a" stroke-width="1.0" />
<circle cx="458.00" cy="520.20" r="0.85" fill="#111"/>
<line x1="426.80" y1="536.50" x2="457.40" y2="536.50" stroke="#1a1a1a" stroke-width="1.0" />
<circle cx="442.10" cy="534.00" r="0.85" fill="#111"/>
<text x="328.60" y="682.00" font-size="9.2" text-anchor="end" textLength="26.5" lengthAdjust="spacingAndGlyphs" transform="rotate(-90 328.60 682.00)" fill="#1a1a1a" >Vehicle</text>
<text x="362.50" y="682.00" font-size="9.2" text-anchor="end" textLength="39.8" lengthAdjust="spacingAndGlyphs" transform="rotate(-90 362.50 682.00)" fill="#1a1a1a" >GSK360A</text>
<text x="396.10" y="682.00" font-size="9.2" text-anchor="end" textLength="13.8" lengthAdjust="spacingAndGlyphs" transform="rotate(-90 396.10 682.00)" fill="#1a1a1a" >Rox</text>
<text x="429.60" y="682.00" font-size="9.2" text-anchor="end" textLength="26.5" lengthAdjust="spacingAndGlyphs" transform="rotate(-90 429.60 682.00)" fill="#1a1a1a" >Vehicle</text>
<text x="462.90" y="682.00" font-size="9.2" text-anchor="end" textLength="39.8" lengthAdjust="spacingAndGlyphs" transform="rotate(-90 462.90 682.00)" fill="#1a1a1a" >GSK360A</text>
<text x="496.30" y="682.00" font-size="9.2" text-anchor="end" textLength="13.8" lengthAdjust="spacingAndGlyphs" transform="rotate(-90 496.30 682.00)" fill="#1a1a1a" >Rox</text>
<line x1="316.90" y1="731.50" x2="402.90" y2="731.50" stroke="#1a1a1a" stroke-width="1.0" />
<line x1="415.30" y1="731.50" x2="501.20" y2="731.50" stroke="#1a1a1a" stroke-width="1.0" />
<text x="360.00" y="742.20" font-size="9" text-anchor="middle" textLength="27.9" lengthAdjust="spacingAndGlyphs" fill="#1a1a1a" >Control</text>
<text x="458.30" y="741.90" font-size="9" text-anchor="middle" textLength="20.4" lengthAdjust="spacingAndGlyphs" fill="#1a1a1a" >ISAM</text>
<rect x="0" y="0" width="520" height="1" fill="#5a5a5a"/>
<rect x="0" y="0" width="1" height="750" fill="#505050"/>
<rect x="519" y="0" width="1" height="750" fill="#3c3c3c"/>
<rect x="0" y="749" width="520" height="1" fill="#333"/>
</svg>
</body></html>
